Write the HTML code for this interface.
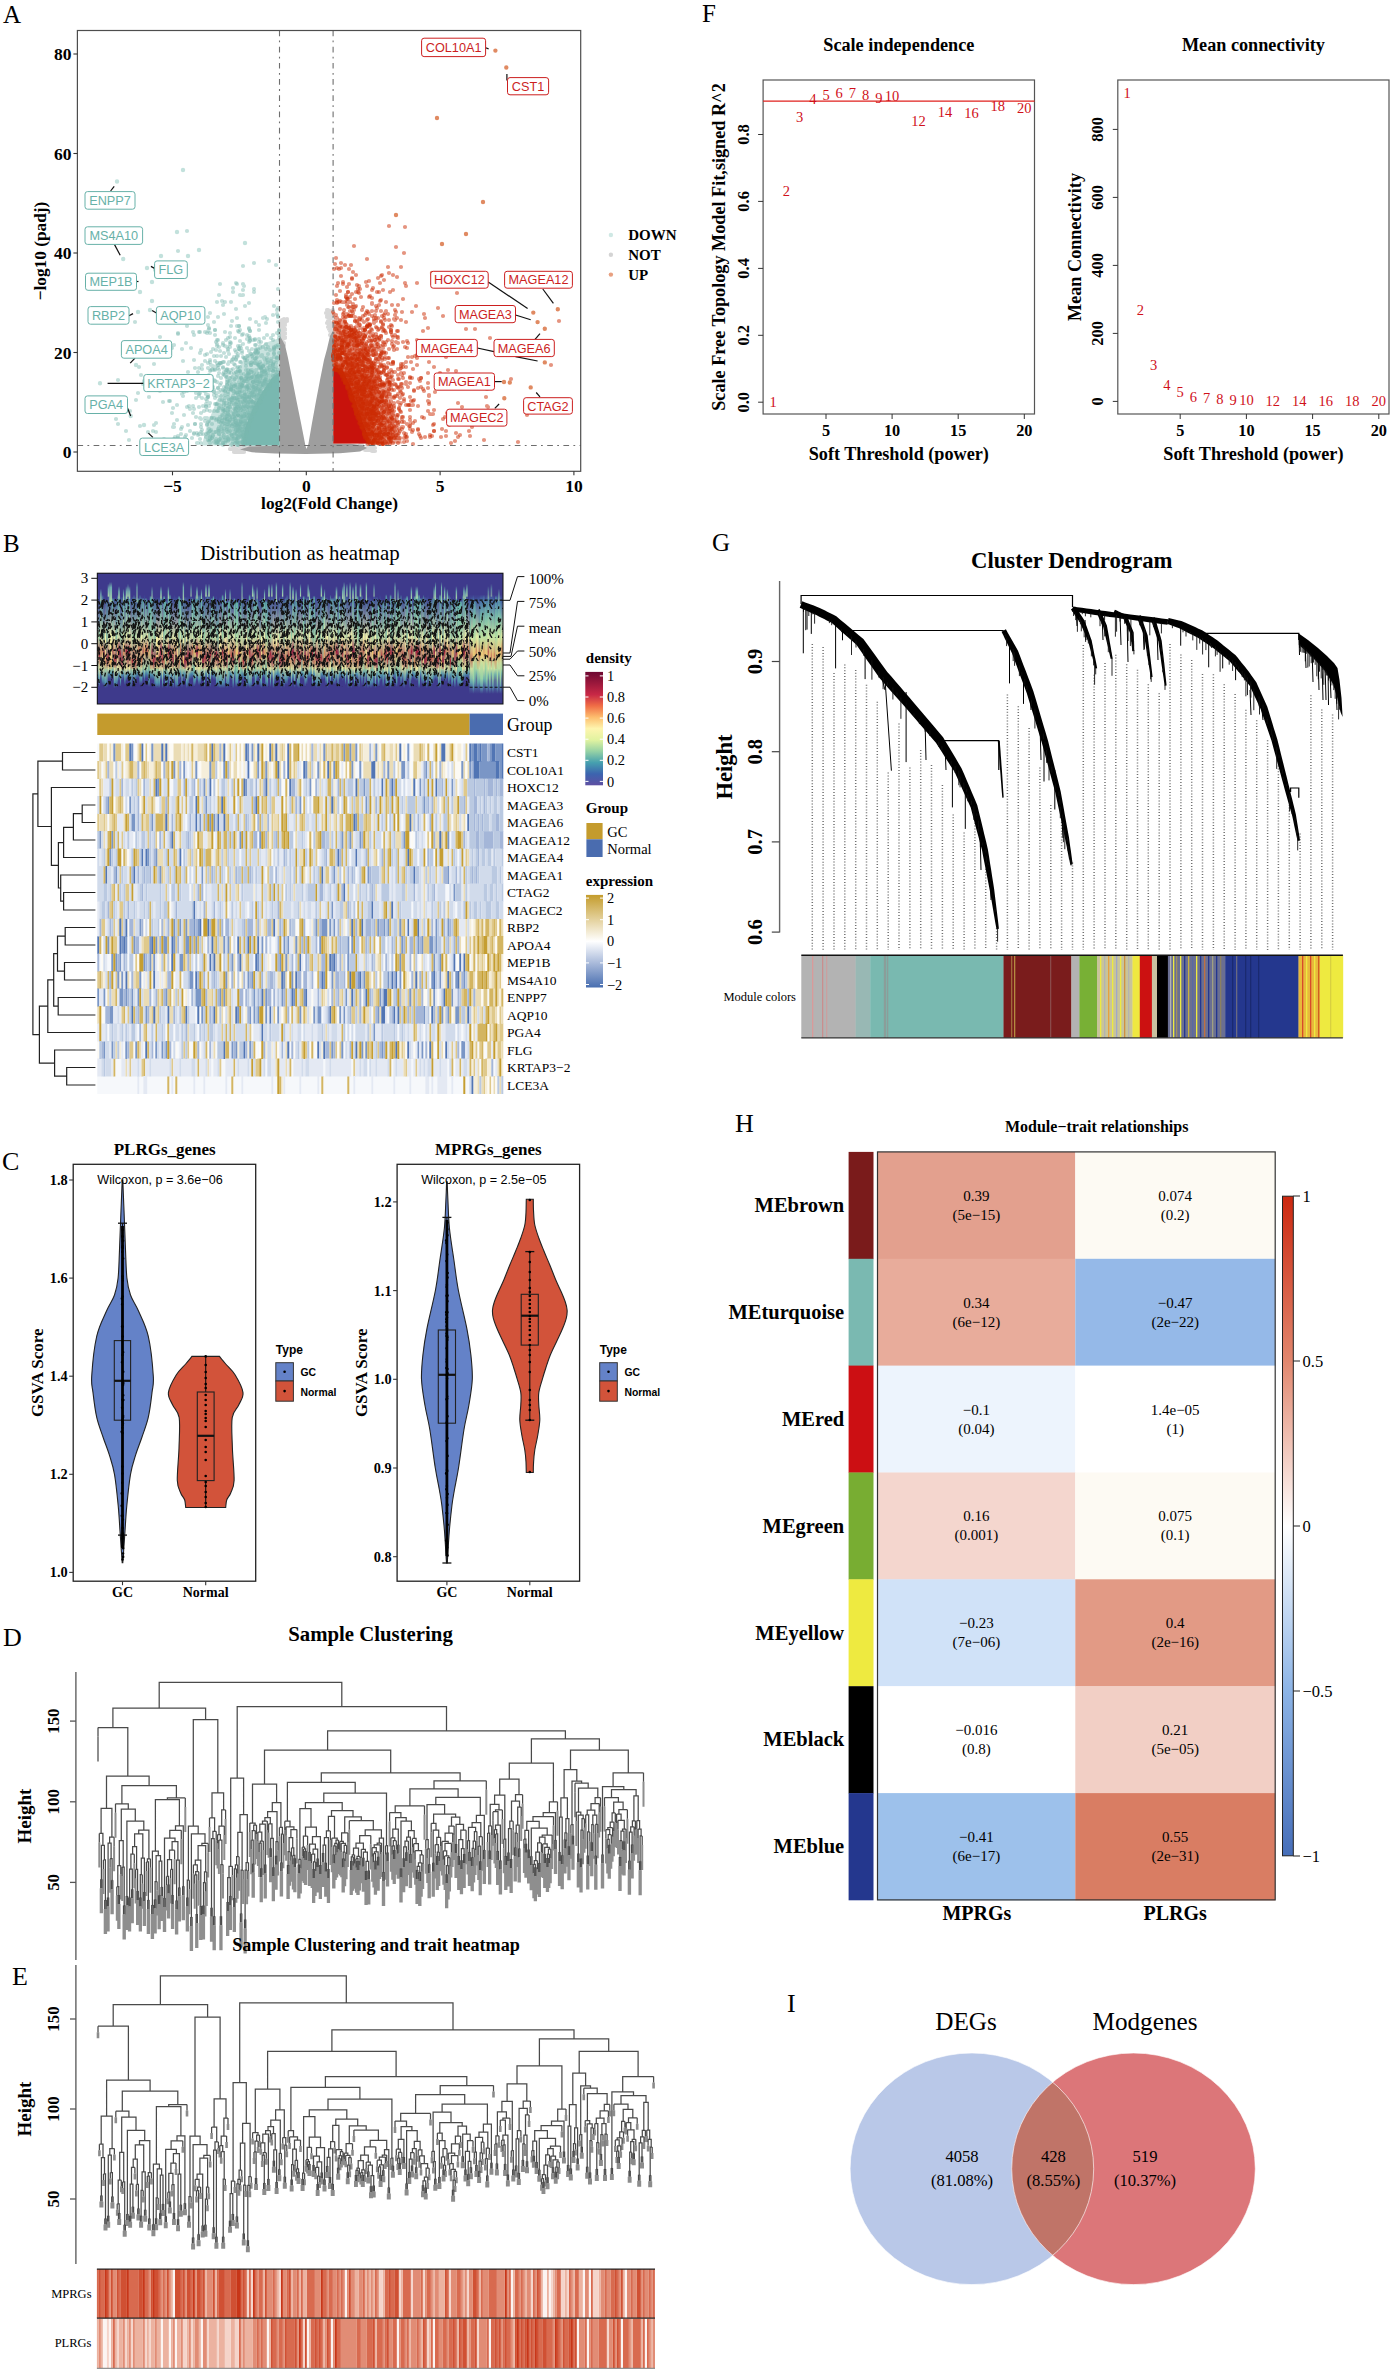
<!DOCTYPE html><html><head><meta charset="utf-8"><title>Figure</title><style>*{margin:0;padding:0}html,body{width:1392px;height:2371px;overflow:hidden;background:#fff}
svg{display:block}
.s{font-family:"Liberation Serif",serif}.sb{font-family:"Liberation Serif",serif;font-weight:bold}
.a{font-family:"Liberation Sans",sans-serif}.ab{font-family:"Liberation Sans",sans-serif;font-weight:bold}</style></head><body><svg width="1392" height="2371" viewBox="0 0 1392 2371"><text class="s" x="3" y="23" font-size="25">A</text><polygon points="279.5,335 285,345 288,358 292,378 296.5,401 301,423 305.5,446 306.5,449 308.4,444 312,423 316,401 320,380 324,360 327,349 330,336 333.3,330 333.3,443.5 350,443.8 362,445 367,448 360,451.5 340,453.3 306,454 275,453.5 252,452.3 240,449.5 250,446.3 279.5,445.8" fill="#9e9e9e"/><path d="M326 313h0m1 2h0m0-5h0m1 2h0m0-2h0m0 2h0m1 2h0m0-3h0m1 4h0m1-4h0m0 2h0m0-1h0m2-2h0m0 5h0m-51 5h0m2 0h0m0 0h0m0-1h0m0 1h0m0 0h0m2 0h0m1-1h0m0 2h0m40-4h0m0 0h0m1 4h0m0-4h0m0-1h0m0-1h0m0 0h0m1 0h0m2 1h0m0 2h0m0 0h0m0-2h0m1 2h0m1 0h0m0 1h0m0-1h0m-53 7h0m0-3h0m0 0h0m1 1h0m0 4h0m0-4h0m0-2h0m1 3h0m1-1h0m0-2h0m0 1h0m2 1h0m0 0h0m0 2h0m42-2h0m1-1h0m1-1h0m0 4h0m0 0h0m0 0h0m1-1h0m1 1h0m0 1h0m0-3h0m2 2h0m-53 5h0m1 0h0m2-2h0m0 2h0m0 2h0m1-1h0m0-4h0m0 4h0m1-2h0m0 1h0m0 0h0m0 0h0m43-3h0m1 2h0m1 2h0m1-4h0m0 1h0m0 4h0m0-1h0m1 2h0m0-2h0m0 0h0m1 2h0m0-5h0m0 2h0m0 0h0m-53 3h0m1 6h0m1-1h0m0 1h0m0-4h0m0 2h0m0-2h0m2 3h0m0-3h0m1-2h0m0 1h0m0 4h0m0-1h0m0 0h0m45-2h0m1-2h0m0 1h0m1 0h0m1 1h0m-53 5h0m1 3h0m1-1h0m0 1h0m1-1h0m0 2h0m1 0h0m0-1h0m0 1h0m0 1h0m0 0h0m-51 101h0m6 0h0m3 0h0m4 0h0m1 0h0m1 1h0m112-2h0m1-1h0m1 1h0m5 0h0m0-1h0m3 1h0m1 0h0m1 0h0m0 1h0m2-1h0m-144 4h0m3 0h0m1 3h0m0 0h0m0-2h0m1-2h0m1 4h0m0-3h0m1 3h0m1-2h0m0 2h0m2-1h0m1 1h0m0-1h0m0-4h0m1 4h0m1 0h0m0-1h0m1-3h0m0 5h0m3-4h0m2 1h0m0 0h0m1 0h0m111-2h0m3 2h0m1 1h0m1 0h0m2-2h0m0-1h0m1 3h0m0-3h0m1 2h0m0-1h0m1 0h0m1 3h0m1-2h0m0-1h0m0 2h0m0 0h0m1-1h0m1-1h0m0 0h0m0 3h0" stroke="#9e9e9e" stroke-width="4.2" fill="none" stroke-linecap="round" stroke-opacity="0.4"/><polygon points="279.5,338 265,343 247,357 230,377 217,400 207,425 202,445.5 279.5,445.5" fill="#79b8b0" fill-opacity="0.4"/><polygon points="279.5,372 272,378 262,392 252,410 245,428 242,445.5 279.5,445.5" fill="#79b8b0"/><path d="M243 284h0m1 2h0m-27 16h0m8 0h0m53 6h0m-60 9h0m13 9h0m47-4h0m-100 11h0m21-1h0m60-2h0m-29 7h0m34 1h0m15-3h0m-24 5h0m11 4h0m7-4h0m-82 8h0m22 1h0m6-2h0m0 0h0m1 4h0m19-2h0m0-1h0m16-3h0m1 4h0m4-3h0m0 2h0m14 0h0m-38 4h0m38 2h0m-91 7h0m57 1h0m4-4h0m10 5h0m2-2h0m20 2h0m-137 4h0m56 1h0m23-3h0m5 3h0m28-3h0m6-2h0m2 3h0m0 2h0m2-4h0m0 4h0m6 0h0m-42 7h0m6-2h0m17 2h0m0-2h0m1 1h0m1-3h0m2 1h0m7 2h0m3-3h0m1 3h0m2-3h0m0 3h0m2-5h0m9 3h0m-158 8h0m108-4h0m4 2h0m12 2h0m4 1h0m4-5h0m2 1h0m1-1h0m4 1h0m3 2h0m0-3h0m5 5h0m4-5h0m2 2h0m0 1h0m1-4h0m1 1h0m4 1h0m0 0h0m-97 9h0m22-5h0m0 3h0m9 3h0m1 0h0m15-5h0m14 2h0m2 2h0m11-2h0m0 3h0m4-1h0m2-4h0m2 3h0m2 0h0m3 2h0m1-2h0m5-4h0m-135 12h0m49-2h0m17 0h0m0-3h0m8 1h0m11 1h0m5 2h0m3-3h0m2 1h0m1 3h0m2-6h0m3 5h0m1 0h0m4 0h0m5 0h0m0-3h0m12 0h0m5-2h0m0 3h0m2-1h0m-66 9h0m15-2h0m15 2h0m6-4h0m6 0h0m1 3h0m4 0h0m3-2h0m2 0h0m8 1h0m-55 5h0m3 2h0m5 1h0m5-4h0m4 3h0m12-2h0m1 1h0m1 0h0m5 0h0m4 0h0m4-2h0m4 3h0m2-3h0m0 3h0m2 0h0m-40 5h0m5 3h0m2-1h0m2-2h0m11 1h0m2 1h0m7-3h0m5 1h0m1 0h0m-124 3h0m71 2h0m16-2h0m6 4h0m1-1h0m3 2h0m1-5h0m9 5h0m4-1h0m2 0h0m1 1h0m1-2h0m3 1h0m1 0h0m1 1h0m-45 2h0m2 0h0m12 1h0m2 4h0m1-5h0m7 3h0m1-4h0m3 3h0m2-2h0m6 2h0m2-1h0m2 1h0m4-3h0m1 1h0m0 1h0m-110 7h0m42 1h0m13-3h0m6 3h0m17 2h0m3-2h0m4-3h0m3 0h0m9 1h0m0 0h0m1-1h0m1 3h0m1-3h0m0 0h0m1 5h0m2-5h0m2-1h0m-92 8h0m44 2h0m9 1h0m14-3h0m3 0h0m3-1h0m2 2h0m1 1h0m5 1h0m1-3h0m5-1h0m0 3h0m1 1h0m0-5h0m1 4h0m1 0h0m1 0h0m3-2h0m-118 9h0m79 0h0m16-5h0m1 3h0m2-1h0m0 1h0m2 1h0m5-1h0m2 1h0m7-2h0m-46 6h0m1 0h0m19-1h0m6 1h0m3-2h0m16 1h0m2 2h0m1 0h0" stroke="#79b8b0" stroke-width="4.2" fill="none" stroke-linecap="round" stroke-opacity="0.45"/><path d="M243 266h0m-6 18h0m6 6h0m-33 23h0m14 1h0m53 0h0m-103 1h0m13 11h0m50 0h0m2 0h0m27-3h0m-51 7h0m34-2h0m1 3h0m-40 2h0m40 5h0m27-5h0m-60 11h0m1-4h0m8 0h0m4 2h0m23-2h0m-52 10h0m27-1h0m12 1h0m2 1h0m10-2h0m6 0h0m5-2h0m-58 8h0m16 1h0m13 1h0m11 1h0m22 0h0m4 1h0m-63 4h0m12 0h0m1 0h0m16 5h0m26-2h0m10 2h0m0-4h0m-61 5h0m12 3h0m3-2h0m7 3h0m4-3h0m1 1h0m10 3h0m13-4h0m0 0h0m8 0h0m3 0h0m-80 10h0m2 1h0m15 0h0m11-3h0m6-1h0m1 0h0m7 2h0m12-3h0m1 1h0m9 0h0m4-1h0m5 1h0m6 4h0m2-3h0m1 2h0m1-5h0m-133 9h0m12 2h0m52-1h0m17 2h0m10-1h0m5-4h0m1 5h0m3-4h0m9 1h0m1-2h0m3 1h0m3 2h0m0 1h0m0 1h0m1-4h0m1 3h0m1-5h0m2 0h0m3 4h0m2 1h0m2-3h0m-85 5h0m10 5h0m29-2h0m6-2h0m5 1h0m1 2h0m2-3h0m1 1h0m1-3h0m6 0h0m8 5h0m1-3h0m1-1h0m3 2h0m1 3h0m-55 6h0m1-1h0m14-2h0m16 3h0m6-1h0m2 1h0m0 0h0m7-3h0m4 0h0m4-2h0m-97 8h0m7-1h0m52-1h0m7 0h0m1 2h0m6 1h0m8-4h0m2 2h0m2 2h0m1-2h0m2-1h0m1 2h0m4 1h0m0 0h0m4-1h0m0-2h0m1 0h0m-88 8h0m31 3h0m2-5h0m20 0h0m3 0h0m1 2h0m7-1h0m2-1h0m3 1h0m2 2h0m2-1h0m0-1h0m1-1h0m1 0h0m4 0h0m3 2h0m-83 5h0m21 0h0m3 4h0m26-2h0m5 1h0m1-3h0m1 2h0m1-4h0m4 2h0m1-2h0m3 2h0m0 2h0m5 2h0m2-1h0m-129 3h0m61 1h0m28 1h0m7-3h0m4 2h0m9-2h0m2 4h0m2 0h0m3-5h0m2 0h0m0 6h0m1-2h0m3-1h0m3-1h0m2 2h0m0-3h0m1 2h0m2-1h0m0 3h0m0-2h0m1-2h0m3 3h0m-96 4h0m2-2h0m32 2h0m19-1h0m5 0h0m20 0h0m4 2h0m4-2h0m0 4h0m5-1h0m0-1h0m1 1h0m0 1h0m0-2h0m1 0h0m2 1h0m0-1h0m-93 6h0m25 2h0m21-4h0m8 1h0m3 4h0m3-3h0m13-2h0m2 1h0m4 2h0m1-3h0m0-1h0m0 2h0m6-1h0m2 5h0m3-2h0m0-3h0m-35 8h0m7 2h0m9-1h0m7 0h0m1 0h0m1-3h0m4 0h0m2 4h0m0-3h0m-89 8h0m25-1h0m35-2h0m5 2h0m9-3h0m8 1h0m1 3h0m7 0h0m1-3h0" stroke="#79b8b0" stroke-width="4.2" fill="none" stroke-linecap="round" stroke-opacity="0.45"/><path d="M240 295h0m3 0h0m11-3h0m-32 9h0m-14 24h0m48-3h0m3 3h0m-59 7h0m5 0h0m3-1h0m1-2h0m31 1h0m39 0h0m-119 7h0m18-3h0m65 0h0m4 1h0m2 3h0m24-3h0m-43 9h0m17-5h0m12 3h0m19 3h0m-53 1h0m2 1h0m8 3h0m4-1h0m2-1h0m8 3h0m17-2h0m4 1h0m4-3h0m-63 5h0m26 4h0m10 0h0m3-3h0m1 1h0m5-1h0m1 0h0m-63 7h0m16 2h0m5-1h0m6 2h0m3-1h0m2-5h0m3 5h0m7-3h0m7-2h0m7 6h0m2-1h0m3-3h0m12 1h0m-59 8h0m15-1h0m5-3h0m18-1h0m12 2h0m3 3h0m2-2h0m6 1h0m3 0h0m1-2h0m3 2h0m-65 3h0m2 0h0m6 0h0m0 3h0m4 1h0m17-3h0m8-1h0m6 3h0m0 0h0m8-1h0m3-1h0m8 0h0m4 1h0m-63 8h0m1 1h0m26-3h0m4 3h0m0-2h0m3 0h0m3-1h0m3-2h0m2 5h0m0-1h0m17 1h0m2-6h0m0 3h0m1-1h0m-132 4h0m35 3h0m12 0h0m13-3h0m13 1h0m3 3h0m14 1h0m1 0h0m12-5h0m0 5h0m5 0h0m7-4h0m4 3h0m0-1h0m0-2h0m3 0h0m2 2h0m1 0h0m1-2h0m-110 9h0m24 1h0m16-3h0m13 2h0m1-1h0m5 2h0m12-2h0m8 2h0m1-4h0m9 2h0m3 2h0m1-2h0m5-1h0m-62 9h0m19 0h0m1-5h0m18 6h0m1-1h0m1-5h0m1 5h0m4 0h0m0-2h0m4-2h0m4 3h0m10 1h0m0-4h0m1 5h0m-91 2h0m37 3h0m11 0h0m7-3h0m7-2h0m1 5h0m0-3h0m8-1h0m0 1h0m1 3h0m10-2h0m0 0h0m5 2h0m0-1h0m4-3h0m0 0h0m-70 9h0m9-2h0m4-1h0m4 4h0m11 1h0m1-2h0m4 0h0m13-1h0m2 3h0m0-4h0m5 0h0m1 3h0m0 1h0m1 0h0m1-5h0m3 2h0m1 2h0m1 1h0m3-3h0m-40 3h0m25 5h0m3-3h0m2 0h0m0 3h0m5-3h0m1 2h0m1 2h0m3-3h0m-40 4h0m5 3h0m4 2h0m2 0h0m0-4h0m11 2h0m4 2h0m2-6h0m6 1h0m4 1h0m-134 5h0m77 0h0m12 1h0m15 0h0m6-1h0m3 3h0m0-1h0m2 0h0m3-3h0m3 3h0m8-2h0m1 0h0m-122 7h0m64 0h0m4 2h0m14 0h0m4-1h0m3 0h0m3-1h0m1 3h0m4-1h0m13 1h0m2-3h0m2 3h0m0-3h0m2 1h0m3-2h0m-81 9h0m10 0h0m4-1h0m14 0h0m6-3h0m12 4h0m0-2h0m6 2h0m16-4h0m0 0h0m1 1h0m5 2h0m1-1h0m3-2h0m2 2h0m-21 8h0m15-3h0m5 0h0" stroke="#79b8b0" stroke-width="4.2" fill="none" stroke-linecap="round" stroke-opacity="0.45"/><path d="M269 261h0m-49 23h0m34 5h0m24 0h0m-1 21h0m-69 7h0m29 1h0m41-2h0m-85 16h0m16-4h0m30 4h0m10-3h0m-42 4h0m8 2h0m27 0h0m-26 7h0m7 3h0m8-2h0m9-2h0m10-1h0m-68 9h0m35-3h0m23 0h0m7 2h0m9 2h0m12-3h0m6 3h0m3-3h0m2 0h0m-79 6h0m14 3h0m38 0h0m3-4h0m24 1h0m-74 8h0m27-1h0m4 0h0m11 0h0m10-3h0m3 5h0m11 1h0m3-6h0m3 0h0m-59 11h0m2-5h0m31 0h0m4 0h0m2 1h0m3 3h0m3 0h0m5-4h0m5 2h0m-45 7h0m0 1h0m1 0h0m0-3h0m2 0h0m6 4h0m1-2h0m6 2h0m2-4h0m5 0h0m1 0h0m12-1h0m1 1h0m3 3h0m1-3h0m4 1h0m5-1h0m-116 10h0m34 0h0m19 1h0m3-5h0m12 5h0m2-4h0m5-2h0m2 3h0m9 1h0m4-2h0m3 2h0m3-3h0m0 3h0m2-3h0m6 3h0m-63 6h0m24-1h0m5 0h0m3 0h0m7 2h0m2-5h0m4 6h0m0-3h0m5-2h0m0 5h0m10-3h0m1-1h0m1 2h0m1-1h0m-48 4h0m3 2h0m10-3h0m26 3h0m2 0h0m6-2h0m-83 6h0m1 2h0m17-3h0m6 1h0m2 1h0m17 0h0m3-1h0m5 4h0m3 0h0m3-1h0m2 0h0m3 2h0m1-2h0m0-2h0m1 3h0m3-2h0m1 1h0m1-4h0m1 1h0m1 2h0m2 1h0m0 0h0m4 2h0m5-6h0m-48 11h0m8 1h0m5-1h0m11-2h0m2 0h0m2 2h0m0-4h0m1 3h0m5 1h0m3-2h0m1 0h0m2-3h0m1 6h0m2-6h0m-72 8h0m6-1h0m17 5h0m0 0h0m13-2h0m11 0h0m1-2h0m0 0h0m10 0h0m2 3h0m4-4h0m3 0h0m1 2h0m1-3h0m1 2h0m-32 5h0m1 4h0m2-1h0m1 0h0m3 1h0m6-1h0m2-4h0m2 5h0m3-2h0m0 2h0m3-3h0m2 3h0m0-3h0m1 2h0m1 2h0m0-5h0m3-1h0m-46 10h0m2-3h0m8 4h0m3-1h0m4-2h0m1-2h0m3 3h0m3-1h0m1-2h0m7 5h0m4-1h0m5 0h0m0 0h0m0 0h0m1-1h0m-78 7h0m1 0h0m0-3h0m27 0h0m26 5h0m2-3h0m4-2h0m3 3h0m0-2h0m1-1h0m0 4h0m0-2h0m1 2h0m0-2h0m4 3h0m4-3h0m0-2h0m2 0h0m-39 5h0m25 0h0m3 2h0m6 4h0m2-6h0m1 1h0m-68 6h0m7 1h0m27 1h0m9 2h0m0-3h0m3 3h0m2 0h0m7-1h0m10 0h0m2 1h0m0-1h0m1-2h0m-45 6h0m16 0h0m6 0h0m12 0h0m3 1h0m0 1h0m2-3h0m3 2h0m0 0h0m2-1h0" stroke="#79b8b0" stroke-width="4.2" fill="none" stroke-linecap="round" stroke-opacity="0.45"/><path d="M187 231h0m-9 20h0m-23 19h0m29 0h0m49 18h0m-2 14h0m-8 3h0m51 1h0m-38 3h0m14 10h0m17 0h0m6-4h0m5 2h0m-64 5h0m18-1h0m7 5h0m-24 4h0m35 1h0m29 0h0m-51 7h0m7 0h0m14-2h0m10 3h0m12-1h0m8 0h0m-30 4h0m7 3h0m-84 3h0m44 2h0m14-3h0m-6 6h0m4-2h0m1 3h0m8 3h0m1-3h0m0 2h0m4-3h0m6 3h0m3-2h0m3 0h0m2-3h0m2 2h0m3 3h0m1-1h0m6-1h0m-58 6h0m13 2h0m9 0h0m13-2h0m8-2h0m3 0h0m8 0h0m1 2h0m6 1h0m6-3h0m-78 10h0m3-3h0m15-2h0m10 6h0m7-5h0m4 3h0m8-1h0m15 2h0m9-2h0m4 3h0m1 0h0m-134 6h0m47-3h0m27-2h0m9 5h0m2-3h0m7-3h0m15 4h0m3-1h0m5-2h0m0 4h0m1-1h0m5 0h0m4 0h0m-119 6h0m62-4h0m15 0h0m2 2h0m2 4h0m13-3h0m5 0h0m0 1h0m8 1h0m3 1h0m5-6h0m1 3h0m2 1h0m3 1h0m5-1h0m0-3h0m2 0h0m-111 6h0m30 4h0m19 1h0m13 0h0m1-2h0m13 0h0m2-1h0m7 1h0m1-4h0m6 5h0m14-1h0m-56 7h0m15-3h0m3 1h0m0-3h0m1 4h0m2 1h0m7-1h0m0-3h0m1 0h0m1 0h0m2 2h0m1-2h0m6 4h0m1-2h0m1-2h0m5 4h0m4 0h0m3-3h0m-68 5h0m9 3h0m30-2h0m4 1h0m3 0h0m0-1h0m2-1h0m1 5h0m1-1h0m8-3h0m3 0h0m2 2h0m3-3h0m-88 11h0m49-2h0m1 0h0m5-1h0m2 2h0m3 1h0m7-3h0m1-2h0m1 4h0m2 0h0m0-4h0m4 1h0m0 0h0m1 1h0m6 1h0m1-1h0m0-1h0m-66 8h0m12-2h0m17 4h0m12-2h0m2-1h0m3 0h0m0 0h0m4-2h0m8 2h0m2 1h0m0-4h0m0 6h0m2-1h0m0-4h0m-72 9h0m49-2h0m1 1h0m2-2h0m2 3h0m3 2h0m8-2h0m2 0h0m0 2h0m3-6h0m-54 7h0m1 1h0m26 0h0m3 0h0m0 2h0m11 0h0m0-4h0m3 6h0m2 0h0m3-4h0m1 2h0m-23 6h0m5-2h0m0 1h0m4-3h0m1 3h0m1 2h0m0 0h0m2-1h0m3 0h0m1-1h0m1 0h0m-97 6h0m38 3h0m8-1h0m7-2h0m2 2h0m16 0h0m0-3h0m5-2h0m13 4h0m2-2h0m4 1h0m-68 5h0m25 2h0m13-3h0m11 1h0m4 0h0m1 3h0m2-1h0m0-4h0m0 4h0m6 0h0m1-2h0m1 1h0m2-1h0m3 2h0m0 1h0m-35 1h0m1 2h0m8-1h0m7 1h0m8-1h0m4 0h0m3 1h0" stroke="#79b8b0" stroke-width="4.2" fill="none" stroke-linecap="round" stroke-opacity="0.45"/><path d="M254 263h0m22 2h0m-40 18h0m-17 12h0m14-3h0m12 14h0m4-3h0m14 15h0m2-1h0m-130 5h0m90 10h0m5 1h0m8-2h0m-44 4h0m73 0h0m-93 10h0m12-2h0m31-3h0m6 3h0m20 1h0m7-3h0m5-2h0m6 3h0m-23 4h0m36 3h0m2-3h0m-69 8h0m10 2h0m41-4h0m16 1h0m-41 6h0m8 3h0m27 0h0m6 0h0m3-4h0m0 2h0m-123 4h0m48 5h0m9-4h0m2 1h0m2 3h0m2-3h0m2-1h0m16 0h0m5 2h0m11-2h0m8 0h0m1 2h0m5-3h0m-67 8h0m12-1h0m16-1h0m3 2h0m7 0h0m4-1h0m1 3h0m7 0h0m16-2h0m2 3h0m-39 5h0m7 0h0m2-3h0m6 3h0m0-2h0m4-2h0m1 1h0m4 1h0m6-2h0m1 0h0m2 2h0m1-1h0m1-1h0m3 4h0m-64 4h0m20-1h0m9 2h0m6 0h0m2 0h0m4 0h0m4 2h0m7-5h0m4 0h0m1 2h0m1-2h0m3 5h0m2-4h0m4-1h0m2 4h0m0-5h0m-63 8h0m11-1h0m7 3h0m2-3h0m11 0h0m9 1h0m4-1h0m2 4h0m0-1h0m1-4h0m0 4h0m2-3h0m1 2h0m1 2h0m3-1h0m-112 6h0m50-1h0m9 1h0m6-2h0m11 3h0m3-1h0m1 2h0m4-3h0m1 2h0m0-1h0m6-4h0m5 6h0m2-2h0m4-3h0m2 2h0m1 1h0m1-4h0m1 0h0m1 6h0m0-5h0m2 3h0m1-1h0m4-2h0m-128 6h0m83 5h0m12-5h0m1 0h0m4 4h0m2-4h0m1 5h0m6-5h0m4 2h0m4 0h0m7-1h0m0-2h0m1 3h0m-72 4h0m20 0h0m12 0h0m4 4h0m2 0h0m1-2h0m0 2h0m2-3h0m6 2h0m5-1h0m2 3h0m6-3h0m1 2h0m2 1h0m0-4h0m1 1h0m2 2h0m1-3h0m1 1h0m-37 9h0m8-3h0m6 0h0m1 1h0m0 0h0m1-4h0m11 5h0m0-3h0m1-1h0m1-1h0m1 1h0m1 2h0m3-2h0m1-1h0m-47 11h0m9-3h0m5 1h0m0 1h0m1 1h0m4-2h0m8 2h0m0-4h0m3 3h0m4 2h0m-61 6h0m38-1h0m0-1h0m6-1h0m10 1h0m3-3h0m2 0h0m3 2h0m0-1h0m5 1h0m1-1h0m-50 9h0m2 0h0m8-2h0m2-2h0m11-1h0m5 3h0m3-1h0m8-1h0m3 3h0m3 0h0m1 0h0m0-3h0m1-1h0m1 2h0m0-1h0m-66 10h0m25-3h0m3-1h0m1 0h0m0 4h0m9 0h0m1-1h0m12-4h0m0 1h0m5 3h0m1-3h0m1 1h0m2-2h0m3 4h0m0-2h0m-73 6h0m45-2h0m0 2h0m0-1h0m15 3h0m1-1h0m5-2h0m6 1h0m2-1h0m0 1h0" stroke="#79b8b0" stroke-width="4.2" fill="none" stroke-linecap="round" stroke-opacity="0.45"/><polygon points="333.3,322 343,318 355,330 368,352 382,380 394,410 402,443.5 333.3,443.5" fill="#cc2a02" fill-opacity="0.45"/><polygon points="333.3,366 343,371 350,385 356,403 363,423 371,443.5 333.3,443.5" fill="#c8120c"/><path d="M354 246h0m2 29h0m25 1h0m16 1h0m-59 6h0m5-1h0m15 7h0m-22 6h0m12-3h0m11 1h0m20-1h0m-42 8h0m11-1h0m7 0h0m-21 4h0m15 4h0m27-1h0m-36 3h0m4 4h0m3 1h0m19-1h0m-30 5h0m1 0h0m22 2h0m0-2h0m1 0h0m29 2h0m-55 2h0m21-1h0m2 2h0m10 4h0m3-2h0m-19 5h0m7 1h0m7-1h0m101-1h0m-131 7h0m11 3h0m3-3h0m3 2h0m2-4h0m2 4h0m3 0h0m6-2h0m5 0h0m2-1h0m1-1h0m4 4h0m0-1h0m4-1h0m-46 9h0m1-5h0m8 1h0m0 0h0m7-1h0m0 1h0m3 4h0m3-2h0m0-2h0m1 3h0m3-2h0m1 1h0m0-4h0m9 6h0m0-4h0m2 4h0m12 0h0m3-5h0m20 3h0m-72 8h0m0-5h0m5 2h0m2 0h0m2 2h0m3-5h0m16 3h0m1 0h0m5 3h0m6-5h0m5 0h0m0 5h0m2-3h0m37-1h0m-87 7h0m5-1h0m2 4h0m2-4h0m5 4h0m1-6h0m1 2h0m0-2h0m2 2h0m4 3h0m5-3h0m0 4h0m4 0h0m2-4h0m3-1h0m7 2h0m-42 5h0m2-1h0m0 3h0m1-2h0m5 0h0m0 1h0m2-1h0m2-1h0m1 1h0m0 2h0m1-1h0m0-1h0m0 4h0m1-3h0m1 0h0m6 0h0m4 2h0m2-2h0m0-2h0m4 1h0m3 2h0m13-3h0m7 0h0m-54 7h0m8 0h0m6 0h0m2 0h0m1-1h0m5 3h0m1-3h0m2 5h0m1-5h0m4 2h0m3-3h0m2 6h0m4-2h0m0-1h0m8 0h0m24 1h0m-71 3h0m1 0h0m1 0h0m3 1h0m1 2h0m0-1h0m0-2h0m8 2h0m2-3h0m3 4h0m3 2h0m1-2h0m1-1h0m0-2h0m1 4h0m0-1h0m10-1h0m1 3h0m1-3h0m0-3h0m12 1h0m1 4h0m4-2h0m2-2h0m3 2h0m1 0h0m33 1h0m-86 3h0m1 4h0m1-4h0m0 1h0m3-2h0m4 2h0m1 3h0m1-5h0m4 2h0m1 0h0m2 3h0m0-4h0m1 3h0m0-4h0m1 1h0m4 2h0m2-2h0m1 5h0m4 0h0m2-2h0m2-1h0m2-1h0m1 0h0m7 3h0m5-4h0m-47 6h0m0-1h0m3 6h0m1-3h0m2-2h0m2 2h0m3-1h0m0 2h0m2-2h0m7-2h0m2 6h0m0-4h0m9 3h0m8-1h0m5-3h0m0 2h0m7 1h0m24-4h0m34 2h0m-104 9h0m1-2h0m0 2h0m2-2h0m1 0h0m0-1h0m1 3h0m2-3h0m2-1h0m0 1h0m2 0h0m0-1h0m4 0h0m0 3h0m1-3h0m3-1h0m4 2h0m2-1h0m4 4h0m5 0h0m4-1h0m11-4h0m3 1h0m12 2h0m14-2h0m59 1h0m-137 6h0m2 0h0m0 1h0m0 1h0m4 0h0m1-1h0m1 0h0m3 2h0m1-3h0m1 0h0m2 2h0m3 0h0m1-1h0m3 0h0m1 1h0m9-1h0m0 1h0m4-1h0m5 1h0m3 1h0m6 0h0m2-3h0m-50 5h0m3 3h0m3-1h0m3-1h0m0 0h0m0 0h0m0-1h0m2 3h0m2 2h0m1-6h0m1 4h0m2-1h0m3 2h0m0-1h0m8-1h0m49 2h0m-75 2h0m5 5h0m2-2h0m0-4h0m0 6h0m1-2h0m0-2h0m1-2h0m3 6h0m2-5h0m3 5h0m0-3h0m1 0h0m2-2h0m1 1h0m2 3h0m13-1h0m20 1h0m-54 2h0m3 4h0m1-2h0m3 0h0m2 0h0m1 0h0m1 0h0m1-1h0m2 3h0m2-3h0m3 0h0m4 0h0m4 3h0m8-3h0m2 2h0m5 0h0m3-3h0m2 5h0m27-3h0m3 0h0m-76 3h0m3 4h0m4-2h0m0 0h0m6 4h0m1-3h0m0 2h0m1-3h0m2 0h0m2-1h0m3 0h0m9 3h0m14-2h0m94 3h0m-131 5h0m1 0h0m1-3h0m4 1h0m1 1h0m1-2h0m0 2h0m2-2h0m4 1h0m0 3h0m0-1h0m1-1h0m1-2h0m4 4h0m4-2h0m1-3h0m4 3h0m8 1h0m1 0h0m30-2h0m9 4h0m-77 2h0m1 0h0m0 2h0m1-2h0m0 3h0m2-4h0m0 4h0m0 0h0m1 0h0m0-4h0m1 1h0m1 2h0m2 2h0m3-2h0m0 0h0m2 0h0m3 1h0m2 0h0m1-3h0m3 3h0m2 0h0m10-3h0m4 2h0m-37 6h0m7 1h0m1 0h0m3-1h0m1-2h0m2-1h0m3 1h0m5 1h0m1 2h0m1-1h0m15-2h0m0 0h0m78 3h0m-116 2h0m5 2h0m4-1h0m2 1h0m3-2h0m5 2h0" stroke="#cc2a02" stroke-width="4.2" fill="none" stroke-linecap="round" stroke-opacity="0.5"/><path d="M396 247h0m8 6h0m-37 6h0m-16 6h0m31 10h0m-2 8h0m37 0h0m-44 5h0m33-2h0m-60 9h0m24 1h0m-24 1h0m15 0h0m42 2h0m-50 8h0m3-1h0m-12 4h0m8 1h0m10-1h0m6 2h0m-22 5h0m0 0h0m3-1h0m4 0h0m2 5h0m0-4h0m26 4h0m20-1h0m-56 2h0m1 5h0m22-3h0m24 2h0m-50 1h0m12 3h0m0 0h0m2 1h0m9-1h0m17-2h0m1 3h0m0-2h0m-48 8h0m10-3h0m3 3h0m6-3h0m1 4h0m2-4h0m7 4h0m16 1h0m1-3h0m0 2h0m11-3h0m3 0h0m-53 8h0m0 2h0m1-5h0m6 3h0m0 0h0m5-2h0m3 1h0m21 2h0m14 0h0m15-3h0m-69 9h0m0-1h0m9-2h0m8 1h0m0 1h0m2-1h0m1-3h0m1 0h0m5 6h0m8 0h0m33-4h0m-70 7h0m4 2h0m3-3h0m10 4h0m1-2h0m8-1h0m1 0h0m1 2h0m5-2h0m1 1h0m13-3h0m4 1h0m-48 5h0m3 0h0m5 0h0m0 4h0m4 0h0m0 1h0m3-5h0m5 1h0m3 2h0m2 1h0m1-3h0m2-2h0m1 2h0m7 4h0m2-5h0m3 1h0m1 0h0m2 1h0m11 2h0m18 0h0m-74 2h0m0 3h0m3 0h0m2 1h0m2-1h0m3 2h0m1-3h0m1-2h0m1 4h0m2-2h0m2 2h0m5-4h0m0 3h0m3-2h0m3 2h0m1 1h0m1 0h0m5-2h0m2-2h0m10 3h0m19 0h0m148-2h0m-210 6h0m2 3h0m4-3h0m1 2h0m1 1h0m3-1h0m1-2h0m0 1h0m3 0h0m2 2h0m3 1h0m4-4h0m1 0h0m1 0h0m11-1h0m1 2h0m4 0h0m15-3h0m2 0h0m-55 8h0m0 3h0m0-2h0m0 0h0m3 2h0m1-3h0m6 4h0m1-2h0m2 2h0m5-2h0m1-1h0m0 0h0m6 0h0m5 3h0m4-2h0m1 1h0m8-3h0m3 0h0m2 3h0m19-2h0m51-1h0m-116 6h0m1 0h0m1-1h0m3 2h0m1-1h0m3 2h0m0 2h0m2-4h0m0 3h0m1 0h0m2 1h0m3-4h0m0 1h0m1-2h0m2 2h0m2-3h0m13 3h0m1 1h0m0 1h0m1-1h0m8 0h0m9-1h0m20 3h0m56-2h0m-122 7h0m2 0h0m3-4h0m2 3h0m0-1h0m1-3h0m1 3h0m3-2h0m1-1h0m3 0h0m0 2h0m3-1h0m2 5h0m0-2h0m1-2h0m2 3h0m12-4h0m7 0h0m3 4h0m-50 4h0m0 0h0m3 0h0m0-1h0m0 0h0m3-1h0m1 4h0m1 0h0m2 0h0m1-4h0m2 2h0m0-2h0m1 1h0m2 3h0m1-2h0m1-2h0m1 4h0m0-5h0m5 3h0m1 3h0m3-3h0m19-2h0m88 3h0m-132 8h0m2-4h0m1 4h0m1-2h0m2-3h0m0 3h0m4-1h0m0 1h0m1-1h0m2 2h0m4-3h0m1 0h0m4 2h0m1 1h0m0-3h0m1 2h0m0 1h0m4-3h0m4 3h0m0-3h0m42 0h0m1 1h0m29 1h0m-105 3h0m2 1h0m0 1h0m1 2h0m1-4h0m2 1h0m0-1h0m0 0h0m0-1h0m3 6h0m1-3h0m2 2h0m0-1h0m1 2h0m1-1h0m1-1h0m3 0h0m2 1h0m1-4h0m8 0h0m3 5h0m1-5h0m1 2h0m4-2h0m8 3h0m29 2h0m-72 3h0m2 3h0m0-1h0m0-4h0m1 2h0m1-1h0m2 3h0m2-1h0m1-1h0m0-2h0m3 1h0m2 1h0m1 2h0m1-5h0m0 5h0m3-1h0m8 1h0m0-3h0m6-2h0m1 0h0m65 2h0m10 1h0m-106 5h0m1 2h0m1-3h0m0 0h0m3 3h0m0 1h0m1-5h0m0 4h0m4-2h0m1-1h0m1 2h0m0 2h0m7 1h0m0-2h0m4-3h0m2 5h0m0 0h0m5-2h0m1-2h0m2 2h0m0 2h0m2-3h0m1 1h0m2-4h0m25 0h0m-62 7h0m2 3h0m2-2h0m3 1h0m1-1h0m2-2h0m0 6h0m1-6h0m1 1h0m1 2h0m0 1h0m0-3h0m1 1h0m3-2h0m5 0h0m9 5h0m19-2h0m39-1h0m10-1h0m-95 10h0m0-1h0m1 1h0m2 1h0m5-2h0m1 1h0m3-2h0m0-2h0m1 3h0m5-3h0m4 0h0m2-1h0m4 6h0m5 0h0m5-6h0m10 3h0m6-2h0m16 1h0m-65 4h0m1 2h0m0 3h0m5-2h0m4-3h0m11 3h0m0 0h0m3-2h0m14 1h0m13-1h0m12 0h0m14 0h0m-74 6h0m1 1h0m0-1h0m5 1h0m1 0h0m3 1h0m11-1h0m5 0h0m53 0h0m67-1h0" stroke="#cc2a02" stroke-width="4.2" fill="none" stroke-linecap="round" stroke-opacity="0.5"/><path d="M339 269h0m62-2h0m-49 11h0m26 0h0m11-5h0m-46 11h0m6 0h0m-12 2h0m35 4h0m-24 2h0m8 0h0m34 0h0m-43 10h0m3 0h0m31-2h0m-44 3h0m10 2h0m1 2h0m0 0h0m4 0h0m3 0h0m8 0h0m14 1h0m61 0h0m-88 3h0m17 0h0m21 3h0m14-2h0m10 0h0m-72 8h0m9-4h0m2 0h0m23 2h0m0 1h0m10-1h0m41 0h0m54 2h0m-143 2h0m2 2h0m2 2h0m19-2h0m0 1h0m8 1h0m2-1h0m1 0h0m11-3h0m-38 10h0m0 1h0m6-5h0m1 4h0m2-2h0m2 2h0m1-2h0m4 3h0m4-3h0m7 2h0m1-3h0m20 3h0m6-1h0m26 0h0m-82 2h0m0 5h0m5-3h0m4 0h0m1 1h0m3 2h0m5-2h0m4-1h0m2 1h0m8 0h0m3-2h0m3 4h0m14-1h0m-58 5h0m7-2h0m4 1h0m8 0h0m10 3h0m5-3h0m3-1h0m11 2h0m3 0h0m-52 7h0m0-2h0m3 3h0m2-1h0m2-4h0m6 0h0m10 1h0m3 4h0m6-4h0m6 0h0m2 3h0m2 0h0m1 1h0m2-2h0m10 1h0m4-2h0m4 2h0m-64 7h0m1-4h0m2 4h0m4-5h0m2 2h0m7 0h0m1 1h0m4 0h0m4 0h0m0 2h0m15-1h0m8 0h0m3-2h0m33 2h0m-84 5h0m3 0h0m4-2h0m1 1h0m4 3h0m3-3h0m5 3h0m1-2h0m2 3h0m2-6h0m1 2h0m5-1h0m11 3h0m3-2h0m1-1h0m27 4h0m-70 5h0m0-3h0m1 2h0m0 1h0m1-1h0m2 2h0m0-2h0m2 0h0m5-2h0m0-1h0m6 5h0m0-2h0m2 0h0m1-1h0m4 1h0m8 3h0m4-5h0m0 3h0m1-4h0m4 4h0m10 0h0m14-1h0m2-2h0m-66 6h0m2 0h0m0 0h0m1 3h0m1-1h0m1 3h0m0-1h0m3-1h0m1 1h0m6 0h0m0-2h0m2 2h0m4-3h0m1 0h0m1-1h0m1 0h0m1 0h0m1 0h0m1 4h0m0-4h0m1 1h0m7 2h0m1 0h0m2-2h0m1-2h0m1 3h0m3 0h0m1 1h0m5 2h0m6-3h0m-47 9h0m2-1h0m2 1h0m0-5h0m1 0h0m1-1h0m0 3h0m0 0h0m3 1h0m1-1h0m3 1h0m4 0h0m0 0h0m1-2h0m1 1h0m2 1h0m1 1h0m7-4h0m25 3h0m11-1h0m-58 5h0m2-1h0m0 1h0m2 1h0m0 2h0m3 0h0m4-2h0m2 0h0m0 0h0m1 0h0m3 0h0m0-3h0m3 3h0m1 2h0m1-4h0m6 3h0m9-3h0m17 0h0m0 2h0m-58 3h0m1 4h0m0 0h0m0 0h0m1 1h0m0 1h0m7-5h0m1 4h0m1-2h0m0 1h0m0-2h0m1-2h0m1 4h0m0 0h0m1 1h0m1-1h0m1 1h0m5 0h0m8-3h0m3 4h0m9-4h0m19-2h0m10 1h0m5 1h0m21-1h0m-95 5h0m1 2h0m1 3h0m2-2h0m0-3h0m4 6h0m1-2h0m1-1h0m1 0h0m1-1h0m1-1h0m7-1h0m1 2h0m0-2h0m1 2h0m6 4h0m3 0h0m1-1h0m1-1h0m7-3h0m1 0h0m4 3h0m3-1h0m-45 5h0m9-1h0m1-1h0m1 5h0m2-2h0m0-2h0m1 3h0m0-2h0m3 4h0m1-2h0m0-1h0m2-3h0m4 2h0m1-2h0m3 3h0m2-3h0m2 3h0m30-2h0m-59 6h0m0 4h0m1 1h0m4-5h0m2 1h0m1-2h0m1 3h0m1 0h0m2 0h0m0-2h0m4 4h0m3-3h0m3 4h0m2-5h0m3 2h0m7-2h0m3 4h0m2-4h0m6-1h0m-44 9h0m2 0h0m0-2h0m2 4h0m1-3h0m0 0h0m1 3h0m4 1h0m1-3h0m1 1h0m4-1h0m1 1h0m1-4h0m1 6h0m1-2h0m1 2h0m1-5h0m2 5h0m1 0h0m3-5h0m13 3h0m94 0h0m-133 4h0m1-2h0m1 2h0m1 2h0m3 1h0m3-5h0m3 2h0m2-1h0m0 5h0m1-4h0m3 1h0m5 0h0m1-1h0m10 0h0m-28 6h0m1 1h0m1-2h0m0 3h0m1 1h0m2-1h0m4-4h0m6 5h0m3-3h0m16-2h0m36 1h0m38 3h0m-104 7h0m1-5h0m3 3h0m3 3h0m10-1h0m3 0h0m3-4h0m2 2h0m3 3h0m3-6h0m35 2h0m-69 7h0m1 0h0m8 2h0m1-1h0m2-4h0m0 0h0m4 3h0m1-3h0m3 6h0m4-1h0m2-2h0m13 0h0m1-2h0m36 1h0m14 4h0m3-4h0m-90 7h0m4-1h0m6 0h0m5 1h0m3-1h0m4-1h0m17-1h0" stroke="#cc2a02" stroke-width="4.2" fill="none" stroke-linecap="round" stroke-opacity="0.5"/><path d="M341 263h0m0 13h0m43 4h0m21 3h0m-58 4h0m20-1h0m-17 11h0m8-5h0m19 0h0m-38 10h0m40 3h0m-46 7h0m36 2h0m3-3h0m3 4h0m9 0h0m11-5h0m-52 7h0m8-1h0m27 2h0m19 0h0m46-2h0m-107 11h0m1-4h0m8-2h0m22 6h0m3-3h0m19 3h0m17-5h0m-69 8h0m1 2h0m2 1h0m4-2h0m2-4h0m3 1h0m3 4h0m8-4h0m4 0h0m5 4h0m8-4h0m1 2h0m7 1h0m13 0h0m30-3h0m-88 9h0m1 0h0m3 0h0m6-2h0m6 1h0m3 0h0m3 0h0m1-3h0m6 5h0m5-1h0m3 0h0m21 0h0m0 1h0m92 0h0m-150 2h0m5 2h0m5 2h0m0-4h0m3 5h0m4-4h0m0-1h0m4 1h0m2 0h0m4 1h0m9 0h0m3-2h0m38 0h0m43 1h0m-126 5h0m1 3h0m5 1h0m2-3h0m0 0h0m2 4h0m0-2h0m1-3h0m7 3h0m2-4h0m9 5h0m2-1h0m1-4h0m2 6h0m2-4h0m0-1h0m1-1h0m7 2h0m16 3h0m-61 7h0m1-6h0m1 3h0m2 0h0m0-2h0m3 3h0m0 1h0m5-2h0m8 3h0m2-1h0m4 1h0m4-1h0m10-1h0m3-2h0m0 1h0m3 1h0m3-2h0m2-1h0m1 5h0m49-4h0m-97 4h0m15 1h0m3-1h0m1 1h0m8 0h0m1 0h0m3 2h0m3 2h0m5-3h0m12-1h0m5 4h0m24-4h0m12 4h0m-93 7h0m1-2h0m1 0h0m3 1h0m0-4h0m0 3h0m1 0h0m5 1h0m24-2h0m4-2h0m5 3h0m1-2h0m3 3h0m3 0h0m4-4h0m2 0h0m41 3h0m-100 3h0m3 0h0m2 0h0m0 2h0m2 2h0m1 0h0m3 0h0m5-2h0m1-2h0m2 0h0m1 3h0m5-1h0m4-2h0m2 3h0m2 1h0m1-2h0m4-3h0m9 4h0m8 1h0m9 1h0m-53 3h0m0 2h0m2-1h0m3 1h0m2 0h0m1-2h0m1-2h0m0 1h0m1 1h0m7-2h0m3 5h0m2-4h0m4 0h0m39 0h0m11 1h0m22-3h0m-98 6h0m0 1h0m0-1h0m1 2h0m1 3h0m0-3h0m1 1h0m0-2h0m2 2h0m2 1h0m0 1h0m5-4h0m1 0h0m1 4h0m4 0h0m1 0h0m1-4h0m0 3h0m1 0h0m3 2h0m2-1h0m1-1h0m3-1h0m2 2h0m1 0h0m4-1h0m3-1h0m1 2h0m3 0h0m1-4h0m20 1h0m18 0h0m26-1h0m-107 6h0m4 4h0m0-1h0m0-1h0m4-2h0m0 5h0m1-1h0m0-4h0m2 2h0m3 2h0m1-2h0m3-1h0m2 1h0m3 1h0m1-3h0m0 1h0m0 4h0m9-6h0m4 6h0m2-1h0m1-4h0m2 2h0m-38 9h0m1-2h0m1 1h0m0 1h0m0-3h0m1-1h0m1-1h0m0 3h0m2-3h0m4 5h0m1-5h0m3 1h0m7-1h0m1 4h0m14-1h0m8-1h0m8-2h0m26 1h0m0 1h0m-75 7h0m1 0h0m3-4h0m0 5h0m0-3h0m1 4h0m1-6h0m3 1h0m0 3h0m8 2h0m4-1h0m4-3h0m5 0h0m2 1h0m0-1h0m4 3h0m1-3h0m22 0h0m-57 10h0m1-2h0m4 1h0m1 0h0m0-3h0m5 4h0m0-2h0m3-4h0m1 6h0m0-6h0m1 5h0m1-3h0m2 2h0m1-2h0m2 0h0m4 3h0m4-1h0m2-4h0m0 5h0m1-4h0m5 5h0m0-3h0m5 0h0m10-3h0m53 2h0m-106 6h0m1-1h0m1 0h0m3 1h0m1-2h0m5 3h0m0 0h0m2-2h0m4 1h0m0 1h0m1-1h0m2 2h0m3 0h0m10-2h0m13 4h0m45-4h0m-88 10h0m1-2h0m0-3h0m1 1h0m0 3h0m2 0h0m1-2h0m1 3h0m3-6h0m1 0h0m1 2h0m0 0h0m8 2h0m6-1h0m0-1h0m1 0h0m7-1h0m5 3h0m5 1h0m-41 2h0m1 1h0m0 3h0m1-3h0m1-1h0m1 3h0m0-3h0m2 4h0m0-3h0m3 2h0m2 1h0m2-4h0m3 4h0m0 0h0m3-4h0m7 4h0m5 1h0m3-2h0m3-2h0m-34 10h0m3-5h0m1 0h0m0 2h0m0 0h0m0-1h0m5 0h0m1 3h0m3-5h0m3 3h0m8 2h0m5 1h0m2-4h0m51 0h0m23 0h0m-102 6h0m0 2h0m0 1h0m3-1h0m0-4h0m0 1h0m1 4h0m3-5h0m1 4h0m1 1h0m1-4h0m3 4h0m2-1h0m0 2h0m2-1h0m7-2h0m4 0h0m35-3h0m-58 7h0m4 0h0m3 0h0m4 2h0m3-2h0m5-1h0m13 1h0" stroke="#cc2a02" stroke-width="4.2" fill="none" stroke-linecap="round" stroke-opacity="0.5"/><path d="M336 258h0m-1 6h0m-1 5h0m7-1h0m12 4h0m13 10h0m-9 3h0m3 4h0m-14 8h0m6-3h0m17 3h0m-32 5h0m3-1h0m7-3h0m25 5h0m0 1h0m20 1h0m6 0h0m-55 9h0m33-3h0m9 2h0m1-2h0m9 4h0m1-3h0m28 2h0m-75 1h0m11 4h0m3-3h0m5 3h0m8 2h0m6-5h0m-43 7h0m7 1h0m11-3h0m3 4h0m7 1h0m7-3h0m0-2h0m9 3h0m-48 5h0m1 0h0m8 3h0m3 0h0m4-2h0m3-2h0m1 3h0m5 2h0m16-6h0m10 6h0m5-3h0m84-1h0m-137 10h0m1-1h0m4-3h0m9 0h0m8 0h0m6-1h0m-31 11h0m2 0h0m5-4h0m2 2h0m4 1h0m0 1h0m14-2h0m0-3h0m1 0h0m3 4h0m6-3h0m3-1h0m2 4h0m7-1h0m-44 7h0m2-3h0m5 0h0m10 4h0m1-6h0m8 4h0m2 2h0m0-3h0m1 0h0m5 3h0m9-6h0m24 3h0m37 2h0m-111 6h0m5-1h0m1 0h0m3-2h0m2-1h0m1 2h0m3 2h0m9-5h0m2 2h0m5 1h0m1 2h0m1-1h0m3 0h0m11 1h0m35 0h0m-77 3h0m1-1h0m1 0h0m5 4h0m5-3h0m2 0h0m3 3h0m2-3h0m3 2h0m2 1h0m8-3h0m-36 6h0m7 4h0m1-1h0m1-4h0m3 5h0m2-4h0m0 0h0m1 1h0m2-3h0m1 4h0m1-1h0m2 0h0m2-2h0m6 1h0m3 4h0m2 0h0m1-2h0m4 1h0m7-2h0m1-2h0m3 1h0m17 3h0m-64 2h0m2 1h0m4-1h0m2 2h0m0 0h0m0 3h0m3-2h0m0 2h0m2-5h0m1 5h0m4-3h0m3-2h0m14 2h0m7 1h0m5-2h0m0 0h0m3 4h0m17-2h0m9-4h0m35 1h0m-106 7h0m2 2h0m6 1h0m3-1h0m1-3h0m1 0h0m4 2h0m0-1h0m1 3h0m2-3h0m0 0h0m3 0h0m1-1h0m5 5h0m5-2h0m4 1h0m18-1h0m5-1h0m16 1h0m2-1h0m27 3h0m-103 2h0m2 4h0m4-3h0m0-2h0m3 5h0m2-1h0m0-1h0m0 0h0m2-1h0m1 2h0m1 0h0m0-3h0m0 0h0m1 2h0m0 1h0m2 0h0m0-3h0m6 0h0m5 4h0m0-1h0m1-3h0m0-1h0m2 2h0m0-2h0m8 1h0m5 0h0m7 4h0m4-1h0m1-2h0m54 2h0m-104 3h0m3 4h0m3-2h0m1-1h0m2 1h0m1-2h0m1 2h0m1-1h0m0-2h0m2 5h0m4-3h0m4 1h0m2 1h0m16-2h0m32 1h0m11 1h0m1-4h0m-86 9h0m5-4h0m0 3h0m1 0h0m1 3h0m0-6h0m0 1h0m1 2h0m3-2h0m2 0h0m1 0h0m1 2h0m1 0h0m2 0h0m0-1h0m3-1h0m4 4h0m7-1h0m0-2h0m7-1h0m21 3h0m-59 2h0m2 1h0m1 0h0m1-1h0m2 3h0m0 0h0m2 1h0m0-4h0m0 1h0m1 0h0m1 0h0m0 1h0m0 3h0m1-2h0m1 2h0m2-1h0m1 1h0m1-2h0m1 3h0m2-1h0m2-3h0m9 1h0m12 2h0m1-1h0m4-1h0m3 1h0m3-2h0m6 4h0m-55 4h0m1 1h0m0-3h0m3 0h0m0-2h0m0 6h0m1-6h0m1 3h0m0-2h0m1 0h0m0 2h0m1-1h0m1 2h0m4 0h0m2-4h0m2 1h0m4 2h0m1-3h0m29 0h0m7 0h0m-54 8h0m1 0h0m0 1h0m4 1h0m1 1h0m1-2h0m1 0h0m2-2h0m3 2h0m0-2h0m1 5h0m0-3h0m1-2h0m0-1h0m2 5h0m2-3h0m6-1h0m3 2h0m-28 4h0m0-1h0m1 5h0m1-4h0m2 1h0m0 0h0m2 1h0m0 1h0m0 1h0m2-1h0m3-2h0m4 0h0m1 2h0m11-3h0m5-1h0m8 5h0m5 0h0m6-5h0m5 4h0m30-4h0m15 5h0m-98 6h0m3-3h0m3 0h0m0 2h0m13-1h0m0-1h0m4 0h0m22-1h0m0 0h0m2 2h0m1-2h0m8 5h0m-55 1h0m1 4h0m0-2h0m4 2h0m0 0h0m1 0h0m3-1h0m7 1h0m1-2h0m0 1h0m2-3h0m2 0h0m0 4h0m1-3h0m3 1h0m2-2h0m2-1h0m7 4h0m7 1h0m7-4h0m6 4h0m-54 2h0m0 0h0m3-1h0m0 4h0m1-2h0m0 3h0m3-4h0m0 0h0m5-1h0m0 2h0m1 1h0m2 1h0m1-2h0m5-2h0m3 3h0m5 0h0m36-1h0m40-1h0m-101 6h0m1 0h0m3 2h0m1-3h0m1 1h0m0 1h0m7 0h0m1 1h0m7 0h0" stroke="#cc2a02" stroke-width="4.2" fill="none" stroke-linecap="round" stroke-opacity="0.5"/><path d="M389 226h0m16 1h0m-60 38h0m43 2h0m-51 1h0m12 1h0m3 10h0m41-4h0m-24 6h0m-29 10h0m19-5h0m24 4h0m10 0h0m64 3h0m-115 9h0m3 0h0m2-3h0m25-1h0m8 3h0m6 1h0m-33 2h0m63 2h0m-82 8h0m19-1h0m1-3h0m11 5h0m16-4h0m-46 4h0m1 0h0m9 2h0m17 3h0m5 0h0m5-4h0m4 2h0m9 2h0m9-1h0m1 1h0m-48 7h0m4-1h0m13-4h0m5 4h0m14-1h0m8 0h0m168-4h0m-220 9h0m1-3h0m5 2h0m0-1h0m3 0h0m3 2h0m5-3h0m9 3h0m7 0h0m7-1h0m3-2h0m2 3h0m7 2h0m0-2h0m-55 7h0m2 1h0m8-1h0m3-1h0m0-3h0m3 2h0m0 2h0m4 1h0m0-5h0m8 5h0m1-1h0m32 0h0m-63 4h0m3 0h0m2 3h0m0 0h0m2-1h0m1 0h0m6 1h0m12 0h0m15-4h0m17 1h0m4 1h0m2 1h0m5-1h0m-69 8h0m8-1h0m0-3h0m7 0h0m1 4h0m7-5h0m4 5h0m1-4h0m4 4h0m2-1h0m4-1h0m2 1h0m20-3h0m-56 10h0m1-1h0m4-2h0m3 2h0m9-2h0m1 1h0m3 0h0m3 0h0m5 0h0m6-3h0m0 2h0m1 2h0m7-1h0m31 3h0m-78 4h0m0-1h0m3-1h0m2 0h0m1 1h0m0-3h0m4 5h0m3-5h0m0 0h0m0 2h0m1 0h0m3-1h0m1 5h0m5-3h0m7 2h0m2-2h0m2 2h0m3 1h0m7-1h0m7-3h0m23-2h0m38 0h0m-110 10h0m7-2h0m1-2h0m2 0h0m5 1h0m1 1h0m2 1h0m0-2h0m1 4h0m0 0h0m2-1h0m0-2h0m7 1h0m3 1h0m3 0h0m18-4h0m5 0h0m8 1h0m16 1h0m-77 6h0m1-1h0m1 2h0m2 2h0m6-3h0m2-1h0m3-1h0m0 3h0m0-2h0m2 1h0m3 1h0m1 0h0m1 2h0m0 0h0m0 0h0m1-4h0m9 5h0m0-5h0m5 0h0m24 3h0m1 2h0m38-2h0m16-2h0m-112 6h0m1 4h0m2-1h0m1-4h0m0 3h0m1-2h0m1 3h0m0-5h0m6 2h0m9 0h0m3 2h0m1 1h0m3-1h0m5-3h0m1 0h0m10 3h0m2-1h0m121 1h0m-166 4h0m2 1h0m0 0h0m4 1h0m5-3h0m1 1h0m2-1h0m3 2h0m2-3h0m2 5h0m3-3h0m3-1h0m8 3h0m2-3h0m1 2h0m5-2h0m2 3h0m4-1h0m1 0h0m-47 3h0m0 2h0m0 0h0m3 3h0m0 1h0m0-1h0m1-3h0m0 3h0m2-3h0m0 3h0m3-2h0m1 2h0m0 0h0m1-1h0m0 0h0m3 0h0m0-3h0m2 0h0m1-1h0m0 5h0m6-4h0m1 4h0m1-1h0m10 0h0m11-1h0m6 1h0m14 0h0m-61 7h0m11 1h0m0-2h0m3-1h0m5 3h0m0-5h0m0 4h0m0 0h0m2-4h0m0 0h0m7 3h0m2-2h0m21 4h0m-51 2h0m2 1h0m0 1h0m0-4h0m1 4h0m1 1h0m1-2h0m1 1h0m0-1h0m1-1h0m1 3h0m0-4h0m2 4h0m6-3h0m2 3h0m0-4h0m2 0h0m4 0h0m0 4h0m2-1h0m3-2h0m26 4h0m3-4h0m-57 5h0m3 0h0m0 5h0m1-4h0m0 0h0m0 3h0m4-4h0m0 0h0m0 3h0m0-2h0m2 4h0m0-4h0m1 0h0m4 2h0m3 2h0m2-4h0m10-2h0m16 6h0m18-5h0m16 4h0m53-4h0m1 1h0m-132 5h0m5 3h0m2-1h0m0 1h0m2 0h0m2-1h0m2 1h0m1-2h0m2-1h0m1 0h0m0 1h0m3 1h0m5 0h0m146 1h0m-164 3h0m4-1h0m0 1h0m1 0h0m1 4h0m3-2h0m0 0h0m1-1h0m0-1h0m4 3h0m2-3h0m2 3h0m0-3h0m3 0h0m3 4h0m23-2h0m14-2h0m19 1h0m-82 6h0m0 2h0m2 2h0m1-5h0m0 4h0m0-2h0m1-2h0m3 0h0m1 1h0m3-2h0m1 4h0m11-1h0m0 1h0m6-1h0m1 0h0m1 1h0m18 2h0m3-6h0m-49 8h0m0 2h0m0 1h0m1 0h0m3-4h0m1 4h0m1-2h0m0 1h0m0-1h0m0 0h0m1 0h0m1 2h0m1 0h0m1-4h0m3 5h0m2-6h0m2 3h0m3 2h0m6-2h0m66 1h0m4 2h0m-95 2h0m3 4h0m0 0h0m1-1h0m4-2h0m5-3h0m1 2h0m3 1h0m0 0h0m6-1h0m9 1h0m3 0h0m21 0h0m4-1h0m-55 7h0m1-2h0m0 2h0m3-3h0m4 0h0m35 3h0" stroke="#cc2a02" stroke-width="4.2" fill="none" stroke-linecap="round" stroke-opacity="0.5"/><path d="M495.4 50.6h0M506.3 67.5h0M437 118h0M533.3 312.6h0M557.8 309.2h0M537.6 322.1h0M544.8 362.4h0M544.8 328.7h0M509.8 382.5h0M530.7 387.4h0M504.3 398.3h0M504 382h0M442 244h0M466 234h0M483 202h0M396 215h0M432 273h0" stroke="#e08a62" stroke-width="4.4" fill="none" stroke-linecap="round"/><path d="M117 181.5h0M123.2 259h0M100 383.3h0M130.7 416h0M144 425h0M183 170h0M177 232h0M161 256h0M147 268h0M152 282h0M150 310h0M140 292h0M138 312h0M136 365h0M152 301h0M245 243h0M199 250h0M188 256h0" stroke="#c2e1dc" stroke-width="4.4" fill="none" stroke-linecap="round"/><path d="M279.5 30.5L279.5 471.3" stroke="#6e6e6e" stroke-width="1.1" fill="none" stroke-dasharray="5.7 4.3 1.8 4.4"/><path d="M333.1 30.5L333.1 471.3" stroke="#6e6e6e" stroke-width="1.1" fill="none" stroke-dasharray="5.7 4.3 1.8 4.4"/><path d="M77.4 445.5L580.7 445.5" stroke="#6e6e6e" stroke-width="1.1" fill="none" stroke-dasharray="5.7 4.3 1.8 4.4"/><rect x="77.4" y="30.5" width="503.3" height="440.8" fill="none" stroke="#4d4d4d" stroke-width="1.2"/><path d="M73.4 452L77.4 452" stroke="#333" stroke-width="1.1" fill="none"/><text class="sb" x="71.4" y="458.2" font-size="17.5" text-anchor="end">0</text><path d="M73.4 352.5L77.4 352.5" stroke="#333" stroke-width="1.1" fill="none"/><text class="sb" x="71.4" y="358.7" font-size="17.5" text-anchor="end">20</text><path d="M73.4 253L77.4 253" stroke="#333" stroke-width="1.1" fill="none"/><text class="sb" x="71.4" y="259.2" font-size="17.5" text-anchor="end">40</text><path d="M73.4 153.5L77.4 153.5" stroke="#333" stroke-width="1.1" fill="none"/><text class="sb" x="71.4" y="159.7" font-size="17.5" text-anchor="end">60</text><path d="M73.4 54L77.4 54" stroke="#333" stroke-width="1.1" fill="none"/><text class="sb" x="71.4" y="60.2" font-size="17.5" text-anchor="end">80</text><path d="M172.5 471.3L172.5 475.3" stroke="#333" stroke-width="1.1" fill="none"/><text class="sb" x="172.5" y="491.8" font-size="17.5" text-anchor="middle">−5</text><path d="M306.3 471.3L306.3 475.3" stroke="#333" stroke-width="1.1" fill="none"/><text class="sb" x="306.3" y="491.8" font-size="17.5" text-anchor="middle">0</text><path d="M440.1 471.3L440.1 475.3" stroke="#333" stroke-width="1.1" fill="none"/><text class="sb" x="440.1" y="491.8" font-size="17.5" text-anchor="middle">5</text><path d="M573.9 471.3L573.9 475.3" stroke="#333" stroke-width="1.1" fill="none"/><text class="sb" x="573.9" y="491.8" font-size="17.5" text-anchor="middle">10</text><text class="sb" x="329.5" y="508.5" font-size="17.3" text-anchor="middle">log2(Fold Change)</text><text class="sb" x="0" y="0" font-size="17.3" text-anchor="middle" transform="translate(46 251) rotate(-90)">−log10 (padj)</text><path d="M610.9 235h0" stroke="#cfe8e4" stroke-width="4.4" fill="none" stroke-linecap="round"/><text class="sb" x="628.2" y="240.3" font-size="15">DOWN</text><path d="M610.9 254.8h0" stroke="#d4d4d4" stroke-width="4.4" fill="none" stroke-linecap="round"/><text class="sb" x="628.2" y="260.1" font-size="15">NOT</text><path d="M610.9 274.6h0" stroke="#e8a080" stroke-width="4.4" fill="none" stroke-linecap="round"/><text class="sb" x="628.2" y="279.9" font-size="15">UP</text><path d="M110.6 191L114.2 186.3" stroke="#111" stroke-width="1.2" fill="none"/><rect x="85" y="191.6" width="50" height="17.6" rx="2.5" fill="#fff" stroke="#67b1a8" stroke-width="1"/><text class="a" x="110" y="205.1" font-size="12.7" text-anchor="middle" fill="#67b1a8">ENPP7</text><path d="M114.4 244.4L120.2 255.2" stroke="#111" stroke-width="1.2" fill="none"/><rect x="85" y="226.8" width="57.6" height="17.6" rx="2.5" fill="#fff" stroke="#67b1a8" stroke-width="1"/><text class="a" x="113.8" y="240.3" font-size="12.7" text-anchor="middle" fill="#67b1a8">MS4A10</text><path d="M150.9 266.4L154.6 268.4" stroke="#111" stroke-width="1.2" fill="none"/><rect x="154.6" y="260.9" width="32.7" height="17.6" rx="2.5" fill="#fff" stroke="#67b1a8" stroke-width="1"/><text class="a" x="170.9" y="274.4" font-size="12.7" text-anchor="middle" fill="#67b1a8">FLG</text><path d="M136.5 281.5L138.5 281.5" stroke="#111" stroke-width="1.2" fill="none"/><rect x="85.5" y="273.2" width="51" height="17.1" rx="2.5" fill="#fff" stroke="#67b1a8" stroke-width="1"/><text class="a" x="111" y="286.4" font-size="12.7" text-anchor="middle" fill="#67b1a8">MEP1B</text><path d="M129 315.8L133 313.6" stroke="#111" stroke-width="1.2" fill="none"/><rect x="88" y="306.6" width="41" height="17.6" rx="2.5" fill="#fff" stroke="#67b1a8" stroke-width="1"/><text class="a" x="108.5" y="320.1" font-size="12.7" text-anchor="middle" fill="#67b1a8">RBP2</text><path d="M152.1 310.4L156.4 313" stroke="#111" stroke-width="1.2" fill="none"/><rect x="156.4" y="306.6" width="48.5" height="17.6" rx="2.5" fill="#fff" stroke="#67b1a8" stroke-width="1"/><text class="a" x="180.7" y="320.1" font-size="12.7" text-anchor="middle" fill="#67b1a8">AQP10</text><path d="M135 358.2L130.2 363.2" stroke="#111" stroke-width="1.2" fill="none"/><rect x="121.4" y="340.6" width="50.3" height="17.6" rx="2.5" fill="#fff" stroke="#67b1a8" stroke-width="1"/><text class="a" x="146.6" y="354.1" font-size="12.7" text-anchor="middle" fill="#67b1a8">APOA4</text><path d="M107.6 383.3L143.8 383.3" stroke="#111" stroke-width="1.2" fill="none"/><rect x="143.8" y="374.5" width="69.4" height="17.1" rx="2.5" fill="#fff" stroke="#67b1a8" stroke-width="1"/><text class="a" x="178.5" y="387.8" font-size="12.7" text-anchor="middle" fill="#67b1a8">KRTAP3−2</text><path d="M127.5 408L130.7 416" stroke="#111" stroke-width="1.2" fill="none"/><rect x="85" y="395.9" width="42.5" height="17.6" rx="2.5" fill="#fff" stroke="#67b1a8" stroke-width="1"/><text class="a" x="106.2" y="409.4" font-size="12.7" text-anchor="middle" fill="#67b1a8">PGA4</text><path d="M148.4 433.1L152.9 437.4" stroke="#111" stroke-width="1.2" fill="none"/><rect x="139.8" y="438.1" width="48.8" height="17.4" rx="2.5" fill="#fff" stroke="#67b1a8" stroke-width="1"/><text class="a" x="164.2" y="451.5" font-size="12.7" text-anchor="middle" fill="#67b1a8">LCE3A</text><path d="M485.6 47.7L488.6 48.9" stroke="#111" stroke-width="1.2" fill="none"/><rect x="421.6" y="38.2" width="64" height="18.4" rx="2.5" fill="#fff" stroke="#cc1f1f" stroke-width="1"/><text class="a" x="453.6" y="52.1" font-size="12.7" text-anchor="middle" fill="#cc1f1f">COL10A1</text><path d="M506.9 74.1L506.9 80.5" stroke="#111" stroke-width="1.2" fill="none"/><rect x="507.5" y="77.6" width="41.1" height="17.2" rx="2.5" fill="#fff" stroke="#cc1f1f" stroke-width="1"/><text class="a" x="528" y="90.9" font-size="12.7" text-anchor="middle" fill="#cc1f1f">CST1</text><path d="M488.2 281.9L527.6 308.6" stroke="#111" stroke-width="1.2" fill="none"/><rect x="430.7" y="271.3" width="57.5" height="16.9" rx="2.5" fill="#fff" stroke="#cc1f1f" stroke-width="1"/><text class="a" x="459.4" y="284.4" font-size="12.7" text-anchor="middle" fill="#cc1f1f">HOXC12</text><path d="M542.8 289L553.4 303.4" stroke="#111" stroke-width="1.2" fill="none"/><rect x="504.6" y="271.3" width="67.8" height="16.9" rx="2.5" fill="#fff" stroke="#cc1f1f" stroke-width="1"/><text class="a" x="538.5" y="284.4" font-size="12.7" text-anchor="middle" fill="#cc1f1f">MAGEA12</text><path d="M515.5 315L530.7 319.8" stroke="#111" stroke-width="1.2" fill="none"/><rect x="455.2" y="305.5" width="60.3" height="17.2" rx="2.5" fill="#fff" stroke="#cc1f1f" stroke-width="1"/><text class="a" x="485.4" y="318.8" font-size="12.7" text-anchor="middle" fill="#cc1f1f">MAGEA3</text><path d="M477.3 348L494 351.7" stroke="#111" stroke-width="1.2" fill="none"/><rect x="416.4" y="339.4" width="60.9" height="17.2" rx="2.5" fill="#fff" stroke="#cc1f1f" stroke-width="1"/><text class="a" x="446.9" y="352.7" font-size="12.7" text-anchor="middle" fill="#cc1f1f">MAGEA4</text><path d="M515.5 356.6L537.6 361" stroke="#111" stroke-width="1.2" fill="none"/><path d="M535 339.4L540 333.6" stroke="#111" stroke-width="1.2" fill="none"/><rect x="494" y="339.4" width="60.3" height="17.2" rx="2.5" fill="#fff" stroke="#cc1f1f" stroke-width="1"/><text class="a" x="524.1" y="352.7" font-size="12.7" text-anchor="middle" fill="#cc1f1f">MAGEA6</text><path d="M494.5 381.6L501.7 381.6" stroke="#111" stroke-width="1.2" fill="none"/><rect x="434.2" y="373" width="60.3" height="17.2" rx="2.5" fill="#fff" stroke="#cc1f1f" stroke-width="1"/><text class="a" x="464.4" y="386.3" font-size="12.7" text-anchor="middle" fill="#cc1f1f">MAGEA1</text><path d="M536.2 392.5L540 396.8" stroke="#111" stroke-width="1.2" fill="none"/><rect x="523.6" y="397.7" width="48.8" height="16.4" rx="2.5" fill="#fff" stroke="#cc1f1f" stroke-width="1"/><text class="a" x="548" y="410.6" font-size="12.7" text-anchor="middle" fill="#cc1f1f">CTAG2</text><path d="M494.8 408.3L499.1 404" stroke="#111" stroke-width="1.2" fill="none"/><rect x="446.6" y="409.2" width="60.3" height="16.9" rx="2.5" fill="#fff" stroke="#cc1f1f" stroke-width="1"/><text class="a" x="476.8" y="422.3" font-size="12.7" text-anchor="middle" fill="#cc1f1f">MAGEC2</text>
<text class="s" x="3" y="552" font-size="25">B</text><text class="s" x="300" y="560" font-size="20.9" text-anchor="middle">Distribution as heatmap</text><defs><linearGradient id="dg0" gradientUnits="userSpaceOnUse" x1="0" y1="573.2" x2="0" y2="704"><stop offset="0.000" stop-color="#3e3a8c"/><stop offset="0.099" stop-color="#3e3a8c"/><stop offset="0.141" stop-color="#6eaaaf"/><stop offset="0.191" stop-color="#aad2aa"/><stop offset="0.199" stop-color="#5ca7a8"/><stop offset="0.372" stop-color="#a1caa9"/><stop offset="0.488" stop-color="#e5eea9"/><stop offset="0.550" stop-color="#c18470"/><stop offset="0.600" stop-color="#9d1937"/><stop offset="0.659" stop-color="#cd9676"/><stop offset="0.730" stop-color="#edeaa0"/><stop offset="0.783" stop-color="#5096af"/><stop offset="0.824" stop-color="#3e3a8c"/><stop offset="1.000" stop-color="#3e3a8c"/></linearGradient><linearGradient id="dg1" gradientUnits="userSpaceOnUse" x1="0" y1="573.2" x2="0" y2="704"><stop offset="0.000" stop-color="#3e3a8c"/><stop offset="0.163" stop-color="#3e3a8c"/><stop offset="0.183" stop-color="#3c4595"/><stop offset="0.372" stop-color="#86969f"/><stop offset="0.488" stop-color="#d0e7a8"/><stop offset="0.540" stop-color="#d7c084"/><stop offset="0.590" stop-color="#de995f"/><stop offset="0.648" stop-color="#c5bf88"/><stop offset="0.730" stop-color="#b4d8a3"/><stop offset="0.790" stop-color="#5096af"/><stop offset="0.831" stop-color="#3e3a8c"/><stop offset="1.000" stop-color="#3e3a8c"/></linearGradient><linearGradient id="dg2" gradientUnits="userSpaceOnUse" x1="0" y1="573.2" x2="0" y2="704"><stop offset="0.000" stop-color="#3e3a8c"/><stop offset="0.181" stop-color="#3e3a8c"/><stop offset="0.201" stop-color="#415498"/><stop offset="0.372" stop-color="#9aa3a1"/><stop offset="0.488" stop-color="#f2f3aa"/><stop offset="0.608" stop-color="#cf9575"/><stop offset="0.658" stop-color="#ac3740"/><stop offset="0.717" stop-color="#ca9f7a"/><stop offset="0.730" stop-color="#dee5a1"/><stop offset="0.837" stop-color="#5096af"/><stop offset="0.879" stop-color="#3e3a8c"/><stop offset="1.000" stop-color="#3e3a8c"/></linearGradient><linearGradient id="dg3" gradientUnits="userSpaceOnUse" x1="0" y1="573.2" x2="0" y2="704"><stop offset="0.000" stop-color="#3e3a8c"/><stop offset="0.170" stop-color="#3e3a8c"/><stop offset="0.190" stop-color="#3d4695"/><stop offset="0.372" stop-color="#6a8c9d"/><stop offset="0.488" stop-color="#97d2a5"/><stop offset="0.568" stop-color="#9d7a6f"/><stop offset="0.618" stop-color="#a2223a"/><stop offset="0.677" stop-color="#c39678"/><stop offset="0.730" stop-color="#d9e4a1"/><stop offset="0.828" stop-color="#5096af"/><stop offset="0.870" stop-color="#3e3a8c"/><stop offset="1.000" stop-color="#3e3a8c"/></linearGradient><linearGradient id="dg4" gradientUnits="userSpaceOnUse" x1="0" y1="573.2" x2="0" y2="704"><stop offset="0.000" stop-color="#3e3a8c"/><stop offset="0.199" stop-color="#3e3a8c"/><stop offset="0.219" stop-color="#415598"/><stop offset="0.372" stop-color="#9ba4a1"/><stop offset="0.488" stop-color="#f5f4aa"/><stop offset="0.543" stop-color="#dcab7c"/><stop offset="0.593" stop-color="#c2624e"/><stop offset="0.651" stop-color="#b1a681"/><stop offset="0.730" stop-color="#a5d3a3"/><stop offset="0.765" stop-color="#5096af"/><stop offset="0.806" stop-color="#3e3a8c"/><stop offset="1.000" stop-color="#3e3a8c"/></linearGradient><linearGradient id="dg5" gradientUnits="userSpaceOnUse" x1="0" y1="573.2" x2="0" y2="704"><stop offset="0.000" stop-color="#3e3a8c"/><stop offset="0.119" stop-color="#3e3a8c"/><stop offset="0.161" stop-color="#6eaaaf"/><stop offset="0.211" stop-color="#aad2aa"/><stop offset="0.220" stop-color="#5daaa9"/><stop offset="0.372" stop-color="#a7cea9"/><stop offset="0.488" stop-color="#f1f2aa"/><stop offset="0.561" stop-color="#e5c183"/><stop offset="0.611" stop-color="#d98f5c"/><stop offset="0.669" stop-color="#cfbf86"/><stop offset="0.730" stop-color="#c8dea2"/><stop offset="0.768" stop-color="#5096af"/><stop offset="0.809" stop-color="#3e3a8c"/><stop offset="1.000" stop-color="#3e3a8c"/></linearGradient><linearGradient id="dg6" gradientUnits="userSpaceOnUse" x1="0" y1="573.2" x2="0" y2="704"><stop offset="0.000" stop-color="#3e3a8c"/><stop offset="0.203" stop-color="#3e3a8c"/><stop offset="0.223" stop-color="#4d799f"/><stop offset="0.372" stop-color="#73a6a2"/><stop offset="0.488" stop-color="#98d3a5"/><stop offset="0.600" stop-color="#a68d75"/><stop offset="0.650" stop-color="#b54745"/><stop offset="0.708" stop-color="#c2a27d"/><stop offset="0.730" stop-color="#cbdfa2"/><stop offset="0.833" stop-color="#5096af"/><stop offset="0.875" stop-color="#3e3a8c"/><stop offset="1.000" stop-color="#3e3a8c"/></linearGradient><linearGradient id="dg7" gradientUnits="userSpaceOnUse" x1="0" y1="573.2" x2="0" y2="704"><stop offset="0.000" stop-color="#3e3a8c"/><stop offset="0.195" stop-color="#3e3a8c"/><stop offset="0.215" stop-color="#425799"/><stop offset="0.372" stop-color="#899fa0"/><stop offset="0.488" stop-color="#d1e7a8"/><stop offset="0.582" stop-color="#c19576"/><stop offset="0.632" stop-color="#b24244"/><stop offset="0.690" stop-color="#d3a67b"/><stop offset="0.730" stop-color="#eae9a0"/><stop offset="0.777" stop-color="#5096af"/><stop offset="0.819" stop-color="#3e3a8c"/><stop offset="1.000" stop-color="#3e3a8c"/></linearGradient><linearGradient id="dg8" gradientUnits="userSpaceOnUse" x1="0" y1="573.2" x2="0" y2="704"><stop offset="0.000" stop-color="#3e3a8c"/><stop offset="0.161" stop-color="#3e3a8c"/><stop offset="0.181" stop-color="#5899a6"/><stop offset="0.372" stop-color="#7ab6a5"/><stop offset="0.488" stop-color="#9cd4a5"/><stop offset="0.555" stop-color="#a38372"/><stop offset="0.605" stop-color="#aa323f"/><stop offset="0.663" stop-color="#bc997a"/><stop offset="0.730" stop-color="#c8dea2"/><stop offset="0.837" stop-color="#5096af"/><stop offset="0.878" stop-color="#3e3a8c"/><stop offset="1.000" stop-color="#3e3a8c"/></linearGradient><linearGradient id="dg9" gradientUnits="userSpaceOnUse" x1="0" y1="573.2" x2="0" y2="704"><stop offset="0.000" stop-color="#3e3a8c"/><stop offset="0.181" stop-color="#3e3a8c"/><stop offset="0.201" stop-color="#3e4a96"/><stop offset="0.372" stop-color="#999fa0"/><stop offset="0.488" stop-color="#f5f4aa"/><stop offset="0.625" stop-color="#eccb86"/><stop offset="0.675" stop-color="#e2a362"/><stop offset="0.734" stop-color="#b9be8a"/><stop offset="0.730" stop-color="#9dd1a4"/><stop offset="0.838" stop-color="#5096af"/><stop offset="0.879" stop-color="#3e3a8c"/><stop offset="1.000" stop-color="#3e3a8c"/></linearGradient><linearGradient id="dg10" gradientUnits="userSpaceOnUse" x1="0" y1="573.2" x2="0" y2="704"><stop offset="0.000" stop-color="#3e3a8c"/><stop offset="0.080" stop-color="#3e3a8c"/><stop offset="0.122" stop-color="#6eaaaf"/><stop offset="0.175" stop-color="#aad2aa"/><stop offset="0.184" stop-color="#445b9a"/><stop offset="0.372" stop-color="#8ca2a1"/><stop offset="0.488" stop-color="#d4e8a8"/><stop offset="0.596" stop-color="#c08e74"/><stop offset="0.646" stop-color="#ab353f"/><stop offset="0.704" stop-color="#cda07a"/><stop offset="0.730" stop-color="#e4e7a1"/><stop offset="0.768" stop-color="#5096af"/><stop offset="0.809" stop-color="#3e3a8c"/><stop offset="1.000" stop-color="#3e3a8c"/></linearGradient><linearGradient id="dg11" gradientUnits="userSpaceOnUse" x1="0" y1="573.2" x2="0" y2="704"><stop offset="0.000" stop-color="#3e3a8c"/><stop offset="0.170" stop-color="#3e3a8c"/><stop offset="0.190" stop-color="#5ca7a8"/><stop offset="0.372" stop-color="#82c0a7"/><stop offset="0.488" stop-color="#a8d9a6"/><stop offset="0.626" stop-color="#beb080"/><stop offset="0.676" stop-color="#d5875a"/><stop offset="0.735" stop-color="#bdb686"/><stop offset="0.730" stop-color="#add6a3"/><stop offset="0.774" stop-color="#5096af"/><stop offset="0.816" stop-color="#3e3a8c"/><stop offset="1.000" stop-color="#3e3a8c"/></linearGradient><linearGradient id="dg12" gradientUnits="userSpaceOnUse" x1="0" y1="573.2" x2="0" y2="704"><stop offset="0.000" stop-color="#3e3a8c"/><stop offset="0.164" stop-color="#3e3a8c"/><stop offset="0.184" stop-color="#4b719e"/><stop offset="0.372" stop-color="#86a9a3"/><stop offset="0.488" stop-color="#c1e2a7"/><stop offset="0.538" stop-color="#ccb781"/><stop offset="0.588" stop-color="#d78c5b"/><stop offset="0.646" stop-color="#dac185"/><stop offset="0.730" stop-color="#dce5a1"/><stop offset="0.813" stop-color="#5096af"/><stop offset="0.855" stop-color="#3e3a8c"/><stop offset="1.000" stop-color="#3e3a8c"/></linearGradient><linearGradient id="dg13" gradientUnits="userSpaceOnUse" x1="0" y1="573.2" x2="0" y2="704"><stop offset="0.000" stop-color="#3e3a8c"/><stop offset="0.206" stop-color="#3e3a8c"/><stop offset="0.226" stop-color="#5fafaa"/><stop offset="0.372" stop-color="#88c5a8"/><stop offset="0.488" stop-color="#b1dca6"/><stop offset="0.561" stop-color="#d1cd89"/><stop offset="0.611" stop-color="#f0bf6b"/><stop offset="0.669" stop-color="#afc58e"/><stop offset="0.730" stop-color="#83c8a5"/><stop offset="0.827" stop-color="#5096af"/><stop offset="0.869" stop-color="#3e3a8c"/><stop offset="1.000" stop-color="#3e3a8c"/></linearGradient><linearGradient id="dg14" gradientUnits="userSpaceOnUse" x1="0" y1="573.2" x2="0" y2="704"><stop offset="0.000" stop-color="#3e3a8c"/><stop offset="0.183" stop-color="#3e3a8c"/><stop offset="0.203" stop-color="#4d779f"/><stop offset="0.372" stop-color="#9cb4a4"/><stop offset="0.488" stop-color="#ecf1a9"/><stop offset="0.606" stop-color="#dbb17e"/><stop offset="0.656" stop-color="#ca7153"/><stop offset="0.715" stop-color="#c5b282"/><stop offset="0.730" stop-color="#c2dca2"/><stop offset="0.808" stop-color="#5096af"/><stop offset="0.850" stop-color="#3e3a8c"/><stop offset="1.000" stop-color="#3e3a8c"/></linearGradient><linearGradient id="dg15" gradientUnits="userSpaceOnUse" x1="0" y1="573.2" x2="0" y2="704"><stop offset="0.000" stop-color="#3e3a8c"/><stop offset="0.067" stop-color="#3e3a8c"/><stop offset="0.108" stop-color="#6eaaaf"/><stop offset="0.219" stop-color="#aad2aa"/><stop offset="0.227" stop-color="#496b9d"/><stop offset="0.372" stop-color="#9baea3"/><stop offset="0.488" stop-color="#edf1a9"/><stop offset="0.627" stop-color="#ebd088"/><stop offset="0.677" stop-color="#e9af66"/><stop offset="0.735" stop-color="#bdc48b"/><stop offset="0.730" stop-color="#a0d1a4"/><stop offset="0.770" stop-color="#5096af"/><stop offset="0.811" stop-color="#3e3a8c"/><stop offset="1.000" stop-color="#3e3a8c"/></linearGradient><linearGradient id="dg16" gradientUnits="userSpaceOnUse" x1="0" y1="573.2" x2="0" y2="704"><stop offset="0.000" stop-color="#3e3a8c"/><stop offset="0.178" stop-color="#3e3a8c"/><stop offset="0.198" stop-color="#47649b"/><stop offset="0.372" stop-color="#7ba0a1"/><stop offset="0.488" stop-color="#b0dba6"/><stop offset="0.619" stop-color="#aa8171"/><stop offset="0.669" stop-color="#a5283b"/><stop offset="0.728" stop-color="#be9779"/><stop offset="0.730" stop-color="#d0e1a1"/><stop offset="0.779" stop-color="#5096af"/><stop offset="0.821" stop-color="#3e3a8c"/><stop offset="1.000" stop-color="#3e3a8c"/></linearGradient><linearGradient id="dg17" gradientUnits="userSpaceOnUse" x1="0" y1="573.2" x2="0" y2="704"><stop offset="0.000" stop-color="#3e3a8c"/><stop offset="0.187" stop-color="#3e3a8c"/><stop offset="0.207" stop-color="#5eaba9"/><stop offset="0.372" stop-color="#96c9a9"/><stop offset="0.488" stop-color="#cee6a8"/><stop offset="0.545" stop-color="#caa97c"/><stop offset="0.595" stop-color="#c76b51"/><stop offset="0.653" stop-color="#afa982"/><stop offset="0.730" stop-color="#a0d1a4"/><stop offset="0.763" stop-color="#5096af"/><stop offset="0.805" stop-color="#3e3a8c"/><stop offset="1.000" stop-color="#3e3a8c"/></linearGradient><linearGradient id="dgn" gradientUnits="userSpaceOnUse" x1="0" y1="573.2" x2="0" y2="704"><stop offset="0.000" stop-color="#3e3a8c"/><stop offset="0.163" stop-color="#3e3a8c"/><stop offset="0.205" stop-color="#466eaa"/><stop offset="0.338" stop-color="#78beaa"/><stop offset="0.488" stop-color="#bee1a0"/><stop offset="0.622" stop-color="#ebc878"/><stop offset="0.688" stop-color="#c8e1a0"/><stop offset="0.805" stop-color="#96d2a5"/><stop offset="0.872" stop-color="#5a96af"/><stop offset="0.922" stop-color="#3e3a8c"/><stop offset="1.000" stop-color="#3e3a8c"/></linearGradient><pattern id="dp0" patternUnits="userSpaceOnUse" width="37" height="29"><path d="M17.7 8.4l-0.3 2.7M13.9 28.7l1.9 3M18.5 9.8l-1.4 2.6M28.9 25.2l-0.6 3.8M28.7 20.1l0.7 3.7M13.4 20.4l-0.9 3.2M28.5 20l-1 4M24 16.8l-1.9 2.9M9.3 19.5l-0.2 3.9M24 23.1l-0.7 3.5M27.3 24l-0.7 3.9M32.2 20l2.2 3.5M19.2 15.4l-1.5 3.6M34.7 13.8l0.8 3.6M27 5l1.2 3.3M24.6 12.2l0.6 3.8M23.6 20.9l-1.5 2.3M16.3 18.9l-1.2 3.5M23.3 1.2l-0.1 2.9M2 3.9l-0.6 2.7M7.2 1l-0.1 3.1M22.6 17.1l-1.2 3.8M0 11.8l-0.8 3.1M4.3 24.1l-0.4 2.5M22.7 2.7l0.2 3.1M21.5 27.8l1.2 3M30.1 18.6l-0.4 2.7M22 16.4l2.2 3.5M22.5 10.2l1.1 2.2M4 16.4l0.4 2.7M23.3 25.8l-0.5 3.2M8.4 8.5l1.7 2.7M35.6 26.5l0.3 2.9M36.3 14.4l-0.3 3M36.4 14.3l-0.8 3.2M4.5 18l-0.2 3M28.9 24l-1.9 2.8M10.1 27.1l1 2.8M9.9 4.5l1.7 2.5M22.5 13.8l0.6 3.5M27.5 3.4l0.9 2.9M19.7 9.7l-0.8 3.3M17.2 10.5l1 3.4M1.3 7.3l-0.2 4.1M32.9 15.8l-2.1 3.2M15.8 16.7l0.9 3.5M17.8 26.4l-0.4 3.1M31.5 5.7l-0.9 3.8M2.4 24.3l0.7 3.1M10.6 22.6l1.3 2.4M17.7 15.9l0 3.1M5.7 17l1 2.4M8.5 23.8l1.2 3.4M0.9 21l2.3 3.5M25.9 1.4l1.1 2.6" stroke="#111" stroke-width="1.35" fill="none"/></pattern><pattern id="dp1" patternUnits="userSpaceOnUse" width="43" height="31"><path d="M27.8 29.5l0.7 2.6M12.6 28.5l-1.4 3.2M17.8 5l0.4 2.5M4.7 11.8l-1.3 2.3M24.7 23l1.2 2.5M18.6 9.8l0.4 3.3M40.4 11.6l-1.9 3.2M6.5 19.6l0 4M23.9 19.2l-1 3.3M10.9 23.3l0.1 2.7M10.1 11.5l0.8 2.7M30.7 20.3l-1.7 3.2M3.9 3.9l0.3 2.9M37.7 14.9l-0.8 3.8M1.3 22.5l-1.4 2.4M40.9 21.1l-0.9 2.5M41.8 20.6l1 2.5M26.9 11l-1 2.9M26.4 10.8l-0.4 2.7M35.7 20.1l1.2 3M36.6 16l0.4 3.5M31.8 12.3l-1.2 2.3M8.7 1.2l1.5 3M32.7 0l-0.1 4M26.6 13.3l-0.1 2.7M6.7 4.9l-0.5 3.1M37.9 4.7l-0.9 2.8M6.9 8.9l-1 3.2M1.4 28.7l-0.6 4M29.6 20.9l-0.1 4.1M5.1 20.7l-0.9 3.5M31.4 5.1l-0.9 2.4M9.9 2.4l-0.5 4.1M15.7 9.7l-0.1 3M31.5 22.3l-1.1 2.7M28.9 29.2l0.6 3.2M41.9 0.2l-1.9 3.3M17.6 1.4l0.2 4.2M22.3 10.9l-1.2 2.3M38.6 15.2l1.3 2.2M10.5 1.6l-0.3 2.6M11 12.6l-0.6 2.5M1.6 30.1l-1.3 3.1M17.3 16.5l-1.5 2.7M4.6 16.8l1.7 3.1" stroke="#111" stroke-width="1.35" fill="none"/></pattern><pattern id="dp2" patternUnits="userSpaceOnUse" width="29" height="23"><path d="M24.8 4.9l-1.9 2.9M14.1 13.1l-0.5 3.5M21 21l-0.7 3.2M24 5.2l-1.3 2.7M2.5 17.8l1.1 2.8M3.8 1.9l-0.8 2.5M12.4 13.3l-0.8 2.5M20.3 1.1l-1.1 2.8M10.8 2.3l-0.3 3M21.8 12.8l1.7 3.2M22 13.2l-0.3 3.9M19 22l1 3.6M7.8 18.7l-0.4 2.7M1.9 3.9l-1 3.5M8.3 1.5l1.1 3.3M0.8 1.2l-1.3 2.8M24.9 21.8l0.4 2.9M12.4 8.3l-0.5 2.5M16.9 19l0.7 2.6M15.4 3.9l0.8 3.2M27.2 18.3l-1.3 2.7M26.5 10.6l-0.3 3.2M22.3 21.5l0.2 4.1M17.3 2.4l1.2 3M1.5 22.5l-1.9 2.9M14 20.3l-0.4 2.8M8 4.6l0.2 3.1M21.8 5.6l-0.5 2.9M28.5 19.3l1.4 3.2M11.6 3.3l1.3 3.1" stroke="#111" stroke-width="1.35" fill="none"/></pattern></defs><rect x="97.3" y="573.2" width="405.7" height="130.8" fill="#3e3a8c"/><path d="M98 573.2v130.8m46.5-130.8v130.8m30-130.8v130.8m100.5-130.8v130.8m105-130.8v130.8m48-130.8v130.8m18-130.8v130.8m7.5-130.8v130.8" stroke="url(#dg1)" stroke-width="1.6" fill="none"/><path d="M99.5 573.2v130.8m4.5-130.8v130.8m16.5-130.8v130.8m67.5-130.8v130.8m22.5-130.8v130.8m6-130.8v130.8m43.5-130.8v130.8m10.5-130.8v130.8m21-130.8v130.8m6-130.8v130.8m7.5-130.8v130.8m7.5-130.8v130.8m3-130.8v130.8m22.5-130.8v130.8m16.5-130.8v130.8m15-130.8v130.8m22.5-130.8v130.8" stroke="url(#dg3)" stroke-width="1.6" fill="none"/><path d="M101 573.2v130.8m22.5-130.8v130.8m78-130.8v130.8m24-130.8v130.8m4.5-130.8v130.8m24-130.8v130.8m10.5-130.8v130.8m31.5-130.8v130.8m13.5-130.8v130.8m15-130.8v130.8m73.5-130.8v130.8m49.5-130.8v130.8m18-130.8v130.8" stroke="url(#dg5)" stroke-width="1.6" fill="none"/><path d="M102.5 573.2v130.8m15-130.8v130.8m7.5-130.8v130.8m9-130.8v130.8m6-130.8v130.8m55.5-130.8v130.8m3-130.8v130.8m1.5-130.8v130.8m7.5-130.8v130.8m79.5-130.8v130.8m43.5-130.8v130.8m4.5-130.8v130.8m10.5-130.8v130.8m16.5-130.8v130.8m39-130.8v130.8m22.5-130.8v130.8m25.5-130.8v130.8m13.5-130.8v130.8" stroke="url(#dg12)" stroke-width="1.6" fill="none"/><path d="M105.5 573.2v130.8m25.5-130.8v130.8m25.5-130.8v130.8m1.5-130.8v130.8m9-130.8v130.8m10.5-130.8v130.8m42-130.8v130.8m1.5-130.8v130.8m25.5-130.8v130.8m15-130.8v130.8m90-130.8v130.8m13.5-130.8v130.8m6-130.8v130.8" stroke="url(#dg9)" stroke-width="1.6" fill="none"/><path d="M107 573.2v130.8m9-130.8v130.8m39-130.8v130.8m27-130.8v130.8m22.5-130.8v130.8m13.5-130.8v130.8m49.5-130.8v130.8m16.5-130.8v130.8m10.5-130.8v130.8m24-130.8v130.8m1.5-130.8v130.8m39-130.8v130.8m70.5-130.8v130.8m1.5-130.8v130.8m24-130.8v130.8" stroke="url(#dg6)" stroke-width="1.6" fill="none"/><path d="M108.5 573.2v130.8m19.5-130.8v130.8m63-130.8v130.8m15-130.8v130.8m3-130.8v130.8m43.5-130.8v130.8m16.5-130.8v130.8m3-130.8v130.8m10.5-130.8v130.8m18-130.8v130.8m7.5-130.8v130.8m13.5-130.8v130.8m25.5-130.8v130.8m13.5-130.8v130.8m13.5-130.8v130.8m93-130.8v130.8" stroke="url(#dg10)" stroke-width="1.6" fill="none"/><path d="M110 573.2v130.8m1.5-130.8v130.8m25.5-130.8v130.8m46.5-130.8v130.8m58.5-130.8v130.8m34.5-130.8v130.8m13.5-130.8v130.8m54-130.8v130.8m6-130.8v130.8m6-130.8v130.8m10.5-130.8v130.8m28.5-130.8v130.8m40.5-130.8v130.8m6-130.8v130.8" stroke="url(#dg15)" stroke-width="1.6" fill="none"/><path d="M113 573.2v130.8m25.5-130.8v130.8m4.5-130.8v130.8m3-130.8v130.8m34.5-130.8v130.8m12-130.8v130.8m19.5-130.8v130.8m22.5-130.8v130.8m28.5-130.8v130.8m48-130.8v130.8m21-130.8v130.8m61.5-130.8v130.8m6-130.8v130.8m21-130.8v130.8" stroke="url(#dg17)" stroke-width="1.6" fill="none"/><path d="M114.5 573.2v130.8m45-130.8v130.8m3-130.8v130.8m10.5-130.8v130.8m3-130.8v130.8m10.5-130.8v130.8m37.5-130.8v130.8m3-130.8v130.8m6-130.8v130.8m18-130.8v130.8m22.5-130.8v130.8m7.5-130.8v130.8m18-130.8v130.8m18-130.8v130.8m10.5-130.8v130.8m21-130.8v130.8m19.5-130.8v130.8m7.5-130.8v130.8m12-130.8v130.8m16.5-130.8v130.8m6-130.8v130.8m16.5-130.8v130.8m12-130.8v130.8" stroke="url(#dg2)" stroke-width="1.6" fill="none"/><path d="M119 573.2v130.8m7.5-130.8v130.8m3-130.8v130.8m22.5-130.8v130.8m9-130.8v130.8m7.5-130.8v130.8m28.5-130.8v130.8m60-130.8v130.8m36-130.8v130.8m43.5-130.8v130.8m6-130.8v130.8m10.5-130.8v130.8m58.5-130.8v130.8m4.5-130.8v130.8m1.5-130.8v130.8m16.5-130.8v130.8m10.5-130.8v130.8m12-130.8v130.8m7.5-130.8v130.8" stroke="url(#dg0)" stroke-width="1.6" fill="none"/><path d="M122 573.2v130.8m10.5-130.8v130.8m3-130.8v130.8m18-130.8v130.8m31.5-130.8v130.8m18-130.8v130.8m40.5-130.8v130.8m36-130.8v130.8m97.5-130.8v130.8m48-130.8v130.8m12-130.8v130.8m6-130.8v130.8m7.5-130.8v130.8" stroke="url(#dg16)" stroke-width="1.6" fill="none"/><path d="M141.6 573.2v130.8m144-130.8v130.8m21-130.8v130.8m19.5-130.8v130.8m7.5-130.8v130.8m72-130.8v130.8m16.5-130.8v130.8m10.5-130.8v130.8" stroke="url(#dg14)" stroke-width="1.6" fill="none"/><path d="M147.6 573.2v130.8m111-130.8v130.8m19.5-130.8v130.8m24-130.8v130.8m39-130.8v130.8m22.5-130.8v130.8m25.5-130.8v130.8m19.5-130.8v130.8m4.5-130.8v130.8m55.5-130.8v130.8" stroke="url(#dg4)" stroke-width="1.6" fill="none"/><path d="M149.1 573.2v130.8m16.5-130.8v130.8m28.5-130.8v130.8m34.5-130.8v130.8m7.5-130.8v130.8m1.5-130.8v130.8m3-130.8v130.8m7.5-130.8v130.8m7.5-130.8v130.8m10.5-130.8v130.8m106.5-130.8v130.8m6-130.8v130.8m4.5-130.8v130.8m13.5-130.8v130.8m55.5-130.8v130.8m6-130.8v130.8m1.5-130.8v130.8m1.5-130.8v130.8" stroke="url(#dg13)" stroke-width="1.6" fill="none"/><path d="M150.6 573.2v130.8m13.5-130.8v130.8m15-130.8v130.8m34.5-130.8v130.8m90-130.8v130.8m10.5-130.8v130.8m9-130.8v130.8m16.5-130.8v130.8m18-130.8v130.8m49.5-130.8v130.8m7.5-130.8v130.8" stroke="url(#dg11)" stroke-width="1.6" fill="none"/><path d="M170.1 573.2v130.8m52.5-130.8v130.8m27-130.8v130.8m136.5-130.8v130.8m4.5-130.8v130.8m28.5-130.8v130.8m21-130.8v130.8" stroke="url(#dg8)" stroke-width="1.6" fill="none"/><path d="M171.6 573.2v130.8m18-130.8v130.8m25.5-130.8v130.8m16.5-130.8v130.8m7.5-130.8v130.8m6-130.8v130.8m43.5-130.8v130.8m40.5-130.8v130.8m52.5-130.8v130.8m3-130.8v130.8m18-130.8v130.8" stroke="url(#dg7)" stroke-width="1.6" fill="none"/><rect x="469.6" y="573.2" width="33.4" height="130.8" fill="url(#dgn)"/><path d="M470.4 573.2v130.8" stroke="url(#dg6)" stroke-width="1.6" fill="none" stroke-opacity="0.6"/><path d="M471.9 573.2v130.8" stroke="url(#dg2)" stroke-width="1.6" fill="none" stroke-opacity="0.6"/><path d="M474.9 573.2v130.8m10.5-130.8v130.8" stroke="url(#dg13)" stroke-width="1.6" fill="none" stroke-opacity="0.6"/><path d="M476.4 573.2v130.8m25.5-130.8v130.8" stroke="url(#dg4)" stroke-width="1.6" fill="none" stroke-opacity="0.6"/><path d="M477.9 573.2v130.8" stroke="url(#dg9)" stroke-width="1.6" fill="none" stroke-opacity="0.6"/><path d="M479.4 573.2v130.8" stroke="url(#dg3)" stroke-width="1.6" fill="none" stroke-opacity="0.6"/><path d="M483.9 573.2v130.8" stroke="url(#dg12)" stroke-width="1.6" fill="none" stroke-opacity="0.6"/><path d="M488.4 573.2v130.8" stroke="url(#dg0)" stroke-width="1.6" fill="none" stroke-opacity="0.6"/><path d="M491.4 573.2v130.8" stroke="url(#dg10)" stroke-width="1.6" fill="none" stroke-opacity="0.6"/><path d="M494.4 573.2v130.8" stroke="url(#dg7)" stroke-width="1.6" fill="none" stroke-opacity="0.6"/><path d="M495.9 573.2v130.8" stroke="url(#dg11)" stroke-width="1.6" fill="none" stroke-opacity="0.6"/><path d="M498.9 573.2v130.8" stroke="url(#dg5)" stroke-width="1.6" fill="none" stroke-opacity="0.6"/><rect x="97.3" y="599" width="372.3" height="87.2" fill="url(#dp0)"/><rect x="97.3" y="608.8" width="372.3" height="67.6" fill="url(#dp1)"/><rect x="97.3" y="600.1" width="372.3" height="65.4" fill="url(#dp2)"/><rect x="469.6" y="600.1" width="33.4" height="61" fill="url(#dp0)"/><path d="M469.6 600.1H503M469.6 687.3H503" stroke="#111" stroke-width="1.1" fill="none" stroke-dasharray="3 2"/><rect x="97.3" y="573.2" width="405.7" height="130.8" fill="none" stroke="#111" stroke-width="1"/><path d="M91.3 578.3L97.3 578.3" stroke="#111" stroke-width="1" fill="none"/><text class="s" x="88.3" y="583.3" font-size="15" text-anchor="end">3</text><path d="M91.3 600.1L97.3 600.1" stroke="#111" stroke-width="1" fill="none"/><text class="s" x="88.3" y="605.1" font-size="15" text-anchor="end">2</text><path d="M91.3 621.9L97.3 621.9" stroke="#111" stroke-width="1" fill="none"/><text class="s" x="88.3" y="626.9" font-size="15" text-anchor="end">1</text><path d="M91.3 643.7L97.3 643.7" stroke="#111" stroke-width="1" fill="none"/><text class="s" x="88.3" y="648.7" font-size="15" text-anchor="end">0</text><path d="M91.3 665.5L97.3 665.5" stroke="#111" stroke-width="1" fill="none"/><text class="s" x="88.3" y="670.5" font-size="15" text-anchor="end">−1</text><path d="M91.3 687.3L97.3 687.3" stroke="#111" stroke-width="1" fill="none"/><text class="s" x="88.3" y="692.3" font-size="15" text-anchor="end">−2</text><path d="M503 600.3L510 600.3L517.5 576.6L524.4 576.6" stroke="#111" stroke-width="1" fill="none"/><text class="s" x="528.7" y="583.6" font-size="15">100%</text><path d="M503 653L510 653L517.5 601.4L524.4 601.4" stroke="#111" stroke-width="1" fill="none"/><text class="s" x="528.7" y="608.2" font-size="15">75%</text><path d="M503 656.4L511 656.4L517.5 626.2L524.4 626.2" stroke="#111" stroke-width="1" fill="none"/><text class="s" x="528.7" y="632.9" font-size="15">mean</text><path d="M503 659.2L510 659.2L517.5 651L524.4 651" stroke="#111" stroke-width="1" fill="none"/><text class="s" x="528.7" y="657.2" font-size="15">50%</text><path d="M503 665L510 665L517.5 675.8L524.4 675.8" stroke="#111" stroke-width="1" fill="none"/><text class="s" x="528.7" y="681.4" font-size="15">25%</text><path d="M503 687.2L510 687.2L517.5 700.6L524.4 700.6" stroke="#111" stroke-width="1" fill="none"/><text class="s" x="528.7" y="705.8" font-size="15">0%</text><rect x="97.3" y="713.6" width="372.3" height="21.4" fill="#c49b2d"/><rect x="469.6" y="713.6" width="33.4" height="21.4" fill="#4a6caf"/><text class="s" x="507" y="731" font-size="17.8">Group</text><text class="s" x="507" y="757.2" font-size="13.5">CST1</text><text class="s" x="507" y="774.7" font-size="13.5">COL10A1</text><text class="s" x="507" y="792.2" font-size="13.5">HOXC12</text><text class="s" x="507" y="809.7" font-size="13.5">MAGEA3</text><text class="s" x="507" y="827.2" font-size="13.5">MAGEA6</text><text class="s" x="507" y="844.7" font-size="13.5">MAGEA12</text><text class="s" x="507" y="862.2" font-size="13.5">MAGEA4</text><text class="s" x="507" y="879.7" font-size="13.5">MAGEA1</text><text class="s" x="507" y="897.2" font-size="13.5">CTAG2</text><text class="s" x="507" y="914.7" font-size="13.5">MAGEC2</text><text class="s" x="507" y="932.2" font-size="13.5">RBP2</text><text class="s" x="507" y="949.7" font-size="13.5">APOA4</text><text class="s" x="507" y="967.2" font-size="13.5">MEP1B</text><text class="s" x="507" y="984.7" font-size="13.5">MS4A10</text><text class="s" x="507" y="1002.2" font-size="13.5">ENPP7</text><text class="s" x="507" y="1019.7" font-size="13.5">AQP10</text><text class="s" x="507" y="1037.2" font-size="13.5">PGA4</text><text class="s" x="507" y="1054.7" font-size="13.5">FLG</text><text class="s" x="507" y="1072.2" font-size="13.5">KRTAP3−2</text><text class="s" x="507" y="1089.7" font-size="13.5">LCE3A</text><path d="M97.3 752.5h2m24 0h2m8 0h2m222 0h2m20 0h2m24 0h2m2 0h2m18 0h4m34 0h2m-368 17.5h2m10 0h2m8 0h2m14 0h2m46 0h2m8 0h2m22 0h2m18 0h2m6 0h2m20 0h2m42 0h2m38 0h4m2 0h2m48 0h2m20 0h2m2 0h2m10 0h2m-354 17.5h2m42 0h2m26 0h4m22 0h2m14 0h2m26 0h2m42 0h2m2 0h2m12 0h2m98 0h2m2 0h2m8 0h2m40 0h2m-358 17.5h2m20 0h2m2 0h2m26 0h4m76 0h2m46 0h2m22 0h2m2 0h2m34 0h2m90 0h2m-334 17.5h2m76 0h2m68 0h2m130 0h2m6 0h2m4 0h2m22 0h2m24 0h2m12 0h2m-334 17.5h2m60 0h2m16 0h2m42 0h2m34 0h2m86 0h2m26 0h2m2 0h2m10 0h2m22 0h2m-330 17.5h2m58 0h2m14 0h2m40 0h2m30 0h2m44 0h2m30 0h2m26 0h2m38 0h2m38 0h2m-272 17.5h2m2 0h2m32 0h2m38 0h2m6 0h2m30 0h2m34 0h2m12 0h2m-188 17.5h2m18 0h2m12 0h2m78 0h2m68 0h2m90 0h4m-222 17.5h2m18 0h2m106 0h2m54 0h2m42 0h2m-310 17.5h2m52 0h2m20 0h2m72 0h2m6 0h4m36 0h2m-220 17.5h2m106 0h2m30 0h2m2 0h4m42 0h2m40 0h2m16 0h2m6 0h2m-288 17.5h2m6 0h4m16 0h2m4 0h2m58 0h2m40 0h2m16 0h2m38 0h2m8 0h2m40 0h2m36 0h2m4 0h2m2 0h2m22 0h2m8 0h2m18 0h2m6 0h2m12 0h2m4 0h2m-348 17.5h2m50 0h2m10 0h2m34 0h2m82 0h2m30 0h2m24 0h2m8 0h2m26 0h2m42 0h2m-350 17.5h2m44 0h2m18 0h2m16 0h2m52 0h2m26 0h2m56 0h2m156 0h2m-386 17.5h2m90 0h2m46 0h2m44 0h2m30 0h2m48 0h2m14 0h2m62 0h2m-346 17.5h2m28 0h2m26 0h2m6 0h2m22 0h2m52 0h2m48 0h2m42 0h2m2 0h2m2 0h2m42 0h2m24 0h2m30 0h2m4 0h2m8 0h2m-350 17.5h2m8 0h2m8 0h2m8 0h2m16 0h2m4 0h2m12 0h2m22 0h2m40 0h2m30 0h2m22 0h2m28 0h2m78 0h2m8 0h4m22 0h2m16 0h2m6 0h2m-372 17.5h6m90 0h2m8 0h4m40 0h2m24 0h2m30 0h2m26 0h2m14 0h2m22 0h2m18 0h2m34 0h2m4 0h2m24 0h2m12 0h2m-398 17.5h40m2 0h4m4 0h20m2 0h2m2 0h2m2 0h16m2 0h8m2 0h20m2 0h4m2 0h8m2 0h28m2 0h4m8 0h14m2 0h16m2 0h2m2 0h24m2 0h4m2 0h16m2 0h20m2 0h14m2 0h14m4 0h2m2 0h4m10 0h4m2 0h10m2 0h4" stroke="#f6f8fb" stroke-width="17.8" fill="none"/><path d="M99.3 752.5h4m12 0h6m4 0h4m16 0h2m56 0h2m24 0h2m4 0h2m44 0h2m42 0h2m8 0h4m12 0h4m4 0h2m20 0h2m12 0h2m24 0h2m26 0h2m14 0h2m-370 17.5h2m6 0h2m14 0h2m18 0h2m2 0h2m10 0h4m4 0h2m10 0h2m12 0h2m18 0h4m40 0h2m6 0h2m28 0h2m14 0h2m34 0h2m66 0h4m18 0h2m-338 17.5h2m18 0h2m16 0h2m38 0h4m16 0h2m60 0h2m96 0h2m104 0h4m-350 17.5h2m2 0h2m38 0h4m10 0h2m4 0h2m36 0h2m42 0h2m6 0h4m10 0h2m42 0h2m2 0h2m16 0h2m2 0h4m2 0h2m24 0h2m6 0h2m18 0h2m16 0h2m30 0h2m-370 17.5h2m4 0h2m6 0h2m2 0h2m28 0h4m14 0h2m2 0h2m8 0h2m46 0h2m16 0h2m26 0h2m4 0h2m16 0h2m2 0h2m2 0h2m16 0h2m12 0h2m2 0h2m22 0h2m2 0h4m84 0h2m-336 17.5h2m24 0h2m6 0h2m22 0h2m18 0h4m46 0h2m16 0h2m2 0h2m42 0h2m34 0h2m14 0h2m58 0h2m12 0h2m18 0h2m-326 17.5h2m36 0h2m12 0h2m4 0h2m18 0h2m8 0h2m6 0h2m14 0h2m6 0h2m10 0h2m40 0h2m2 0h2m16 0h2m40 0h2m34 0h2m52 0h2m-348 17.5h2m34 0h2m4 0h2m6 0h2m6 0h2m26 0h2m2 0h2m4 0h2m10 0h2m38 0h2m40 0h2m14 0h4m14 0h2m36 0h2m18 0h2m32 0h2m-326 17.5h2m12 0h4m36 0h2m62 0h2m6 0h2m42 0h2m64 0h2m-240 17.5h2m8 0h4m82 0h2m32 0h2m78 0h2m24 0h2m42 0h2m6 0h2m38 0h2m8 0h2m-348 17.5h4m8 0h2m6 0h2m108 0h2m12 0h2m8 0h2m8 0h2m4 0h2m12 0h2m30 0h2m20 0h2m8 0h2m24 0h2m24 0h2m54 0h2m16 0h2m14 0h2m2 0h2m-384 17.5h4m26 0h6m26 0h2m24 0h2m10 0h2m14 0h2m94 0h2m36 0h2m34 0h2m22 0h6m36 0h2m2 0h2m8 0h2m8 0h2m-356 17.5h2m52 0h2m54 0h2m62 0h2m6 0h2m60 0h2m32 0h2m62 0h2m2 0h2m6 0h2m4 0h2m-400 17.5h2m16 0h2m18 0h4m62 0h2m30 0h2m138 0h2m4 0h2m64 0h2m40 0h2m4 0h2m4 0h2m-344 17.5h2m8 0h2m8 0h2m32 0h2m16 0h2m32 0h2m34 0h2m20 0h2m10 0h2m6 0h2m32 0h2m30 0h2m8 0h4m40 0h2m20 0h4m-366 17.5h2m4 0h2m22 0h2m4 0h2m22 0h2m90 0h2m76 0h4m18 0h2m24 0h2m4 0h2m2 0h2m48 0h2m12 0h2m6 0h2m8 0h4m4 0h2m-358 17.5h2m62 0h2m12 0h2m10 0h2m14 0h2m164 0h2m72 0h2m8 0h4m-374 17.5h4m50 0h2m2 0h2m6 0h2m78 0h2m24 0h2m2 0h2m22 0h2m4 0h2m2 0h2m28 0h2m6 0h2m22 0h2m48 0h2m2 0h2m18 0h2m2 0h2m6 0h4m6 0h4m-372 17.5h2m10 0h2m28 0h2m46 0h2m34 0h4m94 0h2m50 0h2m8 0h2m56 0h2m8 0h4m-4 17.5h2m4 0h2" stroke="#dfc98b" stroke-width="17.8" fill="none"/><path d="M103.3 752.5h4m2 0h2m26 0h2m14 0h8m2 0h2m8 0h8m2 0h2m2 0h2m8 0h6m12 0h4m2 0h2m16 0h2m2 0h2m8 0h2m4 0h2m12 0h2m4 0h2m2 0h2m16 0h2m2 0h2m2 0h2m2 0h4m2 0h2m6 0h4m2 0h2m4 0h2m20 0h2m10 0h2m14 0h4m20 0h6m4 0h2m8 0h2m4 0h2m-342 17.5h2m8 0h4m14 0h2m4 0h4m10 0h2m4 0h2m74 0h2m2 0h4m16 0h2m12 0h2m4 0h2m4 0h2m14 0h2m10 0h2m10 0h2m42 0h8m6 0h2m2 0h2m6 0h4m4 0h2m42 0h2m10 0h2m8 0h2m2 0h2m-368 17.5h2m36 0h2m8 0h2m54 0h2m10 0h2m8 0h2m32 0h2m4 0h2m28 0h2m20 0h2m66 0h2m66 0h2m-342 17.5h2m24 0h2m4 0h4m2 0h2m46 0h2m22 0h2m14 0h2m50 0h2m24 0h4m12 0h2m36 0h2m6 0h2m22 0h2m28 0h2m4 0h2m10 0h4m-358 17.5h4m2 0h2m2 0h2m12 0h2m18 0h2m36 0h2m68 0h2m10 0h4m6 0h4m46 0h2m4 0h2m2 0h2m38 0h2m36 0h2m26 0h2m8 0h2m2 0h2m2 0h2m4 0h2m-362 17.5h2m88 0h2m12 0h4m24 0h2m58 0h2m32 0h2m12 0h2m20 0h2m20 0h2m6 0h6m34 0h4m4 0h2m-340 17.5h2m18 0h2m30 0h6m24 0h2m4 0h2m24 0h2m2 0h2m42 0h2m30 0h4m70 0h2m72 0h2m18 0h2m-306 17.5h2m68 0h2m48 0h2m18 0h2m32 0h2m84 0h2m2 0h2m12 0h2m-250 17.5h2m26 0h2m12 0h2m30 0h2m24 0h2m44 0h2m16 0h2m16 0h2m28 0h2m16 0h2m38 0h2m-184 17.5h2m16 0h2m42 0h2m78 0h2m42 0h2m-352 17.5h2m14 0h2m28 0h2m4 0h2m16 0h2m26 0h2m42 0h2m2 0h2m12 0h2m78 0h2m38 0h2m22 0h2m6 0h2m34 0h2m12 0h2m8 0h2m10 0h2m-394 17.5h2m30 0h2m14 0h2m60 0h4m32 0h2m36 0h2m2 0h2m10 0h2m16 0h2m4 0h2m114 0h2m8 0h2m14 0h2m10 0h2m4 0h2m-344 17.5h2m32 0h2m18 0h2m8 0h4m14 0h2m6 0h2m40 0h2m2 0h2m30 0h2m6 0h2m12 0h2m20 0h2m12 0h2m42 0h2m56 0h2m2 0h2m6 0h2m-392 17.5h2m24 0h2m4 0h2m30 0h2m52 0h4m4 0h2m12 0h2m14 0h2m6 0h2m10 0h4m4 0h2m46 0h2m34 0h2m34 0h2m6 0h2m44 0h2m6 0h2m4 0h2m16 0h2m4 0h2m-392 17.5h2m2 0h4m28 0h6m10 0h2m12 0h2m32 0h4m16 0h2m94 0h2m14 0h2m8 0h2m6 0h2m14 0h2m26 0h4m6 0h2m58 0h2m2 0h6m12 0h2m2 0h2m-402 17.5h2m50 0h2m4 0h2m12 0h4m34 0h2m12 0h2m4 0h2m54 0h2m10 0h2m8 0h2m28 0h2m20 0h2m2 0h2m2 0h4m10 0h2m54 0h2m28 0h2m8 0h2m2 0h2m8 0h2m4 0h2m4 0h2m-316 17.5h2m100 0h2m34 0h2m42 0h2m68 0h2m32 0h2m16 0h2m4 0h2m-384 17.5h2m22 0h2m72 0h2m70 0h2m70 0h2m44 0h2m36 0h2m58 0h2m-378 17.5h2m80 0h2m66 0h2m8 0h2m116 0h2m72 0h2m18 0h2m-22 17.5h2m2 0h2m10 0h2m4 0h2" stroke="#eadcb5" stroke-width="17.8" fill="none"/><path d="M107.3 752.5h2m26 0h2m6 0h2m2 0h2m20 0h4m34 0h2m16 0h2m10 0h2m2 0h2m20 0h2m2 0h2m16 0h2m4 0h2m6 0h2m2 0h2m2 0h2m92 0h2m8 0h2m12 0h2m10 0h2m16 0h2m4 0h2m-302 17.5h2m18 0h2m16 0h2m16 0h2m12 0h2m4 0h2m12 0h2m28 0h2m2 0h2m14 0h2m18 0h2m16 0h2m2 0h2m2 0h2m46 0h2m12 0h2m34 0h2m8 0h6m4 0h2m-252 17.5h2m64 0h2m28 0h4m-202 17.5h2m24 0h2m160 0h2m36 0h2m-184 35h2m148 0h2m2 0h2m98 0h2m16 0h2m-304 17.5h2m296 0h2m6 0h2m-266 52.5h2m-44 17.5h2m14 0h2m14 0h2m134 0h2m174 0h2m24 0h2m-398 17.5h2m102 0h2m24 0h2m30 0h2m84 0h2m24 0h2m84 0h4m30 0h2m-396 17.5h2m34 0h2m18 0h2m10 0h2m26 0h2m22 0h2m46 0h2m140 0h2m6 0h2m36 0h2m26 0h2m-346 17.5h2m30 0h2m60 0h2m2 0h2m46 0h2m12 0h2m12 0h2m10 0h2m48 0h2m22 0h2m26 0h2m44 0h2m24 0h2m-320 17.5h2m126 0h2m48 0h2m60 0h4m10 0h2m42 0h2m-382 17.5h2m96 0h2m22 0h2m50 0h2m4 0h2m28 0h2m24 0h2m90 0h2m66 0h2m-12 17.5h2m-392 17.5h2m76 0h2m12 0h2m8 0h2m6 0h2m46 0h2m2 0h2m16 0h2m14 0h2m14 0h2m4 0h2m20 0h2m66 0h2m6 0h2m12 0h2m14 0h2m38 0h2m2 35h2m2 0h2m2 0h2" stroke="#fcfaf4" stroke-width="17.8" fill="none"/><path d="M111.3 752.5h2m8 0h2m26 0h2m16 0h2m12 0h2m2 0h2m2 0h2m2 0h4m30 0h2m2 0h2m22 0h2m8 0h2m10 0h2m42 0h2m40 0h6m8 0h2m6 0h4m4 0h2m2 0h2m4 0h2m40 0h4m4 0h2m2 0h4m-358 17.5h2m12 0h2m6 0h2m22 0h4m16 0h2m4 0h2m16 0h2m6 0h8m10 0h2m18 0h2m2 0h2m24 0h2m20 0h2m20 0h2m10 0h2m4 0h2m20 0h2m20 0h2m2 0h2m4 0h2m12 0h2m16 0h4m22 0h2m-112 17.5h2m76 0h2m48 35h2m-286 17.5h2m90 0h2m-60 17.5h2m40 35h2m190 17.5h2m-160 17.5h2m22 0h2m14 0h2m14 0h2m124 0h2m2 0h2m8 0h2m-14 17.5h2m-314 17.5h2m4 0h2m100 0h2m106 0h2m66 0h2m26 0h2m28 0h2m-400 17.5h2m14 0h2m24 0h2m4 0h2m6 0h2m2 0h2m128 0h2m112 0h2m8 0h2m24 0h2m44 0h2m-306 17.5h2m138 0h2m64 0h2m38 0h2m66 0h2m-284 17.5h2m14 0h2m10 0h2m16 0h2m36 0h2m6 0h2m132 0h2m8 0h2m16 0h2m-354 35h2m116 0h2m8 0h2m16 0h2m4 0h2m48 0h2m40 0h2m34 0h2m72 0h2m20 0h2m-26 17.5h2m14 0h4m10 0h2m-222 17.5h2m190 0h4m8 0h2" stroke="#f5eeda" stroke-width="17.8" fill="none"/><path d="M113.3 752.5h2m16 0h2m18 0h2m94 0h2m2 0h2m70 0h2m18 0h2m4 0h2m4 0h2m18 0h2m30 0h2m62 0h2m4 0h2m2 0h6m2 0h2m4 0h6m-328 17.5h2m8 0h2m10 0h2m12 0h2m12 0h2m32 0h2m6 0h2m38 0h2m10 0h2m14 0h2m16 0h2m6 0h2m26 0h2m12 0h4m20 0h2m34 0h2m6 0h2m8 0h16m4 0h2m-344 17.5h2m44 0h2m40 0h2m62 0h2m52 0h2m54 0h2m30 0h2m-346 17.5h2m20 0h2m74 0h2m92 0h2m64 0h2m56 0h2m-294 17.5h4m16 0h2m46 0h2m8 0h2m2 0h2m140 0h2m-258 17.5h2m10 0h2m126 0h2m18 0h2m80 0h2m6 0h2m8 0h2m42 0h2m42 0h2m-340 17.5h2m36 0h2m6 0h2m-42 17.5h2m42 0h2m40 0h2m130 0h2m32 0h2m78 0h2m4 17.5h2m-124 17.5h2m-194 17.5h2m32 0h2m4 0h2m4 0h2m6 0h2m2 0h2m116 0h2m4 0h6m2 0h2m2 0h2m42 0h2m4 0h2m2 0h2m10 0h2m34 0h2m10 0h2m-342 17.5h2m12 0h2m2 0h2m6 0h2m14 0h2m4 0h2m6 0h4m6 0h2m10 0h4m6 0h2m26 0h2m2 0h2m32 0h2m20 0h2m2 0h2m6 0h2m22 0h2m26 0h2m2 0h2m48 0h2m14 0h2m2 0h2m6 0h4m2 0h2m-326 17.5h2m2 0h2m2 0h2m22 0h2m4 0h2m2 0h2m24 0h4m48 0h2m24 0h2m20 0h2m4 0h2m44 0h2m14 0h2m50 0h2m32 0h2m4 0h2m-324 17.5h2m2 0h2m16 0h2m48 0h4m32 0h2m20 0h2m2 0h2m30 0h2m6 0h2m30 0h2m6 0h2m24 0h2m4 0h2m22 0h2m10 0h2m30 0h2m6 0h2m14 0h2m6 0h2m-368 17.5h2m4 0h2m14 0h4m2 0h2m4 0h2m4 0h2m26 0h2m28 0h6m18 0h2m2 0h2m28 0h2m10 0h2m14 0h2m10 0h2m8 0h2m40 0h2m32 0h2m28 0h2m22 0h2m16 0h2m-344 17.5h4m32 0h2m54 0h2m34 0h2m10 0h2m2 0h2m2 0h2m6 0h2m10 0h2m20 0h2m12 0h2m2 0h4m18 0h2m2 0h2m32 0h2m44 0h2m16 0h2m4 0h2m6 0h4m-86 17.5h2m-272 17.5h2m6 0h2m12 0h2m8 0h2m18 0h2m4 0h2m2 0h2m64 0h2m2 0h2m12 0h2m80 0h2m8 0h2m18 0h2m2 0h2m14 0h2m34 0h2m2 0h2m38 0h4" stroke="#7a96c6" stroke-width="17.8" fill="none"/><path d="M129.3 752.5h2m10 0h2m18 0h2m2 0h2m44 0h2m10 0h2m20 0h2m10 0h2m10 0h2m4 0h2m10 0h2m110 0h2m40 0h4m24 0h2m2 0h4m2 0h2m10 0h4m6 0h2m-256 17.5h2m28 0h2m8 0h2m14 0h2m22 0h2m42 0h4m98 0h6m16 0h4m2 0h2m-348 17.5h2m52 0h2m32 0h2m20 0h2m22 0h2m64 0h2m24 0h2m8 0h2m20 0h2m20 0h2m-242 17.5h2m24 0h2m32 0h2m74 0h2m-168 17.5h2m28 0h2m20 0h2m4 0h2m128 0h2m54 0h2m56 0h2m-298 17.5h2m266 0h2m-300 17.5h2m2 0h2m32 0h2m156 0h2m16 0h2m50 0h2m-304 17.5h2m26 0h2m186 0h2m90 0h2m-72 17.5h2m-152 17.5h2m176 0h2m18 0h2m-274 17.5h2m4 0h2m72 0h2m6 0h2m64 0h2m76 0h2m8 0h2m44 0h2m8 0h2m-322 17.5h2m20 0h2m2 0h2m26 0h2m18 0h2m38 0h2m24 0h2m8 0h2m8 0h2m-88 17.5h2m36 0h2m2 0h2m24 0h2m14 0h2m42 0h2m28 0h2m2 0h2m118 0h2m4 0h2m2 0h2m-340 17.5h2m26 0h2m40 0h2m84 0h2m12 0h2m24 0h2m26 0h2m8 0h2m30 0h2m2 0h2m18 0h2m16 0h2m12 0h2m8 0h2m-198 17.5h2m28 0h2m12 0h2m44 0h2m12 0h2m16 0h4m56 0h2m-314 17.5h2m20 0h2m12 0h2m16 0h2m10 0h2m14 0h2m20 0h2m32 0h2m58 0h2m50 0h4m8 0h2m2 0h2m32 0h2m34 0h2m-208 17.5h2m-118 17.5h2m76 0h2m18 0h2m42 0h2m28 0h2m4 0h2m30 0h2m38 0h2m10 0h2m20 0h2m14 0h2m24 35h2" stroke="#5175b4" stroke-width="17.8" fill="none"/><path d="M139.3 752.5h2m50 0h2m12 0h2m2 0h2m2 0h2m56 0h2m16 0h2m2 0h4m34 0h2m8 0h2m2 0h4m34 0h2m34 0h2m6 0h2m-300 17.5h4m10 0h2m10 0h2m10 0h2m120 0h2m32 0h2m4 0h2m6 0h2m10 0h2m78 0h2m-278 17.5h2m78 0h2m6 0h2m34 0h2m6 0h2m12 0h2m26 0h4m8 0h2m2 0h2m24 0h2m-262 17.5h2m8 0h2m30 0h2m14 0h2m16 0h2m30 0h2m20 0h2m10 0h2m8 0h2m2 0h2m24 0h2m10 0h2m8 0h4m28 0h2m38 0h2m56 0h2m2 0h2m-336 17.5h2m12 0h2m12 0h2m12 0h8m12 0h2m26 0h2m22 0h2m8 0h2m14 0h2m4 0h2m22 0h2m16 0h2m12 0h2m24 0h2m2 0h4m2 0h2m4 0h2m6 0h2m18 0h2m18 0h4m14 0h2m22 0h2m-342 17.5h2m4 0h2m2 0h2m44 0h2m8 0h2m44 0h2m2 0h4m2 0h2m20 0h2m10 0h2m12 0h2m2 0h2m2 0h2m22 0h2m6 0h2m16 0h2m8 0h2m26 0h2m8 0h2m4 0h2m64 0h2m-334 17.5h2m10 0h2m36 0h2m26 0h2m2 0h6m6 0h2m26 0h2m82 0h4m8 0h2m2 0h2m20 0h2m14 0h2m2 0h2m8 0h2m6 0h2m44 0h2m-350 17.5h2m24 0h2m48 0h2m4 0h2m8 0h2m22 0h2m20 0h2m4 0h2m46 0h2m22 0h2m40 0h2m20 0h2m2 0h2m8 0h2m4 0h2m58 0h2m-352 17.5h2m2 0h2m58 0h2m20 0h2m16 0h2m42 0h2m6 0h2m6 0h2m-168 17.5h2m36 0h2m16 0h2m56 0h2m34 0h2m16 0h2m46 0h2m28 0h2m2 0h2m20 0h2m-236 17.5h2m26 0h2m4 0h2m34 0h2m78 0h2m52 0h2m34 0h2m12 0h2m48 0h2m22 0h2m2 0h2m2 0h4m4 0h2m4 0h2m-402 17.5h2m30 0h2m34 0h2m14 0h2m8 0h2m2 0h2m16 0h2m22 0h2m2 0h2m54 0h2m2 0h2m18 0h2m6 0h2m2 0h2m24 0h2m6 0h2m2 0h2m4 0h2m14 0h2m8 0h2m6 0h2m28 0h2m10 0h2m16 0h2m6 0h2m8 0h2m4 0h6m-340 17.5h2m18 0h2m42 0h2m18 0h2m48 0h2m12 0h2m84 0h2m2 0h4m26 0h2m12 0h2m18 0h2m6 0h2m24 0h2m-402 17.5h2m6 0h2m70 0h2m26 0h2m50 0h2m56 0h2m28 0h2m16 0h4m52 0h2m2 0h2m22 0h2m18 0h4m4 0h4m2 0h2m-370 17.5h2m44 0h2m6 0h2m30 0h2m12 0h2m4 0h2m2 0h2m58 0h2m14 0h2m52 0h2m20 0h2m8 0h2m24 0h2m14 0h2m16 0h4m12 0h4m22 0h4m8 0h2m-380 17.5h2m8 0h2m4 0h4m40 0h2m30 0h2m12 0h2m54 0h2m4 0h2m4 0h2m4 0h2m26 0h2m80 0h2m34 0h2m34 0h2m-342 17.5h2m8 0h2m10 0h2m56 0h2m2 0h2m14 0h2m94 0h2m70 0h2m14 0h2m46 0h8m8 0h2m-358 17.5h2m8 0h2m56 0h2m18 0h4m24 0h2m56 0h2m54 0h2m20 0h2m2 0h2m36 0h2m36 0h2m10 0h2m-370 17.5h2m28 0h2m52 0h2m34 0h2m54 0h2m98 0h2m60 0h2m6 0h2m8 0h2m10 0h2m-316 17.5h2m6 0h2m54 0h2m46 0h2m40 0h2m24 0h2" stroke="#d3b561" stroke-width="17.8" fill="none"/><path d="M219.3 752.5h2m90 0h2m56 0h2m116 0h2m-382 17.5h2m28 0h2m24 0h2m14 0h2m46 0h2m54 0h2m98 0h2m38 0h2m14 0h2m30 0h2m-352 17.5h2m20 0h2m38 0h2m8 0h2m60 0h2m6 0h2m26 0h4m20 0h2m20 0h2m50 0h2m2 0h2m28 0h2m16 0h2m30 0h2m8 0h2m2 0h6m2 0h2m2 0h4m-398 17.5h2m30 0h2m26 0h2m86 0h2m40 0h2m78 0h2m50 0h2m2 0h2m30 0h2m8 0h4m6 0h2m-348 17.5h2m32 0h2m16 0h2m14 0h2m38 0h2m10 0h2m8 0h2m148 0h2m10 0h2m42 0h2m2 0h2m2 0h2m12 0h4m-340 17.5h2m8 0h2m16 0h2m64 0h4m8 0h2m8 0h2m44 0h4m36 0h2m70 0h2m28 0h2m10 0h4m4 0h10m6 0h4m-350 17.5h2m128 0h2m40 0h2m12 0h2m24 0h2m14 0h2m44 0h2m48 0h2m-366 17.5h2m16 0h2m4 0h2m4 0h2m4 0h2m60 0h2m22 0h2m12 0h2m24 0h2m70 0h2m2 0h2m16 0h2m72 0h4m8 0h2m14 0h2m2 0h2m-336 17.5h2m54 0h2m2 0h2m116 0h4m18 0h2m28 0h2m40 0h2m18 0h2m-328 17.5h2m18 0h2m46 0h2m26 0h2m8 0h2m62 0h2m68 0h2m-250 17.5h2m8 0h2m18 0h4m8 0h2m18 0h2m4 0h2m20 0h4m2 0h2m12 0h2m6 0h2m2 0h2m2 0h4m14 0h2m2 0h6m4 0h2m8 0h4m8 0h2m8 0h2m12 0h2m14 0h2m16 0h2m16 0h2m8 0h6m2 0h2m4 0h4m48 0h2m10 0h2m4 0h2m-316 17.5h4m20 0h2m16 0h2m12 0h2m14 0h2m56 0h2m10 0h2m22 0h2m2 0h2m8 0h2m22 0h2m24 0h2m24 0h2m10 0h2m4 0h4m6 0h2m26 0h2m4 0h2m2 0h2m-362 17.5h2m18 0h2m4 0h2m20 0h2m40 0h2m48 0h2m38 0h2m12 0h2m12 0h2m14 0h4m10 0h2m2 0h2m30 0h2m12 0h2m22 0h2m-302 17.5h2m20 0h2m34 0h4m26 0h2m4 0h2m8 0h2m16 0h2m10 0h2m4 0h2m10 0h2m6 0h4m24 0h4m2 0h4m4 0h2m6 0h2m14 0h4m4 0h2m10 0h2m36 0h2m16 0h2m6 0h2m40 0h2m-340 17.5h2m2 0h2m20 0h2m4 0h2m6 0h2m26 0h2m12 0h2m10 0h2m20 0h4m2 0h2m10 0h2m8 0h4m2 0h2m8 0h2m32 0h2m12 0h2m4 0h2m20 0h2m8 0h2m24 0h2m2 0h2m20 0h2m34 0h2m8 0h2m4 0h2m-370 17.5h4m28 0h2m8 0h2m24 0h2m34 0h2m36 0h2m38 0h2m38 0h2m20 0h2m8 0h2m14 0h2m14 0h2m14 0h2m6 0h8m10 0h2m2 0h2m-300 17.5h2m44 0h2m-86 17.5h2m24 0h2m22 0h2m16 0h2m26 0h2m10 0h2m22 0h2m10 0h2m16 0h2m16 0h2m8 0h2m32 0h4m4 0h2m14 0h2m28 0h2m2 0h2m40 0h2m30 0h2m32 17.5h2" stroke="#a4b6d8" stroke-width="17.8" fill="none"/><path d="M233.3 752.5h2m14 0h2m66 0h2m52 0h2m90 0h2m-346 17.5h2m64 0h2m2 0h2m54 0h2m12 0h2m38 0h2m40 0h2m62 0h2m14 0h2m24 0h2m-346 17.5h6m4 0h2m8 0h2m4 0h2m20 0h2m8 0h2m18 0h2m6 0h2m28 0h2m8 0h2m4 0h2m16 0h2m2 0h2m12 0h2m50 0h2m10 0h2m16 0h2m16 0h2m2 0h2m2 0h2m26 0h4m6 0h2m14 0h2m14 0h2m8 0h2m-292 17.5h2m8 0h2m2 0h2m2 0h2m4 0h2m4 0h2m10 0h2m2 0h2m12 0h4m26 0h2m14 0h6m6 0h2m34 0h2m38 0h2m6 0h2m20 0h2m54 0h2m16 0h2m-352 17.5h6m46 0h2m12 0h2m48 0h2m6 0h2m26 0h2m8 0h2m8 0h4m4 0h2m10 0h2m8 0h2m10 0h2m4 0h2m4 0h2m26 0h2m6 0h2m18 0h2m2 0h2m10 0h2m4 0h2m4 0h2m4 0h2m2 0h2m2 0h2m-338 17.5h2m12 0h2m4 0h2m2 0h4m6 0h2m24 0h2m8 0h2m26 0h4m8 0h2m20 0h2m8 0h2m56 0h2m26 0h2m18 0h2m16 0h2m12 0h2m32 0h2m2 0h2m42 0h2m-370 17.5h2m28 0h2m82 0h2m46 0h4m10 0h2m2 0h4m4 0h2m18 0h2m10 0h2m6 0h2m32 0h2m8 0h2m26 0h4m40 0h4m2 0h2m12 0h2m26 0h2m-382 17.5h2m14 0h2m68 0h4m2 0h2m48 0h2m8 0h2m14 0h2m10 0h2m4 0h2m8 0h2m2 0h2m16 0h2m26 0h2m6 0h2m22 0h2m2 0h2m26 0h2m14 0h2m10 0h2m6 0h2m2 0h2m-348 17.5h2m16 0h4m70 0h4m16 0h2m10 0h2m16 0h4m42 0h2m20 0h2m4 0h2m12 0h2m20 0h2m8 0h4m8 0h2m2 0h2m20 0h2m4 0h2m2 0h2m8 0h2m14 0h2m8 0h2m4 0h2m-372 17.5h2m18 0h2m18 0h2m14 0h2m16 0h2m24 0h2m2 0h2m4 0h4m4 0h2m6 0h2m4 0h2m2 0h2m2 0h2m6 0h2m6 0h2m8 0h2m2 0h2m22 0h2m8 0h2m2 0h2m4 0h4m6 0h4m8 0h2m16 0h2m26 0h2m12 0h2m22 0h2m2 0h2m4 0h4m10 0h2m10 0h2m6 0h2m-366 17.5h2m6 0h2m8 0h2m118 0h2m16 0h2m6 0h2m12 0h2m32 0h2m24 0h2m68 0h2m2 0h2m14 0h2m6 0h2m24 0h6m-348 17.5h2m20 0h2m28 0h2m8 0h2m22 0h2m54 0h2m14 0h2m4 0h2m6 0h4m36 0h2m58 0h2m6 0h2m8 0h2m32 0h2m-338 17.5h2m14 0h2m32 0h2m18 0h4m28 0h2m34 0h2m20 0h2m4 0h4m26 0h2m34 0h2m20 0h4m6 0h2m34 0h4m16 0h2m22 0h2m10 0h2m-350 17.5h2m8 0h2m18 0h2m10 0h4m2 0h2m12 0h4m26 0h2m2 0h2m34 0h2m16 0h2m10 0h2m30 0h2m20 0h2m66 0h2m42 0h2m-344 17.5h4m14 0h2m16 0h2m50 0h2m44 0h4m12 0h2m24 0h2m30 0h4m2 0h4m30 0h2m86 0h2m2 0h2m12 0h4m-344 17.5h4m2 0h2m4 0h2m38 0h2m10 0h2m10 0h6m56 0h2m14 0h2m10 0h2m12 0h2m28 0h2m16 0h2m2 0h2m38 0h2m-290 17.5h2m2 0h4m12 0h2m4 0h2m4 0h2m4 0h2m4 0h2m4 0h4m2 0h2m24 0h2m14 0h2m18 0h2m36 0h6m8 0h2m10 0h2m4 0h4m4 0h4m8 0h6m2 0h4m12 0h2m6 0h4m24 0h2m8 0h6m24 0h2m2 0h4m4 0h2m2 0h2m4 0h2m6 0h2m4 0h4m14 0h2m2 0h2m2 0h2m6 0h2m-368 17.5h2m10 0h2m18 0h2m16 0h2m18 0h2m20 0h2m8 0h2m16 0h2m42 0h2m4 0h2m2 0h2m14 0h2m46 0h2m38 0h2m22 0h2m2 0h2m2 0h2m28 0h2m2 0h2m10 0h2m24 0h2m-396 17.5h4m10 0h2m8 0h4m2 0h2m2 0h6m2 0h2m4 0h4m2 0h18m4 0h6m2 0h10m4 0h2m2 0h6m4 0h2m2 0h4m8 0h8m2 0h2m2 0h8m2 0h2m10 0h2m8 0h4m4 0h6m2 0h2m4 0h8m2 0h2m4 0h14m2 0h4m2 0h20m4 0h4m2 0h2m8 0h4m2 0h10m6 0h2m2 0h6m4 0h4m2 0h2m2 0h2m2 0h2m2 0h2m6 0h6m2 0h6m8 0h4m2 0h2m4 0h2m6 0h2m18 0h2m-360 17.5h2m4 0h4m24 0h2m20 0h2m8 0h2m20 0h2m14 0h2m28 0h2m10 0h2m14 0h2m16 0h2m34 0h2m16 0h2m20 0h2m14 0h2m14 0h4m2 0h2m4 0h10m4 0h2" stroke="#e4e9f3" stroke-width="17.8" fill="none"/><path d="M261.3 752.5h2m34 0h2m136 0h2m14 0h2m-282 17.5h2m52 0h2m34 0h2m12 0h2m58 0h2m-226 17.5h2m46 0h2m6 0h2m16 0h2m50 0h2m146 0h2m8 0h2m30 0h2m2 0h2m12 0h2m-348 17.5h2m10 0h2m30 0h2m32 0h2m18 0h2m24 0h2m8 0h2m22 0h2m22 0h2m34 0h2m6 0h2m16 0h2m24 0h2m8 0h2m10 0h2m4 0h2m58 0h2m-334 17.5h2m52 0h2m26 0h2m2 0h2m68 0h2m2 0h2m38 0h2m22 0h2m26 0h2m14 0h2m2 0h2m32 0h2m-324 17.5h2m86 0h2m12 0h2m4 0h2m14 0h2m6 0h2m2 0h2m14 0h2m20 0h2m2 0h2m30 0h2m42 0h2m40 0h4m22 0h2m12 0h2m10 0h4m-354 17.5h2m8 0h4m12 0h2m32 0h2m30 0h2m94 0h2m6 0h2m4 0h2m78 0h2m18 0h2m12 0h2m10 0h2m2 0h4m18 0h2m-310 17.5h2m20 0h2m84 0h2m38 0h2m60 0h2m-234 17.5h2m92 0h2m46 0h2m40 0h2m20 0h2m-84 17.5h2m128 0h2m78 0h2m-296 17.5h2m30 0h4m4 0h4m68 0h2m16 0h2m56 0h2m52 0h4m10 0h2m12 0h2m12 0h2m-352 17.5h2m4 0h2m40 0h2m6 0h2m26 0h2m58 0h2m2 0h2m24 0h2m26 0h2m12 0h2m30 0h2m122 0h2m4 0h4m-374 17.5h2m24 0h4m30 0h2m28 0h2m14 0h2m40 0h2m12 0h2m4 0h2m42 0h2m28 0h2m38 0h2m44 0h2m24 0h2m18 0h2m4 0h2m2 0h2m-388 17.5h2m36 0h2m20 0h2m26 0h2m22 0h2m28 0h2m34 0h2m34 0h2m24 0h4m48 0h2m76 0h2m2 0h2m8 0h2m-358 17.5h2m40 0h2m20 0h2m32 0h2m56 0h2m70 0h2m20 0h2m6 0h2m46 0h2m22 0h2m24 0h2m-398 17.5h2m104 0h2m32 0h2m18 0h4m70 0h2m28 0h2m38 0h2m34 0h2m46 0h2m-390 17.5h2m180 0h2m154 0h2m30 0h2m14 0h2m8 0h2m-330 17.5h2m24 0h2m66 0h2m40 0h2m46 0h2m6 0h2m10 0h2m12 0h2m4 0h2m4 0h2m38 0h2m32 0h2m20 0h2m-244 17.5h2m6 0h2m16 0h2m152 0h2m66 0h2m-224 17.5h2m184 0h2" stroke="#c59e31" stroke-width="17.8" fill="none"/><path d="M115.3 770h2m98 0h2m94 0h2m80 0h2m12 0h2m22 0h2m-324 17.5h2m20 0h2m2 0h2m54 0h2m6 0h2m12 0h2m6 0h4m6 0h2m16 0h4m16 0h2m4 0h2m2 0h2m24 0h2m24 0h2m8 0h2m4 0h6m6 0h4m2 0h4m4 0h2m62 0h4m26 0h6m2 0h8m2 0h2m6 0h2m2 0h2m-366 17.5h2m54 0h4m10 0h2m4 0h2m58 0h2m18 0h2m46 0h2m14 0h2m12 0h2m20 0h2m10 0h2m4 0h8m6 0h2m2 0h2m18 0h2m4 0h2m6 0h4m6 0h4m6 0h2m4 0h2m2 0h2m2 0h4m2 0h4m-354 17.5h2m64 0h2m18 0h2m10 0h2m12 0h2m96 0h4m18 0h2m6 0h2m22 0h2m20 0h2m6 0h4m22 0h4m2 0h2m2 0h2m2 0h6m2 0h4m4 0h4m-406 17.5h2m28 0h2m6 0h2m4 0h4m4 0h2m2 0h2m30 0h2m2 0h2m36 0h2m2 0h2m10 0h2m28 0h2m14 0h4m8 0h2m10 0h2m10 0h4m2 0h2m6 0h2m6 0h2m20 0h2m22 0h2m6 0h2m12 0h2m52 0h6m4 0h4m10 0h6m-396 17.5h2m6 0h2m2 0h2m14 0h2m6 0h2m8 0h2m14 0h2m16 0h2m6 0h2m10 0h2m16 0h2m4 0h2m48 0h2m6 0h2m2 0h2m14 0h2m16 0h2m10 0h2m54 0h2m2 0h2m32 0h4m20 0h2m16 0h2m2 0h2m4 0h4m2 0h4m2 0h2m6 0h2m-382 17.5h2m18 0h2m2 0h4m8 0h2m8 0h2m4 0h2m8 0h2m22 0h2m4 0h2m6 0h2m6 0h2m6 0h4m2 0h4m4 0h2m2 0h2m12 0h4m16 0h2m2 0h2m4 0h2m12 0h2m2 0h2m12 0h2m6 0h2m12 0h2m4 0h2m10 0h8m16 0h2m8 0h2m2 0h4m2 0h4m6 0h2m2 0h2m28 0h2m4 0h2m2 0h2m2 0h2m2 0h2m12 0h6m2 0h2m-398 17.5h4m2 0h2m8 0h2m2 0h2m14 0h2m4 0h2m12 0h2m10 0h4m4 0h2m60 0h2m28 0h2m12 0h2m2 0h2m10 0h2m4 0h8m14 0h2m4 0h2m22 0h2m4 0h2m2 0h2m2 0h2m6 0h8m12 0h4m22 0h2m2 0h2m22 0h6m4 0h2m16 0h4m2 0h4m2 0h2m4 0h2m-402 17.5h4m8 0h2m8 0h2m8 0h2m8 0h2m2 0h2m10 0h2m2 0h4m24 0h2m26 0h2m10 0h2m18 0h2m4 0h2m12 0h2m24 0h2m16 0h2m22 0h4m6 0h2m2 0h2m12 0h4m28 0h2m30 0h2m6 0h2m2 0h2m18 0h2m4 0h2m2 0h4m2 0h2m4 0h6m4 0h4m-388 17.5h2m10 0h2m26 0h2m4 0h2m16 0h2m64 0h2m38 0h2m8 0h4m18 0h2m56 0h2m12 0h2m6 0h4m26 0h2m12 0h2m12 0h2m-254 17.5h2m16 0h2m26 0h2m4 0h2m32 0h2m50 0h2m2 0h6m8 0h4m8 0h2m12 0h4m8 0h2m20 0h2m16 0h2m2 0h4m4 0h2m-322 17.5h2m2 0h4m14 0h2m12 0h2m4 0h2m26 0h2m4 0h2m8 0h2m10 0h2m4 0h2m28 0h2m34 0h2m10 0h2m34 0h2m4 0h6m10 0h2m6 0h2m16 0h2m22 0h2m20 0h2m-252 17.5h2m22 0h2m2 0h2m20 0h2m28 0h2m4 0h2m64 0h4m18 0h2m12 0h2m6 0h4m2 0h2m44 0h2m14 0h2m12 0h2m-358 17.5h2m18 0h2m44 0h2m70 0h2m2 0h2m6 0h2m16 0h2m10 0h2m44 0h2m16 0h2m8 0h2m6 0h2m8 0h2m10 0h2m20 0h2m24 0h2m16 0h2m-332 17.5h2m4 0h2m22 0h2m18 0h2m6 0h2m14 0h2m6 0h2m6 0h2m34 0h2m90 0h2m6 0h2m32 0h2m10 0h2m8 0h2m14 0h2m16 0h2m14 0h4m4 0h2m-360 17.5h2m8 0h2m2 0h2m4 0h4m16 0h2m8 0h2m18 0h2m10 0h2m4 0h2m2 0h2m4 0h4m56 0h2m12 0h2m36 0h2m20 0h2m22 0h2m12 0h2m10 0h2m6 0h2m-304 17.5h2m12 0h2m2 0h2m44 0h2m16 0h2m2 0h2m30 0h6m16 0h4m8 0h2m44 0h2m8 0h2m66 0h2m-274 17.5h2m374 17.5h2m16 0h2m2 0h2" stroke="#bac9e1" stroke-width="17.8" fill="none"/><path d="M297.3 770h2m128 0h2m22 0h2m-338 17.5h4m6 0h4m4 0h2m10 0h4m14 0h4m6 0h4m10 0h2m12 0h2m4 0h2m16 0h2m20 0h2m24 0h2m20 0h2m6 0h2m2 0h2m8 0h2m2 0h2m2 0h2m18 0h2m30 0h2m4 0h2m12 0h4m2 0h2m16 0h2m2 0h2m2 0h2m12 0h2m2 0h2m4 0h2m6 0h2m-366 17.5h2m4 0h2m20 0h2m4 0h2m2 0h2m8 0h2m12 0h2m10 0h4m32 0h2m4 0h2m12 0h2m8 0h2m4 0h8m16 0h2m28 0h2m6 0h2m2 0h2m16 0h2m12 0h2m6 0h2m8 0h2m16 0h2m4 0h2m14 0h2m2 0h2m12 0h4m8 0h2m6 0h2m38 0h2m2 0h2m4 0h2m2 0h2m4 0h2m-370 17.5h2m4 0h2m2 0h2m12 0h2m18 0h2m12 0h2m2 0h4m2 0h2m2 0h2m16 0h4m6 0h4m6 0h2m8 0h2m36 0h2m4 0h2m10 0h4m2 0h4m2 0h2m8 0h2m46 0h2m6 0h2m6 0h2m26 0h2m38 0h2m28 0h2m-390 17.5h2m12 0h2m6 0h2m12 0h2m6 0h2m4 0h2m8 0h2m4 0h2m12 0h4m6 0h2m28 0h2m56 0h2m16 0h4m2 0h2m32 0h2m16 0h4m16 0h6m10 0h2m24 0h2m2 0h2m28 0h4m10 0h2m-370 17.5h2m2 0h2m10 0h2m28 0h2m6 0h2m10 0h2m4 0h4m4 0h2m6 0h2m42 0h4m2 0h4m2 0h4m2 0h2m2 0h6m2 0h2m4 0h2m6 0h2m16 0h4m2 0h2m14 0h2m6 0h2m20 0h2m2 0h2m2 0h4m2 0h4m2 0h2m4 0h2m8 0h2m4 0h2m6 0h2m8 0h2m8 0h4m2 0h4m14 0h2m16 0h2m2 0h2m8 0h2m2 0h2m4 0h2m4 0h2m8 0h6m-404 17.5h6m4 0h4m6 0h2m4 0h4m8 0h2m2 0h2m10 0h2m12 0h2m4 0h2m8 0h2m6 0h2m2 0h2m22 0h2m4 0h2m6 0h2m24 0h4m16 0h2m2 0h2m2 0h4m26 0h2m6 0h2m10 0h2m8 0h2m2 0h2m28 0h2m4 0h2m4 0h2m6 0h2m6 0h2m10 0h2m10 0h4m4 0h2m10 0h4m12 0h2m10 0h12m6 0h2m2 0h2m-406 17.5h6m4 0h2m12 0h2m6 0h2m6 0h2m4 0h2m2 0h12m2 0h4m2 0h2m6 0h2m4 0h8m2 0h2m2 0h2m8 0h2m4 0h6m2 0h2m2 0h2m6 0h4m8 0h10m2 0h2m6 0h4m8 0h2m2 0h2m6 0h2m2 0h2m2 0h6m4 0h2m10 0h2m4 0h2m2 0h2m4 0h2m14 0h4m2 0h2m4 0h4m26 0h2m2 0h6m6 0h6m4 0h4m8 0h2m6 0h8m4 0h2m18 0h14m4 0h2m4 0h2m2 0h4m-402 17.5h2m4 0h2m8 0h2m8 0h2m2 0h4m2 0h2m2 0h4m2 0h2m4 0h2m2 0h4m2 0h2m10 0h2m2 0h14m4 0h2m2 0h2m10 0h2m4 0h2m2 0h2m12 0h2m4 0h4m4 0h2m8 0h2m4 0h2m2 0h2m2 0h4m6 0h8m2 0h4m6 0h2m2 0h4m6 0h2m6 0h2m2 0h2m4 0h4m20 0h2m2 0h4m6 0h6m2 0h2m4 0h2m6 0h2m4 0h10m2 0h4m2 0h2m4 0h2m6 0h4m12 0h4m4 0h4m10 0h2m4 0h2m2 0h4m6 0h4m4 0h4m-396 17.5h2m26 0h4m6 0h2m6 0h4m8 0h2m14 0h2m46 0h2m2 0h2m2 0h4m90 0h2m8 0h2m4 0h2m14 0h2m26 0h2m18 0h2m6 0h2m18 0h2m4 0h2m20 0h2m-366 17.5h2m24 0h2m50 0h2m26 0h2m14 0h2m6 0h2m6 0h2m26 0h2m40 0h4m56 0h2m14 0h2m62 0h2m14 0h2m-366 17.5h2m86 0h2m6 0h2m24 0h2m22 0h4m10 0h2m24 0h2m22 0h4m40 0h2m8 0h2m12 0h2m4 0h2m34 0h2m4 0h2m4 0h2m14 0h2m-348 17.5h2m40 0h2m34 0h4m30 0h2m36 0h2m52 0h2m112 0h2m2 0h2m8 0h2m-306 17.5h2m6 0h2m10 0h2m24 0h2m12 0h2m18 0h2m16 0h2m22 0h2m22 0h2m6 0h2m8 0h2m20 0h2m6 0h2m14 0h2m60 0h2m20 0h2m-312 17.5h2m24 0h2m16 0h4m10 0h2m48 0h2m4 0h2m8 0h2m28 0h2m34 0h2m6 0h2m8 0h2m42 0h2m24 0h2m28 0h2m50 0h2m4 0h2m-380 17.5h2m2 0h2m2 0h4m2 0h2m6 0h2m28 0h4m2 0h2m4 0h4m2 0h4m4 0h2m4 0h4m8 0h2m2 0h2m6 0h2m2 0h4m2 0h2m2 0h2m2 0h2m2 0h10m2 0h2m10 0h2m2 0h4m4 0h8m12 0h2m4 0h4m2 0h2m6 0h2m4 0h4m2 0h2m2 0h2m2 0h6m10 0h2m2 0h2m2 0h10m6 0h2m10 0h10m2 0h2m2 0h2m2 0h2m2 0h2m10 0h2m4 0h2m4 0h4m10 0h10m2 0h2m6 0h2m-362 17.5h4m40 0h2m6 0h2m14 0h2m28 0h2m62 0h4m24 0h2m22 0h2m24 0h2m6 0h2m18 0h2m34 0h2m28 0h2m6 0h2m18 0h2m-368 17.5h2m2 0h6m26 0h2m10 0h2m18 0h2m8 0h2m10 0h4m10 0h2m10 0h2m18 0h2m8 0h2m4 0h2m8 0h2m2 0h4m30 0h2m2 0h4m20 0h2m28 0h2m2 0h4m2 0h2m4 0h2m10 0h2m6 0h2m22 0h2m2 0h2m2 0h4m8 0h2m8 0h2m12 0h4m2 17.5h2" stroke="#d1dbeb" stroke-width="17.8" fill="none"/><path d="M95.4 752.5H62.5V770H95.4M95.4 805H82.2V822.5H95.4M82.2 813.7H73.4V840H95.4M73.4 827.3H63.6V857.5H95.4M95.4 892.5H63.6V910H95.4M95.4 875H60.7V901.2H63.6M63.6 842.7H58.4V888H60.7M95.4 787.5H51.4V865.4H58.4M62.5 761.2H37.9V826.5H51.4M95.4 927.5H65.2V945H95.4M95.4 962.5H64.5V980H95.4M65.2 936.2H57.5V971.2H64.5M95.4 997.5H58.2V1015H95.4M57.5 953.7H53.7V1006.2H58.2M53.7 979.9H47.8V1032.5H95.4M95.4 1067.5H66.7V1085H95.4M95.4 1050H54.6V1076.2H66.7M47.8 1006.2H39.4V1063.1H54.6M37.9 793.9H32.9V1034.6H39.4" stroke="#222" stroke-width="1.2" fill="none"/><text class="sb" x="585.8" y="663.3" font-size="15">density</text><defs><linearGradient id="dleg" x1="0" y1="1" x2="0" y2="0"><stop offset="0" stop-color="#5e4fa2"/><stop offset="0.1" stop-color="#3c64af"/><stop offset="0.2" stop-color="#46a0af"/><stop offset="0.3" stop-color="#96d2a5"/><stop offset="0.4" stop-color="#e1f3a0"/><stop offset="0.5" stop-color="#fef5af"/><stop offset="0.6" stop-color="#fdbe6e"/><stop offset="0.7" stop-color="#f06e46"/><stop offset="0.8" stop-color="#c82846"/><stop offset="1.0" stop-color="#6e0832"/></linearGradient><linearGradient id="eleg" x1="0" y1="1" x2="0" y2="0"><stop offset="0" stop-color="#486eb0"/><stop offset="0.25" stop-color="#a4b6d8"/><stop offset="0.5" stop-color="#ffffff"/><stop offset="0.75" stop-color="#e2ce96"/><stop offset="1" stop-color="#c49c2c"/></linearGradient></defs><rect x="585.3" y="671.9" width="17.7" height="113.4" fill="url(#dleg)"/><path d="M585.3 781.4L588.5 781.4" stroke="#fff" stroke-width="1" fill="none"/><path d="M599.8 781.4L603 781.4" stroke="#fff" stroke-width="1" fill="none"/><text class="s" x="607" y="786.5" font-size="14.4">0</text><path d="M585.3 760.3L588.5 760.3" stroke="#fff" stroke-width="1" fill="none"/><path d="M599.8 760.3L603 760.3" stroke="#fff" stroke-width="1" fill="none"/><text class="s" x="607" y="765.4" font-size="14.4">0.2</text><path d="M585.3 739.2L588.5 739.2" stroke="#fff" stroke-width="1" fill="none"/><path d="M599.8 739.2L603 739.2" stroke="#fff" stroke-width="1" fill="none"/><text class="s" x="607" y="744.3" font-size="14.4">0.4</text><path d="M585.3 718.1L588.5 718.1" stroke="#fff" stroke-width="1" fill="none"/><path d="M599.8 718.1L603 718.1" stroke="#fff" stroke-width="1" fill="none"/><text class="s" x="607" y="723.2" font-size="14.4">0.6</text><path d="M585.3 697L588.5 697" stroke="#fff" stroke-width="1" fill="none"/><path d="M599.8 697L603 697" stroke="#fff" stroke-width="1" fill="none"/><text class="s" x="607" y="702.1" font-size="14.4">0.8</text><path d="M585.3 675.9L588.5 675.9" stroke="#fff" stroke-width="1" fill="none"/><path d="M599.8 675.9L603 675.9" stroke="#fff" stroke-width="1" fill="none"/><text class="s" x="607" y="681" font-size="14.4">1</text><text class="sb" x="585.8" y="813.4" font-size="15">Group</text><rect x="586.4" y="823" width="16.2" height="16.3" fill="#c49b2d"/><rect x="586.4" y="839.3" width="16.2" height="17.7" fill="#4a6caf"/><text class="s" x="607.3" y="836.5" font-size="14.5">GC</text><text class="s" x="607.3" y="854" font-size="14.5">Normal</text><text class="sb" x="585.8" y="885.6" font-size="15">expression</text><rect x="586" y="894.9" width="17" height="92.6" fill="url(#eleg)"/><path d="M586 984.5L589 984.5" stroke="#fff" stroke-width="1" fill="none"/><path d="M600 984.5L603 984.5" stroke="#fff" stroke-width="1" fill="none"/><text class="s" x="607" y="989.6" font-size="14.4">−2</text><path d="M586 962.9L589 962.9" stroke="#fff" stroke-width="1" fill="none"/><path d="M600 962.9L603 962.9" stroke="#fff" stroke-width="1" fill="none"/><text class="s" x="607" y="968" font-size="14.4">−1</text><path d="M586 941.3L589 941.3" stroke="#fff" stroke-width="1" fill="none"/><path d="M600 941.3L603 941.3" stroke="#fff" stroke-width="1" fill="none"/><text class="s" x="607" y="946.4" font-size="14.4">0</text><path d="M586 919.7L589 919.7" stroke="#fff" stroke-width="1" fill="none"/><path d="M600 919.7L603 919.7" stroke="#fff" stroke-width="1" fill="none"/><text class="s" x="607" y="924.8" font-size="14.4">1</text><path d="M586 898.1L589 898.1" stroke="#fff" stroke-width="1" fill="none"/><path d="M600 898.1L603 898.1" stroke="#fff" stroke-width="1" fill="none"/><text class="s" x="607" y="903.2" font-size="14.4">2</text>
<text class="s" x="2" y="1169.5" font-size="26">C</text><text class="sb" x="164.7" y="1154.8" font-size="17" text-anchor="middle">PLRGs_genes</text><path d="M122.8 1180C123 1185.1 123.5 1198.9 124 1210.6C124.5 1222.3 125 1238.8 125.5 1250C126 1261.2 126.1 1270.5 126.9 1278C127.7 1285.5 128.6 1289.5 130.5 1295C132.4 1300.5 135.5 1304.1 138.5 1311C141.5 1317.9 145.8 1325.4 148.3 1336.3C150.8 1347.2 152.7 1366.8 153.3 1376.2C153.9 1385.6 152.8 1385.7 152 1392.6C151.2 1399.5 149.9 1410.3 148.2 1417.7C146.5 1425.1 144.1 1430.7 142 1437C139.9 1443.3 137.4 1449.2 135.5 1455.4C133.6 1461.6 131.9 1465.9 130.5 1474.3C129.1 1482.7 127.7 1496.3 126.8 1505.7C125.9 1515.1 125.5 1523.5 125 1530.9C124.5 1538.3 124.1 1544.7 123.7 1550C123.3 1555.3 123 1560.5 122.8 1562.6L122.2 1562.6C122 1560.5 121.7 1555.3 121.3 1550C120.9 1544.7 120.5 1538.3 120 1530.9C119.5 1523.5 119.1 1515.1 118.2 1505.7C117.3 1496.3 116 1482.7 114.5 1474.3C113 1465.9 111.4 1461.6 109.5 1455.4C107.6 1449.2 105.1 1443.3 103 1437C100.9 1430.7 98.5 1425.1 96.8 1417.7C95.1 1410.3 93.8 1399.5 93 1392.6C92.2 1385.7 91.1 1385.6 91.7 1376.2C92.3 1366.8 94.2 1347.2 96.7 1336.3C99.2 1325.4 103.5 1317.9 106.5 1311C109.5 1304.1 112.6 1300.5 114.5 1295C116.4 1289.5 117.3 1285.5 118.1 1278C118.9 1270.5 119 1261.2 119.5 1250C120 1238.8 120.5 1222.3 121 1210.6C121.5 1198.9 122 1185.1 122.2 1180Z" stroke="#222" stroke-width="1.1" fill="#6482c8"/><path d="M219.5 1356.4C220.5 1357.7 223.1 1360.9 225.7 1364C228.3 1367.1 232.3 1370.2 235.2 1375C238.1 1379.8 242.4 1387.6 243 1392.6C243.6 1397.6 240.5 1400.8 238.7 1405C236.9 1409.2 233.2 1410.5 232.2 1417.7C231.1 1424.9 232.1 1437.4 232.4 1447.9C232.7 1458.4 234.4 1473.1 234.1 1480.6C233.8 1488.1 231.9 1489.8 230.7 1493C229.5 1496.2 227.5 1497.6 226.7 1500C225.9 1502.4 225.9 1506.2 225.7 1507.5L185.7 1507.5C185.5 1506.2 185.5 1502.4 184.7 1500C183.9 1497.6 181.9 1496.2 180.7 1493C179.5 1489.8 177.6 1488.1 177.3 1480.6C177 1473.1 178.7 1458.4 179 1447.9C179.3 1437.4 180.2 1424.9 179.2 1417.7C178.1 1410.5 174.5 1409.2 172.7 1405C170.9 1400.8 167.8 1397.6 168.4 1392.6C169 1387.6 173.3 1379.8 176.2 1375C179.1 1370.2 183.1 1367.1 185.7 1364C188.3 1360.9 190.9 1357.7 191.9 1356.4Z" stroke="#222" stroke-width="1.1" fill="#d2533a"/><path d="M122.5 1223.2L122.5 1340.6" stroke="#111" stroke-width="1.1" fill="none"/><path d="M122.5 1420.2L122.5 1535.1" stroke="#111" stroke-width="1.1" fill="none"/><path d="M118 1223.2L127 1223.2" stroke="#111" stroke-width="1.3" fill="none"/><path d="M118 1535.1L127 1535.1" stroke="#111" stroke-width="1.3" fill="none"/><rect x="114.3" y="1340.6" width="16.3" height="79.6" fill="none" stroke="#222" stroke-width="1.1"/><path d="M114.3 1380.8L130.7 1380.8" stroke="#111" stroke-width="2.2" fill="none"/><path d="M205.7 1356.4L205.7 1392" stroke="#111" stroke-width="1.1" fill="none"/><path d="M205.7 1480.6L205.7 1507.5" stroke="#111" stroke-width="1.1" fill="none"/><path d="M205.7 1356.4L205.7 1356.4" stroke="#111" stroke-width="1.3" fill="none"/><path d="M205.7 1507.5L205.7 1507.5" stroke="#111" stroke-width="1.3" fill="none"/><rect x="197.3" y="1392" width="16.8" height="88.6" fill="none" stroke="#222" stroke-width="1.1"/><path d="M197.3 1435.8L214.1 1435.8" stroke="#111" stroke-width="2.2" fill="none"/><path d="M122.5 1226L122.5 1548" stroke="#000" stroke-width="2.8" fill="none"/><path d="M122.1 1407.8h0M122.3 1427.7h0M122.7 1247.9h0M121.7 1505.7h0M122.1 1304.3h0M123.3 1383.1h0M123 1385.1h0M122.7 1276.3h0M122.7 1515.9h0M122.5 1473.6h0M122.8 1247.4h0M122.9 1423.4h0M122.2 1236.4h0M123.1 1383.9h0M122.9 1519.5h0M122.8 1533.6h0M122.3 1493.5h0M122.4 1538.5h0M123.1 1258.5h0M121.9 1298.5h0M123.2 1371.7h0M122.7 1326.5h0M122.5 1354.9h0M122.3 1421.4h0M122.6 1528h0M122.8 1536.3h0M123.1 1557h0M122.8 1280.5h0M123.1 1548.2h0M123.1 1416.1h0M122.8 1296.5h0M123 1417.6h0M122.2 1247.2h0M123.1 1556.6h0M121.8 1493.4h0M122.4 1276.4h0M122.2 1482.8h0M123.1 1240.8h0M122.7 1241h0M122.8 1336.5h0M123.1 1553.5h0M122.5 1559.5h0M122.2 1251.7h0M122.7 1236.5h0M122 1362.3h0M122.7 1278.2h0M121.8 1515.8h0M122.2 1546.2h0M123.1 1352.2h0M122.4 1399.7h0M122.7 1424.9h0M122.6 1433.1h0M123.2 1395.3h0M122.4 1466.6h0M122.1 1326.6h0M123.3 1400.1h0M122.6 1229.8h0M122.4 1419.7h0M121.7 1431.7h0M122.7 1246.1h0M205.7 1356.4h0M205.7 1365h0M205.7 1372h0M205.7 1378h0M205.7 1384h0M205.7 1388h0M205.7 1395h0M205.7 1400h0M205.7 1405h0M205.7 1411h0M205.7 1414h0M205.7 1418h0M205.7 1421h0M205.7 1427h0M205.7 1440h0M205.7 1447h0M205.7 1452h0M205.7 1460h0M205.7 1476h0M205.7 1482h0M205.7 1486h0M205.7 1492h0M205.7 1497h0M205.7 1503h0M205.7 1507h0" stroke="#000" stroke-width="2.6" fill="none" stroke-linecap="round"/><rect x="73.2" y="1164.3" width="182.5" height="416.9" fill="none" stroke="#222" stroke-width="1.3"/><text class="a" x="160" y="1183.5" font-size="12.6" text-anchor="middle">Wilcoxon, p = 3.6e−06</text><path d="M69.2 1572.4L73.2 1572.4" stroke="#333" stroke-width="1.1" fill="none"/><text class="sb" x="67.7" y="1577.4" font-size="14.3" text-anchor="end">1.0</text><path d="M69.2 1474.3L73.2 1474.3" stroke="#333" stroke-width="1.1" fill="none"/><text class="sb" x="67.7" y="1479.3" font-size="14.3" text-anchor="end">1.2</text><path d="M69.2 1376.2L73.2 1376.2" stroke="#333" stroke-width="1.1" fill="none"/><text class="sb" x="67.7" y="1381.2" font-size="14.3" text-anchor="end">1.4</text><path d="M69.2 1278.1L73.2 1278.1" stroke="#333" stroke-width="1.1" fill="none"/><text class="sb" x="67.7" y="1283.1" font-size="14.3" text-anchor="end">1.6</text><path d="M69.2 1180L73.2 1180" stroke="#333" stroke-width="1.1" fill="none"/><text class="sb" x="67.7" y="1185" font-size="14.3" text-anchor="end">1.8</text><path d="M122.5 1581.2L122.5 1585.2" stroke="#333" stroke-width="1.1" fill="none"/><text class="sb" x="122.5" y="1596.7" font-size="14" text-anchor="middle">GC</text><path d="M205.7 1581.2L205.7 1585.2" stroke="#333" stroke-width="1.1" fill="none"/><text class="sb" x="205.7" y="1596.7" font-size="14" text-anchor="middle">Normal</text><text class="sb" x="0" y="0" font-size="17" text-anchor="middle" transform="translate(42.5 1372.8) rotate(-90)">GSVA Score</text><text class="ab" x="275.8" y="1354.4" font-size="12">Type</text><rect x="275.8" y="1362.7" width="17.6" height="18.3" fill="#6482c8" stroke="#333" stroke-width="1"/><rect x="275.8" y="1381" width="17.6" height="20.2" fill="#d2533a" stroke="#333" stroke-width="1"/><path d="M284.6 1371.8h0M284.6 1391.1h0" stroke="#000" stroke-width="2.6" fill="none" stroke-linecap="round"/><text class="ab" x="300.5" y="1375.8" font-size="10.4">GC</text><text class="ab" x="300.5" y="1395.8" font-size="10.4">Normal</text><text class="sb" x="488.4" y="1154.8" font-size="17" text-anchor="middle">MPRGs_genes</text><path d="M447.2 1181.7C447.3 1184.8 447.5 1192.3 447.9 1200C448.3 1207.7 448.4 1218 449.4 1228C450.4 1238 452.4 1249.6 453.9 1260C455.4 1270.4 456.2 1279 458.4 1290.5C460.6 1302 464.8 1318 466.9 1328.8C469 1339.5 470 1346.6 470.9 1355C471.8 1363.4 472.6 1371 472.3 1379.3C472 1387.6 470.3 1396.5 468.9 1405C467.5 1413.5 465.6 1419.5 463.9 1430C462.2 1440.5 460.1 1458 458.5 1468C456.9 1478 455.5 1483.7 454.4 1490C453.3 1496.3 452.7 1499 451.9 1505.7C451.1 1512.4 450.2 1520.5 449.4 1530C448.6 1539.5 447.6 1557.5 447.3 1563L446.5 1563C446.1 1557.5 445.2 1539.5 444.4 1530C443.6 1520.5 442.7 1512.4 441.9 1505.7C441.1 1499 440.5 1496.3 439.4 1490C438.3 1483.7 436.9 1478 435.3 1468C433.7 1458 431.6 1440.5 429.9 1430C428.2 1419.5 426.3 1413.5 424.9 1405C423.5 1396.5 421.8 1387.6 421.5 1379.3C421.2 1371 422 1363.4 422.9 1355C423.8 1346.6 424.8 1339.5 426.9 1328.8C429 1318 433.2 1302 435.4 1290.5C437.6 1279 438.4 1270.4 439.9 1260C441.4 1249.6 443.4 1238 444.4 1228C445.4 1218 445.5 1207.7 445.9 1200C446.3 1192.3 446.5 1184.8 446.6 1181.7Z" stroke="#222" stroke-width="1.1" fill="#6482c8"/><path d="M533.3 1199.3C533.3 1201.4 533.3 1207.7 533.6 1212C533.8 1216.3 533.9 1220.7 534.8 1225C535.7 1229.3 537.3 1233.7 538.8 1238C540.3 1242.3 542 1246.3 543.8 1250.8C545.6 1255.3 547.8 1260.1 549.8 1265C551.8 1269.9 553.9 1275.5 555.8 1280C557.7 1284.5 559.7 1288.3 561.3 1292C562.9 1295.7 564.3 1299 565.3 1302C566.3 1305 566.9 1307.3 567.1 1310C567.3 1312.7 567 1315 566.3 1318C565.6 1321 564.3 1324.3 562.8 1328C561.3 1331.7 559.4 1335.5 557.3 1340C555.2 1344.5 552.2 1350.3 550.3 1355C548.4 1359.7 547.1 1364 545.8 1368C544.5 1372 543.5 1375.2 542.3 1379.3C541.1 1383.4 539.4 1388.3 538.8 1392.6C538.2 1396.9 538.6 1400.4 538.8 1405C539 1409.6 540 1415 539.8 1420C539.6 1425 538.6 1430 537.8 1435C537 1440 535.5 1445.5 534.8 1450C534.1 1454.5 533.8 1458.2 533.6 1462C533.3 1465.8 533.3 1470.8 533.3 1472.5L526.3 1472.5C526.2 1470.8 526.2 1465.8 526 1462C525.8 1458.2 525.5 1454.5 524.8 1450C524.1 1445.5 522.6 1440 521.8 1435C521 1430 520 1425 519.8 1420C519.6 1415 520.6 1409.6 520.8 1405C521 1400.4 521.4 1396.9 520.8 1392.6C520.2 1388.3 518.5 1383.4 517.3 1379.3C516.1 1375.2 515.1 1372 513.8 1368C512.5 1364 511.2 1359.7 509.3 1355C507.4 1350.3 504.4 1344.5 502.3 1340C500.2 1335.5 498.3 1331.7 496.8 1328C495.3 1324.3 494 1321 493.3 1318C492.6 1315 492.3 1312.7 492.5 1310C492.7 1307.3 493.3 1305 494.3 1302C495.3 1299 496.7 1295.7 498.3 1292C499.9 1288.3 501.9 1284.5 503.8 1280C505.7 1275.5 507.8 1269.9 509.8 1265C511.8 1260.1 514 1255.3 515.8 1250.8C517.6 1246.3 519.3 1242.3 520.8 1238C522.3 1233.7 523.9 1229.3 524.8 1225C525.7 1220.7 525.8 1216.3 526 1212C526.2 1207.7 526.2 1201.4 526.3 1199.3Z" stroke="#222" stroke-width="1.1" fill="#d2533a"/><path d="M446.9 1217.4L446.9 1330" stroke="#111" stroke-width="1.1" fill="none"/><path d="M446.9 1423.2L446.9 1563" stroke="#111" stroke-width="1.1" fill="none"/><path d="M442.4 1217.4L451.4 1217.4" stroke="#111" stroke-width="1.3" fill="none"/><path d="M442.4 1563L451.4 1563" stroke="#111" stroke-width="1.3" fill="none"/><rect x="438.3" y="1330" width="17.2" height="93.2" fill="none" stroke="#222" stroke-width="1.1"/><path d="M438.3 1374.8L455.5 1374.8" stroke="#111" stroke-width="2.2" fill="none"/><path d="M529.8 1251.6L529.8 1294.3" stroke="#111" stroke-width="1.1" fill="none"/><path d="M529.8 1345.1L529.8 1420.2" stroke="#111" stroke-width="1.1" fill="none"/><path d="M525.3 1251.6L534.3 1251.6" stroke="#111" stroke-width="1.3" fill="none"/><path d="M525.3 1420.2L534.3 1420.2" stroke="#111" stroke-width="1.3" fill="none"/><rect x="521.2" y="1294.3" width="17.1" height="50.8" fill="none" stroke="#222" stroke-width="1.1"/><path d="M521.2 1315.7L538.3 1315.7" stroke="#111" stroke-width="2.2" fill="none"/><path d="M446.9 1220L446.9 1556" stroke="#000" stroke-width="2.8" fill="none"/><path d="M447.1 1378.5h0M447.2 1339.9h0M447.2 1470.9h0M446.1 1240.6h0M447.2 1547.5h0M446.5 1375.1h0M447 1328.8h0M446.7 1326.3h0M446.7 1422.5h0M446.6 1348.2h0M447.3 1229.2h0M447 1470h0M446.6 1295.7h0M447.4 1301.2h0M446.4 1368h0M447.2 1254.6h0M446.6 1333.5h0M447.4 1369.1h0M447.5 1277.6h0M446.6 1441.1h0M447.5 1373.4h0M446.5 1261.1h0M446.9 1284.9h0M447.4 1505.1h0M446.4 1314.7h0M447.4 1438.3h0M447.4 1337.4h0M446.3 1319.3h0M447.4 1312.2h0M446.7 1361.7h0M446.8 1359.2h0M447.6 1273h0M446.1 1540.7h0M447.5 1555.6h0M446.8 1543.1h0M447.6 1295.5h0M447.3 1504.5h0M447.2 1396.5h0M446.6 1336h0M446.5 1243.1h0M447 1317.6h0M447.4 1235.3h0M447.5 1455.9h0M447.6 1524.8h0M447.5 1416.2h0M446.1 1473.4h0M446.4 1322h0M447.2 1398.5h0M446.8 1539.3h0M447.1 1336.1h0M446.5 1513h0M446.9 1486h0M446.7 1287.1h0M447 1497.7h0M446.4 1489.2h0M447.6 1494.1h0M447.4 1222.6h0M447.1 1513.3h0M446.2 1312.3h0M446.5 1399.3h0M529.8 1200h0M529.8 1252h0M529.8 1262h0M529.8 1272h0M529.8 1280h0M529.8 1288h0M529.8 1292h0M529.8 1296h0M529.8 1300h0M529.8 1304h0M529.8 1308h0M529.8 1312h0M529.8 1316h0M529.8 1319h0M529.8 1322h0M529.8 1326h0M529.8 1330h0M529.8 1335h0M529.8 1340h0M529.8 1345h0M529.8 1350h0M529.8 1355h0M529.8 1362h0M529.8 1372h0M529.8 1390h0M529.8 1400h0M529.8 1405h0M529.8 1410h0M529.8 1420h0M529.8 1472h0" stroke="#000" stroke-width="2.6" fill="none" stroke-linecap="round"/><rect x="397.1" y="1164.3" width="182.5" height="416.9" fill="none" stroke="#222" stroke-width="1.3"/><text class="a" x="483.8" y="1183.5" font-size="12.6" text-anchor="middle">Wilcoxon, p = 2.5e−05</text><path d="M393.1 1556.7L397.1 1556.7" stroke="#333" stroke-width="1.1" fill="none"/><text class="sb" x="391.6" y="1561.7" font-size="14.3" text-anchor="end">0.8</text><path d="M393.1 1468L397.1 1468" stroke="#333" stroke-width="1.1" fill="none"/><text class="sb" x="391.6" y="1473" font-size="14.3" text-anchor="end">0.9</text><path d="M393.1 1379.3L397.1 1379.3" stroke="#333" stroke-width="1.1" fill="none"/><text class="sb" x="391.6" y="1384.3" font-size="14.3" text-anchor="end">1.0</text><path d="M393.1 1290.6L397.1 1290.6" stroke="#333" stroke-width="1.1" fill="none"/><text class="sb" x="391.6" y="1295.6" font-size="14.3" text-anchor="end">1.1</text><path d="M393.1 1201.9L397.1 1201.9" stroke="#333" stroke-width="1.1" fill="none"/><text class="sb" x="391.6" y="1206.9" font-size="14.3" text-anchor="end">1.2</text><path d="M446.9 1581.2L446.9 1585.2" stroke="#333" stroke-width="1.1" fill="none"/><text class="sb" x="446.9" y="1596.7" font-size="14" text-anchor="middle">GC</text><path d="M529.8 1581.2L529.8 1585.2" stroke="#333" stroke-width="1.1" fill="none"/><text class="sb" x="529.8" y="1596.7" font-size="14" text-anchor="middle">Normal</text><text class="sb" x="0" y="0" font-size="17" text-anchor="middle" transform="translate(366.5 1372.8) rotate(-90)">GSVA Score</text><text class="ab" x="599.7" y="1354.4" font-size="12">Type</text><rect x="599.7" y="1362.7" width="17.6" height="18.3" fill="#6482c8" stroke="#333" stroke-width="1"/><rect x="599.7" y="1381" width="17.6" height="20.2" fill="#d2533a" stroke="#333" stroke-width="1"/><path d="M608.5 1371.8h0M608.5 1391.1h0" stroke="#000" stroke-width="2.6" fill="none" stroke-linecap="round"/><text class="ab" x="624.4" y="1375.8" font-size="10.4">GC</text><text class="ab" x="624.4" y="1395.8" font-size="10.4">Normal</text>
<text class="s" x="3" y="1646" font-size="26">D</text><text class="sb" x="370.5" y="1640.5" font-size="20.8" text-anchor="middle">Sample Clustering</text><path d="M100.7 1888.3v25M102 1888.3v25M104.7 1909v25M106.1 1909v25M103.4 1868.9v25M99.3 1842.4v25M107.4 1906.5v25M108.7 1906.5v25M111.4 1889.2v25M112.8 1889.2v25M110.1 1867.7v25M114.1 1846.2v25M118.2 1904v25M119.5 1904v25M116.8 1895.7v25M120.8 1874.6v25M123.5 1914.5v25M124.9 1914.5v25M122.2 1876.1v25M126.2 1905v25M127.6 1905v25M128.9 1906.4v25M130.2 1906.4v25M131.6 1898.3v25M132.9 1898.3v25M134.3 1863.2v25M137 1899.9v25M138.3 1899.9v25M135.6 1878.4v25M139.7 1906.5v25M141 1906.5v25M142.3 1883.7v25M143.7 1901.1v25M145 1901.1v25M147.7 1908.9v25M149.1 1908.9v25M146.4 1870.9v25M150.4 1867.8v25M115.5 1812.8v25M151.7 1914v25M153.1 1914v25M154.4 1908.6v25M155.8 1908.6v25M157.1 1890.5v25M158.5 1904.2v25M159.8 1904.2v25M161.1 1895.9v25M162.5 1895.9v25M163.8 1906.9v25M165.2 1906.9v25M167.9 1893.6v25M169.2 1893.6v25M166.5 1885.4v25M171.9 1904v25M173.2 1904v25M170.6 1878.4v25M174.6 1859.2v25M175.9 1909.6v25M177.3 1909.6v25M178.6 1896.6v25M180 1896.6v25M181.3 1839.3v25M182.6 1895.3v25M184 1895.3v25M185.3 1806.9v25M98 1736.6v25M186.7 1906.5v25M188 1906.5v25M189.4 1889.2v25M190.7 1926v25M192.1 1926v25M196.1 1923v25M197.4 1923v25M194.7 1883.8v25M198.8 1880.7v25M193.4 1873.8v25M200.1 1915.1v25M201.5 1915.1v25M202.8 1914.5v25M204.1 1914.5v25M205.5 1891.6v25M206.8 1880.9v25M208.2 1852.4v25M210.9 1916.7v25M212.2 1916.7v25M213.5 1925.3v25M214.9 1925.3v25M216.2 1840.3v25M209.5 1826.9v25M220.3 1925.2v25M221.6 1925.2v25M223 1873.5v25M218.9 1849v25M217.6 1843.6v25M224.3 1835v25M225.6 1818.9v25M227 1910.9v25M228.3 1910.9v25M229.7 1904.9v25M231 1904.9v25M232.4 1875.3v25M233.7 1907.1v25M235 1907.1v25M236.4 1877.8v25M237.7 1873.8v25M239.1 1865.7v25M240.4 1922.4v25M241.8 1922.4v25M243.1 1879v25M244.5 1928.4v25M245.8 1928.4v25M247.1 1879.2v25M248.5 1871.5v25M252.5 1872.7v25M253.9 1872.7v25M251.2 1849.2v25M255.2 1839.6v25M256.5 1834.1v25M249.8 1832v25M260.6 1877.2v25M261.9 1877.2v25M259.2 1852v25M263.3 1850v25M257.9 1841.1v25M264.6 1873.5v25M265.9 1873.5v25M267.3 1830.1v25M270 1857.2v25M271.3 1857.2v25M272.7 1876.2v25M274 1876.2v25M268.6 1832.8v25M275.4 1864.8v25M276.7 1864.8v25M278 1850.5v25M280.7 1871.5v25M282.1 1871.5v25M283.4 1843.2v25M279.4 1836.4v25M287.4 1874.1v25M288.8 1874.1v25M290.1 1860.7v25M294.2 1867.2v25M295.5 1867.2v25M292.8 1864.4v25M291.5 1856.8v25M296.9 1838.6v25M286.1 1835.8v25M284.8 1830.2v25M298.2 1873.6v25M299.5 1873.6v25M300.9 1868.4v25M304.9 1860v25M306.3 1860v25M303.6 1857.9v25M302.2 1856.2v25M307.6 1845.1v25M308.9 1861v25M310.3 1861v25M313 1878.1v25M314.3 1878.1v25M315.7 1870.9v25M311.6 1863.1v25M317 1867.6v25M318.3 1867.6v25M319.7 1874.1v25M321 1874.1v25M322.4 1861.9v25M323.7 1861.9v25M325.1 1871.8v25M326.4 1871.8v25M327.8 1878v25M329.1 1878v25M330.4 1839.9v25M333.1 1863.5v25M334.5 1863.5v25M335.8 1854.9v25M337.2 1852.4v25M338.5 1849.1v25M331.8 1847.2v25M342.5 1867.5v25M343.9 1867.5v25M345.2 1861.2v25M346.6 1854.3v25M341.2 1852.3v25M339.8 1850.4v25M347.9 1841.9v25M350.6 1870v25M351.9 1870v25M353.3 1865.8v25M354.6 1863.8v25M357.3 1869.9v25M358.7 1869.9v25M356 1867.7v25M360 1865.4v25M362.7 1866.7v25M364 1866.7v25M365.4 1879.9v25M366.7 1879.9v25M368.1 1879.4v25M369.4 1879.4v25M361.3 1858.3v25M370.8 1844.6v25M374.8 1869.8v25M376.1 1869.8v25M373.4 1862.6v25M377.5 1865.7v25M378.8 1865.7v25M372.1 1856.7v25M380.2 1853.9v25M381.5 1852v25M382.8 1881v25M384.2 1881v25M349.3 1829.7v25M386.9 1861.6v25M388.2 1861.6v25M385.5 1854.7v25M393.6 1859.1v25M394.9 1859.1v25M392.2 1854.8v25M396.3 1849.7v25M390.9 1846.8v25M397.6 1853.7v25M399 1853.7v25M400.3 1877.5v25M401.7 1877.5v25M403 1867.2v25M404.3 1867.2v25M405.7 1861.3v25M407 1861.3v25M408.4 1850v25M409.7 1863v25M411.1 1863v25M416.4 1879.1v25M417.8 1879.1v25M419.1 1881.1v25M420.5 1881.1v25M421.8 1871.8v25M423.2 1863.9v25M415.1 1859.7v25M413.7 1852.7v25M412.4 1847.4v25M389.6 1821.6v25M424.5 1814.8v25M428.5 1873.3v25M429.9 1873.3v25M427.2 1857.9v25M425.8 1848.7v25M432.6 1871.7v25M433.9 1871.7v25M436.6 1864.9v25M437.9 1864.9v25M439.3 1861.1v25M435.2 1853.6v25M440.6 1846.3v25M431.2 1832.3v25M446 1883.2v25M447.3 1883.2v25M448.7 1874.5v25M450 1866.6v25M444.6 1864.9v25M443.3 1859.8v25M451.4 1852.4v25M442 1850.4v25M452.7 1842v25M454.1 1835v25M455.4 1853.1v25M456.7 1853.1v25M458.1 1864.9v25M459.4 1864.9v25M460.8 1869.3v25M462.1 1869.3v25M463.5 1863.1v25M464.8 1863.1v25M466.1 1839.2v25M468.8 1861.1v25M470.2 1861.1v25M467.5 1849.5v25M471.5 1866.3v25M472.9 1866.3v25M474.2 1857.4v25M475.6 1850.1v25M476.9 1840.5v25M479.6 1870.3v25M480.9 1870.3v25M478.2 1855.1v25M482.3 1845.7v25M483.6 1858.9v25M485 1858.9v25M486.3 1789.8v25M489 1859.6v25M490.3 1859.6v25M487.6 1842v25M491.7 1834.9v25M497 1860v25M498.4 1860v25M495.7 1842.9v25M494.4 1838.6v25M499.7 1869.6v25M501.1 1869.6v25M493 1820.7v25M502.4 1818.9v25M505.1 1865v25M506.5 1865v25M503.8 1848.2v25M507.8 1861.4v25M509.1 1861.4v25M510.5 1868.1v25M511.8 1868.1v25M513.2 1830.2v25M514.5 1856.4v25M515.9 1856.4v25M517.2 1842.1v25M518.5 1857.6v25M519.9 1857.6v25M521.2 1816.1v25M522.6 1803.7v25M525.3 1852.7v25M526.6 1852.7v25M523.9 1848.1v25M528 1858.4v25M529.3 1858.4v25M530.6 1865.2v25M532 1865.2v25M534.7 1876.2v25M536 1876.2v25M533.3 1873.3v25M537.4 1869.5v25M538.7 1871.9v25M540 1871.9v25M541.4 1851.9v25M544.1 1863v25M545.4 1863v25M546.8 1867v25M548.1 1867v25M549.4 1863v25M550.8 1858.2v25M542.7 1852.9v25M552.1 1844v25M553.5 1825.6v25M554.8 1849v25M556.2 1849v25M557.5 1810.8v25M558.9 1860.9v25M560.2 1860.9v25M561.5 1864.2v25M562.9 1864.2v25M564.2 1848.4v25M565.6 1848.4v25M566.9 1841.8v25M568.3 1855.2v25M569.6 1855.2v25M572.3 1844.7v25M573.6 1844.7v25M570.9 1833.7v25M577.7 1862.6v25M579 1862.6v25M580.4 1867.6v25M581.7 1867.6v25M583 1839.2v25M584.4 1827.7v25M576.3 1821.1v25M587.1 1864.5v25M588.4 1864.5v25M589.8 1840.9v25M585.7 1823.8v25M591.1 1851.2v25M592.4 1851.2v25M593.8 1833.7v25M595.1 1864.7v25M596.5 1864.7v25M597.8 1833.3v25M599.2 1812.5v25M600.5 1806.7v25M575 1792.2v25M601.8 1863.6v25M603.2 1863.6v25M608.6 1853.8v25M609.9 1853.8v25M607.2 1848.4v25M611.3 1843.7v25M605.9 1838.5v25M612.6 1836.7v25M613.9 1831.2v25M615.3 1821.9v25M619.3 1866.1v25M620.7 1866.1v25M622 1849.5v25M623.3 1850.4v25M624.7 1850.4v25M626 1838v25M618 1829.4v25M616.6 1823v25M627.4 1818.7v25M604.5 1806.5v25M628.7 1869.7v25M630.1 1869.7v25M631.4 1853.5v25M632.8 1853.5v25M634.1 1835.8v25M635.4 1829.8v25M639.5 1870.2v25M640.8 1870.2v25M642.2 1844.9v25M638.1 1838v25M636.8 1829.6v25M643.5 1781.8v25" stroke="#8e8e8e" stroke-width="2.0" fill="none"/><path d="M100.7 1879.3V1888.3M102 1879.3V1888.3M100.7 1879.3V1879.3H102V1879.3M104.7 1900V1909M106.1 1900V1909M104.7 1900V1900H106.1V1900M103.4 1859.9V1868.9M103.4 1859.9V1859.9H105.4V1900M101.4 1879.3V1845.3H104.4V1859.9M99.3 1833.4V1842.4M99.3 1833.4V1833.4H102.9V1845.3M107.4 1897.5V1906.5M108.7 1897.5V1906.5M107.4 1897.5V1897.5H108.7V1897.5M111.4 1880.2V1889.2M112.8 1880.2V1889.2M111.4 1880.2V1880.2H112.8V1880.2M110.1 1858.7V1867.7M110.1 1858.7V1858.7H112.1V1880.2M108.1 1897.5V1843.2H111.1V1858.7M114.1 1837.2V1846.2M109.6 1843.2V1837.2H114.1V1837.2M101.1 1833.4V1808.3H111.9V1837.2M118.2 1895V1904M119.5 1895V1904M118.2 1895V1895H119.5V1895M116.8 1886.7V1895.7M116.8 1886.7V1886.7H118.8V1895M120.8 1865.6V1874.6M117.8 1886.7V1865.6H120.8V1865.6M123.5 1905.5V1914.5M124.9 1905.5V1914.5M123.5 1905.5V1905.5H124.9V1905.5M122.2 1867.1V1876.1M122.2 1867.1V1867.1H124.2V1905.5M119.3 1865.6V1840.7H123.2V1867.1M126.2 1896V1905M127.6 1896V1905M126.2 1896V1896H127.6V1896M128.9 1897.4V1906.4M130.2 1897.4V1906.4M128.9 1897.4V1897.4H130.2V1897.4M131.6 1889.3V1898.3M132.9 1889.3V1898.3M131.6 1889.3V1889.3H132.9V1889.3M129.6 1897.4V1869H132.3V1889.3M134.3 1854.2V1863.2M130.9 1869V1854.2H134.3V1854.2M137 1890.9V1899.9M138.3 1890.9V1899.9M137 1890.9V1890.9H138.3V1890.9M135.6 1869.4V1878.4M135.6 1869.4V1869.4H137.6V1890.9M132.6 1854.2V1846.7H136.6V1869.4M139.7 1897.5V1906.5M141 1897.5V1906.5M139.7 1897.5V1897.5H141V1897.5M142.3 1874.7V1883.7M140.3 1897.5V1874.7H142.3V1874.7M143.7 1892.1V1901.1M145 1892.1V1901.1M143.7 1892.1V1892.1H145V1892.1M141.3 1874.7V1858.1H144.4V1892.1M134.6 1846.7V1833.9H142.8V1858.1M147.7 1899.9V1908.9M149.1 1899.9V1908.9M147.7 1899.9V1899.9H149.1V1899.9M146.4 1861.9V1870.9M146.4 1861.9V1861.9H148.4V1899.9M150.4 1858.8V1867.8M147.4 1861.9V1858.8H150.4V1858.8M138.7 1833.9V1830.1H148.9V1858.8M126.9 1896V1821H143.8V1830.1M121.3 1840.7V1809H135.3V1821M115.5 1803.8V1812.8M115.5 1803.8V1803.8H128.3V1809M151.7 1905V1914M153.1 1905V1914M151.7 1905V1905H153.1V1905M154.4 1899.6V1908.6M155.8 1899.6V1908.6M154.4 1899.6V1899.6H155.8V1899.6M157.1 1881.5V1890.5M155.1 1899.6V1881.5H157.1V1881.5M158.5 1895.2V1904.2M159.8 1895.2V1904.2M158.5 1895.2V1895.2H159.8V1895.2M161.1 1886.9V1895.9M162.5 1886.9V1895.9M161.1 1886.9V1886.9H162.5V1886.9M159.1 1895.2V1861.2H161.8V1886.9M156.1 1881.5V1855.5H160.5V1861.2M152.4 1905V1851.1H158.3V1855.5M163.8 1897.9V1906.9M165.2 1897.9V1906.9M163.8 1897.9V1897.9H165.2V1897.9M167.9 1884.6V1893.6M169.2 1884.6V1893.6M167.9 1884.6V1884.6H169.2V1884.6M166.5 1876.4V1885.4M166.5 1876.4V1876.4H168.5V1884.6M171.9 1895V1904M173.2 1895V1904M171.9 1895V1895H173.2V1895M170.6 1869.4V1878.4M170.6 1869.4V1869.4H172.6V1895M167.5 1876.4V1859.5H171.6V1869.4M174.6 1850.2V1859.2M169.5 1859.5V1850.2H174.6V1850.2M175.9 1900.6V1909.6M177.3 1900.6V1909.6M175.9 1900.6V1900.6H177.3V1900.6M178.6 1887.6V1896.6M180 1887.6V1896.6M178.6 1887.6V1887.6H180V1887.6M176.6 1900.6V1860.2H179.3V1887.6M172.1 1850.2V1841.7H177.9V1860.2M164.5 1897.9V1838H175V1841.7M181.3 1830.3V1839.3M169.8 1838V1830.3H181.3V1830.3M182.6 1886.3V1895.3M184 1886.3V1895.3M182.6 1886.3V1886.3H184V1886.3M175.5 1830.3V1825.9H183.3V1886.3M155.4 1851.1V1799.6H179.4V1825.9M185.3 1797.9V1806.9M167.4 1799.6V1797.9H185.3V1797.9M121.9 1803.8V1785.7H176.4V1797.9M106.5 1808.3V1776H149.1V1785.7M98 1727.6V1736.6M98 1727.6V1727.6H127.8V1776M186.7 1897.5V1906.5M188 1897.5V1906.5M186.7 1897.5V1897.5H188V1897.5M189.4 1880.2V1889.2M187.3 1897.5V1880.2H189.4V1880.2M190.7 1917V1926M192.1 1917V1926M190.7 1917V1917H192.1V1917M196.1 1914V1923M197.4 1914V1923M196.1 1914V1914H197.4V1914M194.7 1874.8V1883.8M194.7 1874.8V1874.8H196.8V1914M198.8 1871.7V1880.7M195.7 1874.8V1871.7H198.8V1871.7M193.4 1864.8V1873.8M193.4 1864.8V1864.8H197.3V1871.7M200.1 1906.1V1915.1M201.5 1906.1V1915.1M200.1 1906.1V1906.1H201.5V1906.1M195.3 1864.8V1860.1H200.8V1906.1M202.8 1905.5V1914.5M204.1 1905.5V1914.5M202.8 1905.5V1905.5H204.1V1905.5M205.5 1882.6V1891.6M203.5 1905.5V1882.6H205.5V1882.6M206.8 1871.9V1880.9M204.5 1882.6V1871.9H206.8V1871.9M198.1 1860.1V1845.7H205.7V1871.9M208.2 1843.4V1852.4M201.9 1845.7V1843.4H208.2V1843.4M191.4 1917V1833.8H205V1843.4M188.4 1880.2V1826H198.2V1833.8M210.9 1907.7V1916.7M212.2 1907.7V1916.7M210.9 1907.7V1907.7H212.2V1907.7M213.5 1916.3V1925.3M214.9 1916.3V1925.3M213.5 1916.3V1916.3H214.9V1916.3M211.5 1907.7V1838.5H214.2V1916.3M216.2 1831.3V1840.3M212.9 1838.5V1831.3H216.2V1831.3M209.5 1817.9V1826.9M209.5 1817.9V1817.9H214.6V1831.3M220.3 1916.2V1925.2M221.6 1916.2V1925.2M220.3 1916.2V1916.2H221.6V1916.2M223 1864.5V1873.5M220.9 1916.2V1864.5H223V1864.5M218.9 1840V1849M218.9 1840V1840H221.9V1864.5M217.6 1834.6V1843.6M217.6 1834.6V1834.6H220.4V1840M224.3 1826V1835M219 1834.6V1826H224.3V1826M225.6 1809.9V1818.9M221.7 1826V1809.9H225.6V1809.9M212 1817.9V1792.8H223.6V1809.9M193.3 1826V1719.5H217.8V1792.8M112.9 1727.6V1708.2H205.6V1719.5M227 1901.9V1910.9M228.3 1901.9V1910.9M227 1901.9V1901.9H228.3V1901.9M229.7 1895.9V1904.9M231 1895.9V1904.9M229.7 1895.9V1895.9H231V1895.9M227.7 1901.9V1877.6H230.3V1895.9M232.4 1866.3V1875.3M229 1877.6V1866.3H232.4V1866.3M233.7 1898.1V1907.1M235 1898.1V1907.1M233.7 1898.1V1898.1H235V1898.1M236.4 1868.8V1877.8M234.4 1898.1V1868.8H236.4V1868.8M237.7 1864.8V1873.8M235.4 1868.8V1864.8H237.7V1864.8M239.1 1856.7V1865.7M236.6 1864.8V1856.7H239.1V1856.7M240.4 1913.4V1922.4M241.8 1913.4V1922.4M240.4 1913.4V1913.4H241.8V1913.4M243.1 1870V1879M241.1 1913.4V1870H243.1V1870M237.8 1856.7V1832.3H242.1V1870M244.5 1919.4V1928.4M245.8 1919.4V1928.4M244.5 1919.4V1919.4H245.8V1919.4M247.1 1870.2V1879.2M245.1 1919.4V1870.2H247.1V1870.2M248.5 1862.5V1871.5M246.1 1870.2V1862.5H248.5V1862.5M240 1832.3V1814.7H247.3V1862.5M230.7 1866.3V1778.1H243.6V1814.7M252.5 1863.7V1872.7M253.9 1863.7V1872.7M252.5 1863.7V1863.7H253.9V1863.7M251.2 1840.2V1849.2M251.2 1840.2V1840.2H253.2V1863.7M255.2 1830.6V1839.6M252.2 1840.2V1830.6H255.2V1830.6M256.5 1825.1V1834.1M253.7 1830.6V1825.1H256.5V1825.1M249.8 1823V1832M249.8 1823V1823H255.1V1825.1M260.6 1868.2V1877.2M261.9 1868.2V1877.2M260.6 1868.2V1868.2H261.9V1868.2M259.2 1843V1852M259.2 1843V1843H261.2V1868.2M263.3 1841V1850M260.2 1843V1841H263.3V1841M257.9 1832.1V1841.1M257.9 1832.1V1832.1H261.8V1841M264.6 1864.5V1873.5M265.9 1864.5V1873.5M264.6 1864.5V1864.5H265.9V1864.5M259.8 1832.1V1824.2H265.3V1864.5M267.3 1821.1V1830.1M262.5 1824.2V1821.1H267.3V1821.1M270 1848.2V1857.2M271.3 1848.2V1857.2M270 1848.2V1848.2H271.3V1848.2M272.7 1867.2V1876.2M274 1867.2V1876.2M272.7 1867.2V1867.2H274V1867.2M270.7 1848.2V1838.4H273.3V1867.2M268.6 1823.8V1832.8M268.6 1823.8V1823.8H272V1838.4M264.9 1821.1V1817.5H270.3V1823.8M275.4 1855.8V1864.8M276.7 1855.8V1864.8M275.4 1855.8V1855.8H276.7V1855.8M278 1841.5V1850.5M276 1855.8V1841.5H278V1841.5M267.6 1817.5V1811.6H277V1841.5M280.7 1862.5V1871.5M282.1 1862.5V1871.5M280.7 1862.5V1862.5H282.1V1862.5M283.4 1834.2V1843.2M281.4 1862.5V1834.2H283.4V1834.2M279.4 1827.4V1836.4M279.4 1827.4V1827.4H282.4V1834.2M272.3 1811.6V1802.6H280.9V1827.4M252.5 1823V1784.1H276.6V1802.6M287.4 1865.1V1874.1M288.8 1865.1V1874.1M287.4 1865.1V1865.1H288.8V1865.1M290.1 1851.7V1860.7M288.1 1865.1V1851.7H290.1V1851.7M294.2 1858.2V1867.2M295.5 1858.2V1867.2M294.2 1858.2V1858.2H295.5V1858.2M292.8 1855.4V1864.4M292.8 1855.4V1855.4H294.8V1858.2M291.5 1847.8V1856.8M291.5 1847.8V1847.8H293.8V1855.4M289.1 1851.7V1837.7H292.7V1847.8M296.9 1829.6V1838.6M290.9 1837.7V1829.6H296.9V1829.6M286.1 1826.8V1835.8M286.1 1826.8V1826.8H293.9V1829.6M284.8 1821.2V1830.2M284.8 1821.2V1821.2H290V1826.8M298.2 1864.6V1873.6M299.5 1864.6V1873.6M298.2 1864.6V1864.6H299.5V1864.6M300.9 1859.4V1868.4M298.9 1864.6V1859.4H300.9V1859.4M304.9 1851V1860M306.3 1851V1860M304.9 1851V1851H306.3V1851M303.6 1848.9V1857.9M303.6 1848.9V1848.9H305.6V1851M302.2 1847.2V1856.2M302.2 1847.2V1847.2H304.6V1848.9M307.6 1836.1V1845.1M303.4 1847.2V1836.1H307.6V1836.1M308.9 1852V1861M310.3 1852V1861M308.9 1852V1852H310.3V1852M313 1869.1V1878.1M314.3 1869.1V1878.1M313 1869.1V1869.1H314.3V1869.1M315.7 1861.9V1870.9M313.6 1869.1V1861.9H315.7V1861.9M311.6 1854.1V1863.1M311.6 1854.1V1854.1H314.7V1861.9M317 1858.6V1867.6M318.3 1858.6V1867.6M317 1858.6V1858.6H318.3V1858.6M313.1 1854.1V1849.2H317.7V1858.6M309.6 1852V1844H315.4V1849.2M319.7 1865.1V1874.1M321 1865.1V1874.1M319.7 1865.1V1865.1H321V1865.1M312.5 1844V1836.5H320.4V1865.1M305.5 1836.1V1827.1H316.4V1836.5M299.9 1859.4V1808.6H311V1827.1M322.4 1852.9V1861.9M323.7 1852.9V1861.9M322.4 1852.9V1852.9H323.7V1852.9M325.1 1862.8V1871.8M326.4 1862.8V1871.8M325.1 1862.8V1862.8H326.4V1862.8M323.1 1852.9V1845.1H325.7V1862.8M327.8 1869V1878M329.1 1869V1878M327.8 1869V1869H329.1V1869M324.4 1845.1V1837.6H328.4V1869M330.4 1830.9V1839.9M326.4 1837.6V1830.9H330.4V1830.9M333.1 1854.5V1863.5M334.5 1854.5V1863.5M333.1 1854.5V1854.5H334.5V1854.5M335.8 1845.9V1854.9M333.8 1854.5V1845.9H335.8V1845.9M337.2 1843.4V1852.4M334.8 1845.9V1843.4H337.2V1843.4M338.5 1840.1V1849.1M336 1843.4V1840.1H338.5V1840.1M331.8 1838.2V1847.2M331.8 1838.2V1838.2H337.2V1840.1M328.4 1830.9V1816.4H334.5V1838.2M342.5 1858.5V1867.5M343.9 1858.5V1867.5M342.5 1858.5V1858.5H343.9V1858.5M345.2 1852.2V1861.2M343.2 1858.5V1852.2H345.2V1852.2M346.6 1845.3V1854.3M344.2 1852.2V1845.3H346.6V1845.3M341.2 1843.3V1852.3M341.2 1843.3V1843.3H345.4V1845.3M339.8 1841.4V1850.4M339.8 1841.4V1841.4H343.3V1843.3M347.9 1832.9V1841.9M341.6 1841.4V1832.9H347.9V1832.9M350.6 1861V1870M351.9 1861V1870M350.6 1861V1861H351.9V1861M353.3 1856.8V1865.8M351.3 1861V1856.8H353.3V1856.8M354.6 1854.8V1863.8M352.3 1856.8V1854.8H354.6V1854.8M357.3 1860.9V1869.9M358.7 1860.9V1869.9M357.3 1860.9V1860.9H358.7V1860.9M356 1858.7V1867.7M356 1858.7V1858.7H358V1860.9M360 1856.4V1865.4M357 1858.7V1856.4H360V1856.4M353.5 1854.8V1848H358.5V1856.4M362.7 1857.7V1866.7M364 1857.7V1866.7M362.7 1857.7V1857.7H364V1857.7M365.4 1870.9V1879.9M366.7 1870.9V1879.9M365.4 1870.9V1870.9H366.7V1870.9M368.1 1870.4V1879.4M369.4 1870.4V1879.4M368.1 1870.4V1870.4H369.4V1870.4M366 1870.9V1861.4H368.7V1870.4M363.4 1857.7V1852H367.4V1861.4M361.3 1849.3V1858.3M361.3 1849.3V1849.3H365.4V1852M356 1848V1843.1H363.4V1849.3M370.8 1835.6V1844.6M359.7 1843.1V1835.6H370.8V1835.6M374.8 1860.8V1869.8M376.1 1860.8V1869.8M374.8 1860.8V1860.8H376.1V1860.8M373.4 1853.6V1862.6M373.4 1853.6V1853.6H375.5V1860.8M377.5 1856.7V1865.7M378.8 1856.7V1865.7M377.5 1856.7V1856.7H378.8V1856.7M374.4 1853.6V1851.8H378.1V1856.7M372.1 1847.7V1856.7M372.1 1847.7V1847.7H376.3V1851.8M380.2 1844.9V1853.9M374.2 1847.7V1844.9H380.2V1844.9M381.5 1843V1852M377.2 1844.9V1843H381.5V1843M382.8 1872V1881M384.2 1872V1881M382.8 1872V1872H384.2V1872M379.3 1843V1838.2H383.5V1872M365.2 1835.6V1829.8H381.4V1838.2M349.3 1820.7V1829.7M349.3 1820.7V1820.7H373.3V1829.8M344.7 1832.9V1816.9H361.3V1820.7M331.5 1816.4V1810.7H353V1816.9M305.4 1808.6V1802.5H342.2V1810.7M386.9 1852.6V1861.6M388.2 1852.6V1861.6M386.9 1852.6V1852.6H388.2V1852.6M385.5 1845.7V1854.7M385.5 1845.7V1845.7H387.5V1852.6M323.8 1802.5V1793H386.5V1845.7M287.4 1821.2V1782.4H355.2V1793M393.6 1850.1V1859.1M394.9 1850.1V1859.1M393.6 1850.1V1850.1H394.9V1850.1M392.2 1845.8V1854.8M392.2 1845.8V1845.8H394.3V1850.1M396.3 1840.7V1849.7M393.3 1845.8V1840.7H396.3V1840.7M390.9 1837.8V1846.8M390.9 1837.8V1837.8H394.8V1840.7M397.6 1844.7V1853.7M399 1844.7V1853.7M397.6 1844.7V1844.7H399V1844.7M392.8 1837.8V1829H398.3V1844.7M400.3 1868.5V1877.5M401.7 1868.5V1877.5M400.3 1868.5V1868.5H401.7V1868.5M403 1858.2V1867.2M404.3 1858.2V1867.2M403 1858.2V1858.2H404.3V1858.2M405.7 1852.3V1861.3M407 1852.3V1861.3M405.7 1852.3V1852.3H407V1852.3M403.7 1858.2V1846.8H406.4V1852.3M408.4 1841V1850M405 1846.8V1841H408.4V1841M409.7 1854V1863M411.1 1854V1863M409.7 1854V1854H411.1V1854M406.7 1841V1837.2H410.4V1854M416.4 1870.1V1879.1M417.8 1870.1V1879.1M416.4 1870.1V1870.1H417.8V1870.1M419.1 1872.1V1881.1M420.5 1872.1V1881.1M419.1 1872.1V1872.1H420.5V1872.1M417.1 1870.1V1866.3H419.8V1872.1M421.8 1862.8V1871.8M418.4 1866.3V1862.8H421.8V1862.8M423.2 1854.9V1863.9M420.1 1862.8V1854.9H423.2V1854.9M415.1 1850.7V1859.7M415.1 1850.7V1850.7H421.6V1854.9M413.7 1843.7V1852.7M413.7 1843.7V1843.7H418.4V1850.7M412.4 1838.4V1847.4M412.4 1838.4V1838.4H416.1V1843.7M408.5 1837.2V1830.7H414.2V1838.4M401 1868.5V1821.1H411.4V1830.7M395.6 1829V1817.6H406.2V1821.1M389.6 1812.6V1821.6M389.6 1812.6V1812.6H400.9V1817.6M424.5 1805.8V1814.8M395.2 1812.6V1805.8H424.5V1805.8M428.5 1864.3V1873.3M429.9 1864.3V1873.3M428.5 1864.3V1864.3H429.9V1864.3M427.2 1848.9V1857.9M427.2 1848.9V1848.9H429.2V1864.3M425.8 1839.7V1848.7M425.8 1839.7V1839.7H428.2V1848.9M432.6 1862.7V1871.7M433.9 1862.7V1871.7M432.6 1862.7V1862.7H433.9V1862.7M436.6 1855.9V1864.9M437.9 1855.9V1864.9M436.6 1855.9V1855.9H437.9V1855.9M439.3 1852.1V1861.1M437.3 1855.9V1852.1H439.3V1852.1M435.2 1844.6V1853.6M435.2 1844.6V1844.6H438.3V1852.1M440.6 1837.3V1846.3M436.8 1844.6V1837.3H440.6V1837.3M433.2 1862.7V1830H438.7V1837.3M431.2 1823.3V1832.3M431.2 1823.3V1823.3H436V1830M446 1874.2V1883.2M447.3 1874.2V1883.2M446 1874.2V1874.2H447.3V1874.2M448.7 1865.5V1874.5M446.7 1874.2V1865.5H448.7V1865.5M450 1857.6V1866.6M447.7 1865.5V1857.6H450V1857.6M444.6 1855.9V1864.9M444.6 1855.9V1855.9H448.8V1857.6M443.3 1850.8V1859.8M443.3 1850.8V1850.8H446.7V1855.9M451.4 1843.4V1852.4M445 1850.8V1843.4H451.4V1843.4M442 1841.4V1850.4M442 1841.4V1841.4H448.2V1843.4M452.7 1833V1842M445.1 1841.4V1833H452.7V1833M454.1 1826V1835M448.9 1833V1826H454.1V1826M455.4 1844.1V1853.1M456.7 1844.1V1853.1M455.4 1844.1V1844.1H456.7V1844.1M458.1 1855.9V1864.9M459.4 1855.9V1864.9M458.1 1855.9V1855.9H459.4V1855.9M460.8 1860.3V1869.3M462.1 1860.3V1869.3M460.8 1860.3V1860.3H462.1V1860.3M463.5 1854.1V1863.1M464.8 1854.1V1863.1M463.5 1854.1V1854.1H464.8V1854.1M461.4 1860.3V1848.7H464.1V1854.1M458.8 1855.9V1839.7H462.8V1848.7M466.1 1830.2V1839.2M460.8 1839.7V1830.2H466.1V1830.2M456.1 1844.1V1824.3H463.5V1830.2M451.5 1826V1817.2H459.8V1824.3M433.6 1823.3V1814H455.6V1817.2M427 1839.7V1804.6H444.6V1814M468.8 1852.1V1861.1M470.2 1852.1V1861.1M468.8 1852.1V1852.1H470.2V1852.1M467.5 1840.5V1849.5M467.5 1840.5V1840.5H469.5V1852.1M471.5 1857.3V1866.3M472.9 1857.3V1866.3M471.5 1857.3V1857.3H472.9V1857.3M474.2 1848.4V1857.4M472.2 1857.3V1848.4H474.2V1848.4M475.6 1841.1V1850.1M473.2 1848.4V1841.1H475.6V1841.1M476.9 1831.5V1840.5M474.4 1841.1V1831.5H476.9V1831.5M468.5 1840.5V1827.3H475.6V1831.5M479.6 1861.3V1870.3M480.9 1861.3V1870.3M479.6 1861.3V1861.3H480.9V1861.3M478.2 1846.1V1855.1M478.2 1846.1V1846.1H480.3V1861.3M482.3 1836.7V1845.7M479.2 1846.1V1836.7H482.3V1836.7M472.1 1827.3V1822.5H480.8V1836.7M483.6 1849.9V1858.9M485 1849.9V1858.9M483.6 1849.9V1849.9H485V1849.9M476.4 1822.5V1815.4H484.3V1849.9M435.8 1804.6V1797.3H480.3V1815.4M409.9 1805.8V1788.8H458.1V1797.3M486.3 1780.8V1789.8M434 1788.8V1780.8H486.3V1780.8M321.3 1782.4V1772.8H460.1V1780.8M264.5 1784.1V1750.2H390.7V1772.8M489 1850.6V1859.6M490.3 1850.6V1859.6M489 1850.6V1850.6H490.3V1850.6M487.6 1833V1842M487.6 1833V1833H489.7V1850.6M491.7 1825.9V1834.9M488.7 1833V1825.9H491.7V1825.9M497 1851V1860M498.4 1851V1860M497 1851V1851H498.4V1851M495.7 1833.9V1842.9M495.7 1833.9V1833.9H497.7V1851M494.4 1829.6V1838.6M494.4 1829.6V1829.6H496.7V1833.9M499.7 1860.6V1869.6M501.1 1860.6V1869.6M499.7 1860.6V1860.6H501.1V1860.6M495.5 1829.6V1825.2H500.4V1860.6M493 1811.7V1820.7M493 1811.7V1811.7H498V1825.2M502.4 1809.9V1818.9M495.5 1811.7V1809.9H502.4V1809.9M490.2 1825.9V1804.3H499V1809.9M505.1 1856V1865M506.5 1856V1865M505.1 1856V1856H506.5V1856M503.8 1839.2V1848.2M503.8 1839.2V1839.2H505.8V1856M494.6 1804.3V1795H504.8V1839.2M507.8 1852.4V1861.4M509.1 1852.4V1861.4M507.8 1852.4V1852.4H509.1V1852.4M510.5 1859.1V1868.1M511.8 1859.1V1868.1M510.5 1859.1V1859.1H511.8V1859.1M508.5 1852.4V1828.5H511.2V1859.1M513.2 1821.2V1830.2M509.8 1828.5V1821.2H513.2V1821.2M514.5 1847.4V1856.4M515.9 1847.4V1856.4M514.5 1847.4V1847.4H515.9V1847.4M517.2 1833.1V1842.1M515.2 1847.4V1833.1H517.2V1833.1M518.5 1848.6V1857.6M519.9 1848.6V1857.6M518.5 1848.6V1848.6H519.9V1848.6M516.2 1833.1V1825.2H519.2V1848.6M521.2 1807.1V1816.1M517.7 1825.2V1807.1H521.2V1807.1M511.5 1821.2V1801.1H519.5V1807.1M522.6 1794.7V1803.7M515.5 1801.1V1794.7H522.6V1794.7M499.7 1795V1779.2H519V1794.7M525.3 1843.7V1852.7M526.6 1843.7V1852.7M525.3 1843.7V1843.7H526.6V1843.7M523.9 1839.1V1848.1M523.9 1839.1V1839.1H525.9V1843.7M528 1849.4V1858.4M529.3 1849.4V1858.4M528 1849.4V1849.4H529.3V1849.4M524.9 1839.1V1830.4H528.6V1849.4M530.6 1856.2V1865.2M532 1856.2V1865.2M530.6 1856.2V1856.2H532V1856.2M534.7 1867.2V1876.2M536 1867.2V1876.2M534.7 1867.2V1867.2H536V1867.2M533.3 1864.3V1873.3M533.3 1864.3V1864.3H535.3V1867.2M537.4 1860.5V1869.5M534.3 1864.3V1860.5H537.4V1860.5M538.7 1862.9V1871.9M540 1862.9V1871.9M538.7 1862.9V1862.9H540V1862.9M535.8 1860.5V1852H539.4V1862.9M541.4 1842.9V1851.9M537.6 1852V1842.9H541.4V1842.9M544.1 1854V1863M545.4 1854V1863M544.1 1854V1854H545.4V1854M546.8 1858V1867M548.1 1858V1867M546.8 1858V1858H548.1V1858M549.4 1854V1863M547.4 1858V1854H549.4V1854M550.8 1849.2V1858.2M548.4 1854V1849.2H550.8V1849.2M544.7 1854V1847.4H549.6V1849.2M542.7 1843.9V1852.9M542.7 1843.9V1843.9H547.2V1847.4M539.5 1842.9V1837.2H545V1843.9M552.1 1835V1844M542.2 1837.2V1835H552.1V1835M531.3 1856.2V1828H547.2V1835M526.8 1830.4V1821.3H539.2V1828M553.5 1816.6V1825.6M533 1821.3V1816.6H553.5V1816.6M554.8 1840V1849M556.2 1840V1849M554.8 1840V1840H556.2V1840M543.2 1816.6V1812.7H555.5V1840M557.5 1801.8V1810.8M549.4 1812.7V1801.8H557.5V1801.8M509.3 1779.2V1763.1H553.4V1801.8M558.9 1851.9V1860.9M560.2 1851.9V1860.9M558.9 1851.9V1851.9H560.2V1851.9M561.5 1855.2V1864.2M562.9 1855.2V1864.2M561.5 1855.2V1855.2H562.9V1855.2M559.5 1851.9V1817H562.2V1855.2M564.2 1839.4V1848.4M565.6 1839.4V1848.4M564.2 1839.4V1839.4H565.6V1839.4M566.9 1832.8V1841.8M564.9 1839.4V1832.8H566.9V1832.8M568.3 1846.2V1855.2M569.6 1846.2V1855.2M568.3 1846.2V1846.2H569.6V1846.2M565.9 1832.8V1818.7H568.9V1846.2M560.9 1817V1797.9H567.4V1818.7M572.3 1835.7V1844.7M573.6 1835.7V1844.7M572.3 1835.7V1835.7H573.6V1835.7M570.9 1824.7V1833.7M570.9 1824.7V1824.7H573V1835.7M577.7 1853.6V1862.6M579 1853.6V1862.6M577.7 1853.6V1853.6H579V1853.6M580.4 1858.6V1867.6M581.7 1858.6V1867.6M580.4 1858.6V1858.6H581.7V1858.6M583 1830.2V1839.2M581 1858.6V1830.2H583V1830.2M584.4 1818.7V1827.7M582 1830.2V1818.7H584.4V1818.7M578.3 1853.6V1815.1H583.2V1818.7M576.3 1812.1V1821.1M576.3 1812.1V1812.1H580.8V1815.1M587.1 1855.5V1864.5M588.4 1855.5V1864.5M587.1 1855.5V1855.5H588.4V1855.5M589.8 1831.9V1840.9M587.7 1855.5V1831.9H589.8V1831.9M585.7 1814.8V1823.8M585.7 1814.8V1814.8H588.7V1831.9M591.1 1842.2V1851.2M592.4 1842.2V1851.2M591.1 1842.2V1842.2H592.4V1842.2M593.8 1824.7V1833.7M591.8 1842.2V1824.7H593.8V1824.7M595.1 1855.7V1864.7M596.5 1855.7V1864.7M595.1 1855.7V1855.7H596.5V1855.7M597.8 1824.3V1833.3M595.8 1855.7V1824.3H597.8V1824.3M592.8 1824.7V1815H596.8V1824.3M587.2 1814.8V1810H594.8V1815M599.2 1803.5V1812.5M591 1810V1803.5H599.2V1803.5M600.5 1797.7V1806.7M595.1 1803.5V1797.7H600.5V1797.7M578.5 1812.1V1788.1H597.8V1797.7M575 1783.2V1792.2M575 1783.2V1783.2H588.2V1788.1M572 1824.7V1781H581.6V1783.2M564.1 1797.9V1769.5H576.8V1781M601.8 1854.6V1863.6M603.2 1854.6V1863.6M601.8 1854.6V1854.6H603.2V1854.6M608.6 1844.8V1853.8M609.9 1844.8V1853.8M608.6 1844.8V1844.8H609.9V1844.8M607.2 1839.4V1848.4M607.2 1839.4V1839.4H609.2V1844.8M611.3 1834.7V1843.7M608.2 1839.4V1834.7H611.3V1834.7M605.9 1829.5V1838.5M605.9 1829.5V1829.5H609.7V1834.7M612.6 1827.7V1836.7M607.8 1829.5V1827.7H612.6V1827.7M613.9 1822.2V1831.2M610.2 1827.7V1822.2H613.9V1822.2M615.3 1812.9V1821.9M612.1 1822.2V1812.9H615.3V1812.9M619.3 1857.1V1866.1M620.7 1857.1V1866.1M619.3 1857.1V1857.1H620.7V1857.1M622 1840.5V1849.5M620 1857.1V1840.5H622V1840.5M623.3 1841.4V1850.4M624.7 1841.4V1850.4M623.3 1841.4V1841.4H624.7V1841.4M621 1840.5V1831H624V1841.4M626 1829V1838M622.5 1831V1829H626V1829M618 1820.4V1829.4M618 1820.4V1820.4H624.3V1829M616.6 1814V1823M616.6 1814V1814H621.1V1820.4M627.4 1809.7V1818.7M618.9 1814V1809.7H627.4V1809.7M613.7 1812.9V1802.2H623.1V1809.7M604.5 1797.5V1806.5M604.5 1797.5V1797.5H618.4V1802.2M628.7 1860.7V1869.7M630.1 1860.7V1869.7M628.7 1860.7V1860.7H630.1V1860.7M631.4 1844.5V1853.5M632.8 1844.5V1853.5M631.4 1844.5V1844.5H632.8V1844.5M629.4 1860.7V1832.2H632.1V1844.5M634.1 1826.8V1835.8M630.7 1832.2V1826.8H634.1V1826.8M635.4 1820.8V1829.8M632.4 1826.8V1820.8H635.4V1820.8M639.5 1861.2V1870.2M640.8 1861.2V1870.2M639.5 1861.2V1861.2H640.8V1861.2M642.2 1835.9V1844.9M640.1 1861.2V1835.9H642.2V1835.9M638.1 1829V1838M638.1 1829V1829H641.1V1835.9M636.8 1820.6V1829.6M636.8 1820.6V1820.6H639.6V1829M633.9 1820.8V1795.8H638.2V1820.6M611.5 1797.5V1789.7H636.1V1795.8M602.5 1854.6V1786.5H623.8V1789.7M643.5 1772.8V1781.8M613.1 1786.5V1772.8H643.5V1772.8M570.5 1769.5V1750.2H628.3V1772.8M531.4 1763.1V1738.9H599.4V1750.2M327.6 1750.2V1730.8H565.4V1738.9M237.2 1778.1V1706.6H446.5V1730.8M159.2 1708.2V1682.4H341.8V1706.6" stroke="#4a4a4a" stroke-width="1.25" fill="none"/><path d="M75.9 1672L75.9 1960" stroke="#555" stroke-width="1.3" fill="none"/><path d="M70 1882.4L75.9 1882.4" stroke="#555" stroke-width="1.3" fill="none"/><text class="sb" x="0" y="0" font-size="16.9" text-anchor="middle" transform="translate(59 1882.4) rotate(-90)">50</text><path d="M70 1801.8L75.9 1801.8" stroke="#555" stroke-width="1.3" fill="none"/><text class="sb" x="0" y="0" font-size="16.9" text-anchor="middle" transform="translate(59 1801.8) rotate(-90)">100</text><path d="M70 1721.1L75.9 1721.1" stroke="#555" stroke-width="1.3" fill="none"/><text class="sb" x="0" y="0" font-size="16.9" text-anchor="middle" transform="translate(59 1721.1) rotate(-90)">150</text><text class="sb" x="0" y="0" font-size="19" text-anchor="middle" transform="translate(31 1816) rotate(-90)">Height</text><text class="s" x="12" y="1985" font-size="26">E</text><text class="sb" x="376" y="1951" font-size="18.1" text-anchor="middle">Sample Clustering and trait heatmap</text><path d="M100.7 2201.5v6M102.1 2201.5v6M104.8 2224.5v6M106.2 2224.5v6M103.5 2179.9v6M99.4 2150.2v6M107.6 2221.8v6M108.9 2221.8v6M111.7 2202.5v6M113.1 2202.5v6M110.3 2178.5v6M114.4 2154.5v6M118.5 2219v6M119.9 2219v6M117.2 2209.8v6M121.3 2186.2v6M124 2230.7v6M125.4 2230.7v6M122.6 2187.9v6M126.7 2220.1v6M128.1 2220.1v6M129.5 2221.7v6M130.8 2221.7v6M132.2 2212.7v6M133.6 2212.7v6M134.9 2173.4v6M137.7 2214.4v6M139.1 2214.4v6M136.3 2190.4v6M140.4 2221.8v6M141.8 2221.8v6M143.2 2196.4v6M144.5 2215.8v6M145.9 2215.8v6M148.6 2224.5v6M150 2224.5v6M147.3 2182v6M151.4 2178.6v6M115.8 2117.2v6M152.7 2230.2v6M154.1 2230.2v6M155.5 2224.2v6M156.8 2224.2v6M158.2 2203.9v6M159.6 2219.2v6M160.9 2219.2v6M162.3 2209.9v6M163.7 2209.9v6M165.1 2222.3v6M166.4 2222.3v6M169.2 2207.4v6M170.5 2207.4v6M167.8 2198.2v6M173.3 2219v6M174.6 2219v6M171.9 2190.5v6M176 2169v6M177.4 2225.3v6M178.7 2225.3v6M180.1 2210.7v6M181.5 2210.7v6M182.8 2146.8v6M184.2 2209.3v6M185.6 2209.3v6M187 2110.6v6M98 2032.2v6M188.3 2221.8v6M189.7 2221.8v6M191.1 2202.5v6M192.4 2243.6v6M193.8 2243.6v6M197.9 2240.2v6M199.3 2240.2v6M196.5 2196.5v6M200.6 2193v6M195.2 2185.3v6M202 2231.4v6M203.4 2231.4v6M204.7 2230.7v6M206.1 2230.7v6M207.5 2205.2v6M208.8 2193.2v6M210.2 2161.4v6M213 2233.2v6M214.3 2233.2v6M215.7 2242.8v6M217.1 2242.8v6M218.4 2147.9v6M211.6 2133v6M222.5 2242.7v6M223.9 2242.7v6M225.3 2185v6M221.2 2157.7v6M219.8 2151.6v6M226.6 2142v6M228 2124v6M229.4 2226.7v6M230.7 2226.7v6M232.1 2220v6M233.5 2220v6M234.8 2187v6M236.2 2222.4v6M237.6 2222.4v6M239 2189.8v6M240.3 2185.3v6M241.7 2176.2v6M243.1 2239.5v6M244.4 2239.5v6M245.8 2191.1v6M247.2 2246.3v6M248.5 2246.3v6M249.9 2191.3v6M251.3 2182.7v6M255.4 2184.1v6M256.7 2184.1v6M254 2157.9v6M258.1 2147.1v6M259.5 2141v6M252.6 2138.6v6M263.6 2189.1v6M265 2189.1v6M262.2 2161v6M266.3 2158.7v6M260.8 2148.8v6M267.7 2184.9v6M269.1 2184.9v6M270.4 2136.5v6M273.2 2166.7v6M274.5 2166.7v6M275.9 2188v6M277.3 2188v6M271.8 2139.6v6M278.6 2175.3v6M280 2175.3v6M281.4 2159.3v6M284.1 2182.7v6M285.5 2182.7v6M286.8 2151.2v6M282.7 2143.6v6M291 2185.6v6M292.3 2185.6v6M293.7 2170.7v6M297.8 2177.9v6M299.2 2177.9v6M296.4 2174.8v6M295.1 2166.3v6M300.5 2146v6M289.6 2142.9v6M288.2 2136.7v6M301.9 2185.1v6M303.3 2185.1v6M304.6 2179.2v6M308.7 2170v6M310.1 2170v6M307.4 2167.5v6M306 2165.7v6M311.5 2153.3v6M312.9 2171v6M314.2 2171v6M317 2190.1v6M318.3 2190.1v6M319.7 2182.1v6M315.6 2173.3v6M321.1 2178.4v6M322.4 2178.4v6M323.8 2185.6v6M325.2 2185.6v6M326.5 2172.1v6M327.9 2172.1v6M329.3 2183.1v6M330.6 2183.1v6M332 2190v6M333.4 2190v6M334.7 2147.5v6M337.5 2173.8v6M338.9 2173.8v6M340.2 2164.2v6M341.6 2161.5v6M343 2157.7v6M336.1 2155.6v6M347.1 2178.2v6M348.4 2178.2v6M349.8 2171.2v6M351.2 2163.6v6M345.7 2161.3v6M344.3 2159.2v6M352.5 2149.7v6M355.3 2181.1v6M356.6 2181.1v6M358 2176.3v6M359.4 2174.1v6M362.1 2180.9v6M363.5 2180.9v6M360.7 2178.5v6M364.9 2175.9v6M367.6 2177.4v6M369 2177.4v6M370.3 2192.2v6M371.7 2192.2v6M373.1 2191.5v6M374.4 2191.5v6M366.2 2168v6M375.8 2152.8v6M379.9 2180.9v6M381.3 2180.9v6M378.5 2172.8v6M382.6 2176.3v6M384 2176.3v6M377.2 2166.2v6M385.4 2163.1v6M386.7 2161v6M388.1 2193.4v6M389.5 2193.4v6M353.9 2136.1v6M392.2 2171.7v6M393.6 2171.7v6M390.9 2164v6M399.1 2168.9v6M400.4 2168.9v6M397.7 2164.1v6M401.8 2158.4v6M396.3 2155.2v6M403.2 2162.9v6M404.5 2162.9v6M405.9 2189.4v6M407.3 2189.4v6M408.6 2178v6M410 2178v6M411.4 2171.4v6M412.7 2171.4v6M414.1 2158.7v6M415.5 2173.2v6M416.9 2173.2v6M422.3 2191.3v6M423.7 2191.3v6M425.1 2193.4v6M426.4 2193.4v6M427.8 2183.1v6M429.2 2174.2v6M421 2169.6v6M419.6 2161.8v6M418.2 2155.8v6M395 2127.1v6M430.5 2119.4v6M434.6 2184.8v6M436 2184.8v6M433.3 2167.5v6M431.9 2157.3v6M438.7 2183v6M440.1 2183v6M442.9 2175.4v6M444.2 2175.4v6M445.6 2171.1v6M441.5 2162.8v6M447 2154.7v6M437.4 2139v6M452.4 2195.8v6M453.8 2195.8v6M455.2 2186.1v6M456.5 2177.3v6M451.1 2175.3v6M449.7 2169.6v6M457.9 2161.5v6M448.3 2159.2v6M459.3 2149.8v6M460.6 2142.1v6M462 2162.2v6M463.4 2162.2v6M464.8 2175.4v6M466.1 2175.4v6M467.5 2180.2v6M468.9 2180.2v6M470.2 2173.3v6M471.6 2173.3v6M473 2146.7v6M475.7 2171.1v6M477.1 2171.1v6M474.3 2158.2v6M478.4 2176.9v6M479.8 2176.9v6M481.2 2167v6M482.5 2158.9v6M483.9 2148.2v6M486.6 2181.4v6M488 2181.4v6M485.3 2164.5v6M489.4 2154v6M490.8 2168.7v6M492.1 2168.7v6M493.5 2091.6v6M496.2 2169.4v6M497.6 2169.4v6M494.9 2149.9v6M499 2141.8v6M504.4 2169.9v6M505.8 2169.9v6M503.1 2150.9v6M501.7 2146v6M507.2 2180.6v6M508.5 2180.6v6M500.3 2126v6M509.9 2124v6M512.6 2175.5v6M514 2175.5v6M511.3 2156.7v6M515.4 2171.4v6M516.8 2171.4v6M518.1 2179v6M519.5 2179v6M520.9 2136.6v6M522.2 2165.9v6M523.6 2165.9v6M525 2149.9v6M526.3 2167.2v6M527.7 2167.2v6M529.1 2120.9v6M530.4 2107.1v6M533.2 2161.8v6M534.5 2161.8v6M531.8 2156.6v6M535.9 2168.1v6M537.3 2168.1v6M538.6 2175.7v6M540 2175.7v6M542.8 2188v6M544.1 2188v6M541.4 2184.7v6M545.5 2180.5v6M546.9 2183.2v6M548.2 2183.2v6M549.6 2160.9v6M552.3 2173.2v6M553.7 2173.2v6M555.1 2177.7v6M556.4 2177.7v6M557.8 2173.2v6M559.2 2167.9v6M551 2162v6M560.5 2152.1v6M561.9 2131.5v6M563.3 2157.6v6M564.6 2157.6v6M566 2115v6M567.4 2170.9v6M568.8 2170.9v6M570.1 2174.6v6M571.5 2174.6v6M572.9 2156.9v6M574.2 2156.9v6M575.6 2149.5v6M577 2164.5v6M578.3 2164.5v6M581.1 2152.8v6M582.4 2152.8v6M579.7 2140.5v6M586.5 2172.8v6M587.9 2172.8v6M589.3 2178.4v6M590.7 2178.4v6M592 2146.7v6M593.4 2133.9v6M585.2 2126.5v6M596.1 2174.9v6M597.5 2174.9v6M598.9 2148.6v6M594.8 2129.5v6M600.2 2160.1v6M601.6 2160.1v6M603 2140.6v6M604.3 2175.1v6M605.7 2175.1v6M607.1 2140.1v6M608.4 2116.9v6M609.8 2110.4v6M583.8 2094.2v6M611.2 2173.9v6M612.5 2173.9v6M618 2163v6M619.4 2163v6M616.7 2157v6M620.8 2151.8v6M615.3 2145.9v6M622.1 2143.9v6M623.5 2137.8v6M624.9 2127.4v6M629 2176.7v6M630.3 2176.7v6M631.7 2158.2v6M633.1 2159.2v6M634.4 2159.2v6M635.8 2145.3v6M627.6 2135.8v6M626.2 2128.6v6M637.2 2123.8v6M613.9 2110.2v6M638.5 2180.8v6M639.9 2180.8v6M641.3 2162.6v6M642.7 2162.6v6M644 2142.9v6M645.4 2136.3v6M649.5 2181.3v6M650.9 2181.3v6M652.2 2153v6M648.1 2145.4v6M646.8 2136v6M653.6 2082.6v6" stroke="#8c8c8c" stroke-width="2.6" fill="none"/><path d="M100.7 2195.5V2201.5M102.1 2195.5V2201.5M100.7 2195.5V2195.5H102.1V2195.5M104.8 2218.5V2224.5M106.2 2218.5V2224.5M104.8 2218.5V2218.5H106.2V2218.5M103.5 2173.9V2179.9M103.5 2173.9V2173.9H105.5V2218.5M101.4 2195.5V2157.5H104.5V2173.9M99.4 2144.2V2150.2M99.4 2144.2V2144.2H103V2157.5M107.6 2215.8V2221.8M108.9 2215.8V2221.8M107.6 2215.8V2215.8H108.9V2215.8M111.7 2196.5V2202.5M113.1 2196.5V2202.5M111.7 2196.5V2196.5H113.1V2196.5M110.3 2172.5V2178.5M110.3 2172.5V2172.5H112.4V2196.5M108.3 2215.8V2155.2H111.3V2172.5M114.4 2148.5V2154.5M109.8 2155.2V2148.5H114.4V2148.5M101.2 2144.2V2116.2H112.1V2148.5M118.5 2213V2219M119.9 2213V2219M118.5 2213V2213H119.9V2213M117.2 2203.8V2209.8M117.2 2203.8V2203.8H119.2V2213M121.3 2180.2V2186.2M118.2 2203.8V2180.2H121.3V2180.2M124 2224.7V2230.7M125.4 2224.7V2230.7M124 2224.7V2224.7H125.4V2224.7M122.6 2181.9V2187.9M122.6 2181.9V2181.9H124.7V2224.7M119.7 2180.2V2152.4H123.7V2181.9M126.7 2214.1V2220.1M128.1 2214.1V2220.1M126.7 2214.1V2214.1H128.1V2214.1M129.5 2215.7V2221.7M130.8 2215.7V2221.7M129.5 2215.7V2215.7H130.8V2215.7M132.2 2206.7V2212.7M133.6 2206.7V2212.7M132.2 2206.7V2206.7H133.6V2206.7M130.2 2215.7V2184H132.9V2206.7M134.9 2167.4V2173.4M131.5 2184V2167.4H134.9V2167.4M137.7 2208.4V2214.4M139.1 2208.4V2214.4M137.7 2208.4V2208.4H139.1V2208.4M136.3 2184.4V2190.4M136.3 2184.4V2184.4H138.4V2208.4M133.2 2167.4V2159.1H137.3V2184.4M140.4 2215.8V2221.8M141.8 2215.8V2221.8M140.4 2215.8V2215.8H141.8V2215.8M143.2 2190.4V2196.4M141.1 2215.8V2190.4H143.2V2190.4M144.5 2209.8V2215.8M145.9 2209.8V2215.8M144.5 2209.8V2209.8H145.9V2209.8M142.1 2190.4V2171.9H145.2V2209.8M135.3 2159.1V2144.8H143.7V2171.9M148.6 2218.5V2224.5M150 2218.5V2224.5M148.6 2218.5V2218.5H150V2218.5M147.3 2176V2182M147.3 2176V2176H149.3V2218.5M151.4 2172.6V2178.6M148.3 2176V2172.6H151.4V2172.6M139.5 2144.8V2140.6H149.8V2172.6M127.4 2214.1V2130.4H144.7V2140.6M121.7 2152.4V2117H136V2130.4M115.8 2111.2V2117.2M115.8 2111.2V2111.2H128.9V2117M152.7 2224.2V2230.2M154.1 2224.2V2230.2M152.7 2224.2V2224.2H154.1V2224.2M155.5 2218.2V2224.2M156.8 2218.2V2224.2M155.5 2218.2V2218.2H156.8V2218.2M158.2 2197.9V2203.9M156.2 2218.2V2197.9H158.2V2197.9M159.6 2213.2V2219.2M160.9 2213.2V2219.2M159.6 2213.2V2213.2H160.9V2213.2M162.3 2203.9V2209.9M163.7 2203.9V2209.9M162.3 2203.9V2203.9H163.7V2203.9M160.3 2213.2V2175.2H163V2203.9M157.2 2197.9V2168.9H161.6V2175.2M153.4 2224.2V2164H159.4V2168.9M165.1 2216.3V2222.3M166.4 2216.3V2222.3M165.1 2216.3V2216.3H166.4V2216.3M169.2 2201.4V2207.4M170.5 2201.4V2207.4M169.2 2201.4V2201.4H170.5V2201.4M167.8 2192.2V2198.2M167.8 2192.2V2192.2H169.8V2201.4M173.3 2213V2219M174.6 2213V2219M173.3 2213V2213H174.6V2213M171.9 2184.5V2190.5M171.9 2184.5V2184.5H174V2213M168.8 2192.2V2173.4H172.9V2184.5M176 2163V2169M170.9 2173.4V2163H176V2163M177.4 2219.3V2225.3M178.7 2219.3V2225.3M177.4 2219.3V2219.3H178.7V2219.3M180.1 2204.7V2210.7M181.5 2204.7V2210.7M180.1 2204.7V2204.7H181.5V2204.7M178.1 2219.3V2174.1H180.8V2204.7M173.4 2163V2153.5H179.4V2174.1M165.7 2216.3V2149.4H176.4V2153.5M182.8 2140.8V2146.8M171.1 2149.4V2140.8H182.8V2140.8M184.2 2203.3V2209.3M185.6 2203.3V2209.3M184.2 2203.3V2203.3H185.6V2203.3M177 2140.8V2135.9H184.9V2203.3M156.4 2164V2106.6H180.9V2135.9M187 2104.6V2110.6M168.7 2106.6V2104.6H187V2104.6M122.3 2111.2V2091H177.8V2104.6M106.6 2116.2V2080.2H150.1V2091M98 2026.2V2032.2M98 2026.2V2026.2H128.4V2080.2M188.3 2215.8V2221.8M189.7 2215.8V2221.8M188.3 2215.8V2215.8H189.7V2215.8M191.1 2196.5V2202.5M189 2215.8V2196.5H191.1V2196.5M192.4 2237.6V2243.6M193.8 2237.6V2243.6M192.4 2237.6V2237.6H193.8V2237.6M197.9 2234.2V2240.2M199.3 2234.2V2240.2M197.9 2234.2V2234.2H199.3V2234.2M196.5 2190.5V2196.5M196.5 2190.5V2190.5H198.6V2234.2M200.6 2187V2193M197.6 2190.5V2187H200.6V2187M195.2 2179.3V2185.3M195.2 2179.3V2179.3H199.1V2187M202 2225.4V2231.4M203.4 2225.4V2231.4M202 2225.4V2225.4H203.4V2225.4M197.1 2179.3V2174H202.7V2225.4M204.7 2224.7V2230.7M206.1 2224.7V2230.7M204.7 2224.7V2224.7H206.1V2224.7M207.5 2199.2V2205.2M205.4 2224.7V2199.2H207.5V2199.2M208.8 2187.2V2193.2M206.5 2199.2V2187.2H208.8V2187.2M199.9 2174V2158H207.6V2187.2M210.2 2155.4V2161.4M203.8 2158V2155.4H210.2V2155.4M193.1 2237.6V2144.7H207V2155.4M190 2196.5V2136H200.1V2144.7M213 2227.2V2233.2M214.3 2227.2V2233.2M213 2227.2V2227.2H214.3V2227.2M215.7 2236.8V2242.8M217.1 2236.8V2242.8M215.7 2236.8V2236.8H217.1V2236.8M213.6 2227.2V2150H216.4V2236.8M218.4 2141.9V2147.9M215 2150V2141.9H218.4V2141.9M211.6 2127V2133M211.6 2127V2127H216.7V2141.9M222.5 2236.7V2242.7M223.9 2236.7V2242.7M222.5 2236.7V2236.7H223.9V2236.7M225.3 2179V2185M223.2 2236.7V2179H225.3V2179M221.2 2151.7V2157.7M221.2 2151.7V2151.7H224.2V2179M219.8 2145.6V2151.6M219.8 2145.6V2145.6H222.7V2151.7M226.6 2136V2142M221.2 2145.6V2136H226.6V2136M228 2118V2124M223.9 2136V2118H228V2118M214.1 2127V2098.9H226V2118M195 2136V2017.2H220.1V2098.9M113.2 2026.2V2004.6H207.6V2017.2M229.4 2220.7V2226.7M230.7 2220.7V2226.7M229.4 2220.7V2220.7H230.7V2220.7M232.1 2214V2220M233.5 2214V2220M232.1 2214V2214H233.5V2214M230.1 2220.7V2193.6H232.8V2214M234.8 2181V2187M231.4 2193.6V2181H234.8V2181M236.2 2216.4V2222.4M237.6 2216.4V2222.4M236.2 2216.4V2216.4H237.6V2216.4M239 2183.8V2189.8M236.9 2216.4V2183.8H239V2183.8M240.3 2179.3V2185.3M237.9 2183.8V2179.3H240.3V2179.3M241.7 2170.2V2176.2M239.1 2179.3V2170.2H241.7V2170.2M243.1 2233.5V2239.5M244.4 2233.5V2239.5M243.1 2233.5V2233.5H244.4V2233.5M245.8 2185.1V2191.1M243.7 2233.5V2185.1H245.8V2185.1M240.4 2170.2V2143.1H244.8V2185.1M247.2 2240.3V2246.3M248.5 2240.3V2246.3M247.2 2240.3V2240.3H248.5V2240.3M249.9 2185.3V2191.3M247.8 2240.3V2185.3H249.9V2185.3M251.3 2176.7V2182.7M248.9 2185.3V2176.7H251.3V2176.7M242.6 2143.1V2123.4H250.1V2176.7M233.1 2181V2082.5H246.3V2123.4M255.4 2178.1V2184.1M256.7 2178.1V2184.1M255.4 2178.1V2178.1H256.7V2178.1M254 2151.9V2157.9M254 2151.9V2151.9H256.1V2178.1M258.1 2141.1V2147.1M255 2151.9V2141.1H258.1V2141.1M259.5 2135V2141M256.6 2141.1V2135H259.5V2135M252.6 2132.6V2138.6M252.6 2132.6V2132.6H258V2135M263.6 2183.1V2189.1M265 2183.1V2189.1M263.6 2183.1V2183.1H265V2183.1M262.2 2155V2161M262.2 2155V2155H264.3V2183.1M266.3 2152.7V2158.7M263.2 2155V2152.7H266.3V2152.7M260.8 2142.8V2148.8M260.8 2142.8V2142.8H264.8V2152.7M267.7 2178.9V2184.9M269.1 2178.9V2184.9M267.7 2178.9V2178.9H269.1V2178.9M262.8 2142.8V2134H268.4V2178.9M270.4 2130.5V2136.5M265.6 2134V2130.5H270.4V2130.5M273.2 2160.7V2166.7M274.5 2160.7V2166.7M273.2 2160.7V2160.7H274.5V2160.7M275.9 2182V2188M277.3 2182V2188M275.9 2182V2182H277.3V2182M273.8 2160.7V2149.9H276.6V2182M271.8 2133.6V2139.6M271.8 2133.6V2133.6H275.2V2149.9M268 2130.5V2126.5H273.5V2133.6M278.6 2169.3V2175.3M280 2169.3V2175.3M278.6 2169.3V2169.3H280V2169.3M281.4 2153.3V2159.3M279.3 2169.3V2153.3H281.4V2153.3M270.8 2126.5V2120H280.3V2153.3M284.1 2176.7V2182.7M285.5 2176.7V2182.7M284.1 2176.7V2176.7H285.5V2176.7M286.8 2145.2V2151.2M284.8 2176.7V2145.2H286.8V2145.2M282.7 2137.6V2143.6M282.7 2137.6V2137.6H285.8V2145.2M275.6 2120V2109.8H284.3V2137.6M255.3 2132.6V2089.2H279.9V2109.8M291 2179.6V2185.6M292.3 2179.6V2185.6M291 2179.6V2179.6H292.3V2179.6M293.7 2164.7V2170.7M291.6 2179.6V2164.7H293.7V2164.7M297.8 2171.9V2177.9M299.2 2171.9V2177.9M297.8 2171.9V2171.9H299.2V2171.9M296.4 2168.8V2174.8M296.4 2168.8V2168.8H298.5V2171.9M295.1 2160.3V2166.3M295.1 2160.3V2160.3H297.5V2168.8M292.7 2164.7V2149H296.3V2160.3M300.5 2140V2146M294.5 2149V2140H300.5V2140M289.6 2136.9V2142.9M289.6 2136.9V2136.9H297.5V2140M288.2 2130.7V2136.7M288.2 2130.7V2130.7H293.5V2136.9M301.9 2179.1V2185.1M303.3 2179.1V2185.1M301.9 2179.1V2179.1H303.3V2179.1M304.6 2173.2V2179.2M302.6 2179.1V2173.2H304.6V2173.2M308.7 2164V2170M310.1 2164V2170M308.7 2164V2164H310.1V2164M307.4 2161.5V2167.5M307.4 2161.5V2161.5H309.4V2164M306 2159.7V2165.7M306 2159.7V2159.7H308.4V2161.5M311.5 2147.3V2153.3M307.2 2159.7V2147.3H311.5V2147.3M312.9 2165V2171M314.2 2165V2171M312.9 2165V2165H314.2V2165M317 2184.1V2190.1M318.3 2184.1V2190.1M317 2184.1V2184.1H318.3V2184.1M319.7 2176.1V2182.1M317.6 2184.1V2176.1H319.7V2176.1M315.6 2167.3V2173.3M315.6 2167.3V2167.3H318.7V2176.1M321.1 2172.4V2178.4M322.4 2172.4V2178.4M321.1 2172.4V2172.4H322.4V2172.4M317.1 2167.3V2161.9H321.7V2172.4M313.5 2165V2156.1H319.4V2161.9M323.8 2179.6V2185.6M325.2 2179.6V2185.6M323.8 2179.6V2179.6H325.2V2179.6M316.5 2156.1V2147.7H324.5V2179.6M309.3 2147.3V2137.2H320.5V2147.7M303.6 2173.2V2116.6H314.9V2137.2M326.5 2166.1V2172.1M327.9 2166.1V2172.1M326.5 2166.1V2166.1H327.9V2166.1M329.3 2177.1V2183.1M330.6 2177.1V2183.1M329.3 2177.1V2177.1H330.6V2177.1M327.2 2166.1V2157.3H330V2177.1M332 2184V2190M333.4 2184V2190M332 2184V2184H333.4V2184M328.6 2157.3V2148.9H332.7V2184M334.7 2141.5V2147.5M330.6 2148.9V2141.5H334.7V2141.5M337.5 2167.8V2173.8M338.9 2167.8V2173.8M337.5 2167.8V2167.8H338.9V2167.8M340.2 2158.2V2164.2M338.2 2167.8V2158.2H340.2V2158.2M341.6 2155.5V2161.5M339.2 2158.2V2155.5H341.6V2155.5M343 2151.7V2157.7M340.4 2155.5V2151.7H343V2151.7M336.1 2149.6V2155.6M336.1 2149.6V2149.6H341.7V2151.7M332.7 2141.5V2125.3H338.9V2149.6M347.1 2172.2V2178.2M348.4 2172.2V2178.2M347.1 2172.2V2172.2H348.4V2172.2M349.8 2165.2V2171.2M347.7 2172.2V2165.2H349.8V2165.2M351.2 2157.6V2163.6M348.8 2165.2V2157.6H351.2V2157.6M345.7 2155.3V2161.3M345.7 2155.3V2155.3H350V2157.6M344.3 2153.2V2159.2M344.3 2153.2V2153.2H347.8V2155.3M352.5 2143.7V2149.7M346.1 2153.2V2143.7H352.5V2143.7M355.3 2175.1V2181.1M356.6 2175.1V2181.1M355.3 2175.1V2175.1H356.6V2175.1M358 2170.3V2176.3M356 2175.1V2170.3H358V2170.3M359.4 2168.1V2174.1M357 2170.3V2168.1H359.4V2168.1M362.1 2174.9V2180.9M363.5 2174.9V2180.9M362.1 2174.9V2174.9H363.5V2174.9M360.7 2172.5V2178.5M360.7 2172.5V2172.5H362.8V2174.9M364.9 2169.9V2175.9M361.8 2172.5V2169.9H364.9V2169.9M358.2 2168.1V2160.6H363.3V2169.9M367.6 2171.4V2177.4M369 2171.4V2177.4M367.6 2171.4V2171.4H369V2171.4M370.3 2186.2V2192.2M371.7 2186.2V2192.2M370.3 2186.2V2186.2H371.7V2186.2M373.1 2185.5V2191.5M374.4 2185.5V2191.5M373.1 2185.5V2185.5H374.4V2185.5M371 2186.2V2175.5H373.7V2185.5M368.3 2171.4V2165H372.4V2175.5M366.2 2162V2168M366.2 2162V2162H370.3V2165M360.7 2160.6V2155.1H368.3V2162M375.8 2146.8V2152.8M364.5 2155.1V2146.8H375.8V2146.8M379.9 2174.9V2180.9M381.3 2174.9V2180.9M379.9 2174.9V2174.9H381.3V2174.9M378.5 2166.8V2172.8M378.5 2166.8V2166.8H380.6V2174.9M382.6 2170.3V2176.3M384 2170.3V2176.3M382.6 2170.3V2170.3H384V2170.3M379.6 2166.8V2164.8H383.3V2170.3M377.2 2160.2V2166.2M377.2 2160.2V2160.2H381.4V2164.8M385.4 2157.1V2163.1M379.3 2160.2V2157.1H385.4V2157.1M386.7 2155V2161M382.3 2157.1V2155H386.7V2155M388.1 2187.4V2193.4M389.5 2187.4V2193.4M388.1 2187.4V2187.4H389.5V2187.4M384.5 2155V2149.7H388.8V2187.4M370.2 2146.8V2140.3H386.7V2149.7M353.9 2130.1V2136.1M353.9 2130.1V2130.1H378.4V2140.3M349.3 2143.7V2125.9H366.2V2130.1M335.8 2125.3V2119H357.7V2125.9M309.3 2116.6V2109.8H346.8V2119M392.2 2165.7V2171.7M393.6 2165.7V2171.7M392.2 2165.7V2165.7H393.6V2165.7M390.9 2158V2164M390.9 2158V2158H392.9V2165.7M328 2109.8V2099.2H391.9V2158M290.9 2130.7V2087.4H359.9V2099.2M399.1 2162.9V2168.9M400.4 2162.9V2168.9M399.1 2162.9V2162.9H400.4V2162.9M397.7 2158.1V2164.1M397.7 2158.1V2158.1H399.7V2162.9M401.8 2152.4V2158.4M398.7 2158.1V2152.4H401.8V2152.4M396.3 2149.2V2155.2M396.3 2149.2V2149.2H400.3V2152.4M403.2 2156.9V2162.9M404.5 2156.9V2162.9M403.2 2156.9V2156.9H404.5V2156.9M398.3 2149.2V2139.4H403.9V2156.9M405.9 2183.4V2189.4M407.3 2183.4V2189.4M405.9 2183.4V2183.4H407.3V2183.4M408.6 2172V2178M410 2172V2178M408.6 2172V2172H410V2172M411.4 2165.4V2171.4M412.7 2165.4V2171.4M411.4 2165.4V2165.4H412.7V2165.4M409.3 2172V2159.2H412.1V2165.4M414.1 2152.7V2158.7M410.7 2159.2V2152.7H414.1V2152.7M415.5 2167.2V2173.2M416.9 2167.2V2173.2M415.5 2167.2V2167.2H416.9V2167.2M412.4 2152.7V2148.5H416.2V2167.2M422.3 2185.3V2191.3M423.7 2185.3V2191.3M422.3 2185.3V2185.3H423.7V2185.3M425.1 2187.4V2193.4M426.4 2187.4V2193.4M425.1 2187.4V2187.4H426.4V2187.4M423 2185.3V2180.9H425.7V2187.4M427.8 2177.1V2183.1M424.4 2180.9V2177.1H427.8V2177.1M429.2 2168.2V2174.2M426.1 2177.1V2168.2H429.2V2168.2M421 2163.6V2169.6M421 2163.6V2163.6H427.6V2168.2M419.6 2155.8V2161.8M419.6 2155.8V2155.8H424.3V2163.6M418.2 2149.8V2155.8M418.2 2149.8V2149.8H421.9V2155.8M414.3 2148.5V2141.3H420.1V2149.8M406.6 2183.4V2130.5H417.2V2141.3M401.1 2139.4V2126.6H411.9V2130.5M395 2121.1V2127.1M395 2121.1V2121.1H406.5V2126.6M430.5 2113.4V2119.4M400.7 2121.1V2113.4H430.5V2113.4M434.6 2178.8V2184.8M436 2178.8V2184.8M434.6 2178.8V2178.8H436V2178.8M433.3 2161.5V2167.5M433.3 2161.5V2161.5H435.3V2178.8M431.9 2151.3V2157.3M431.9 2151.3V2151.3H434.3V2161.5M438.7 2177V2183M440.1 2177V2183M438.7 2177V2177H440.1V2177M442.9 2169.4V2175.4M444.2 2169.4V2175.4M442.9 2169.4V2169.4H444.2V2169.4M445.6 2165.1V2171.1M443.5 2169.4V2165.1H445.6V2165.1M441.5 2156.8V2162.8M441.5 2156.8V2156.8H444.6V2165.1M447 2148.7V2154.7M443 2156.8V2148.7H447V2148.7M439.4 2177V2140.5H445V2148.7M437.4 2133V2139M437.4 2133V2133H442.2V2140.5M452.4 2189.8V2195.8M453.8 2189.8V2195.8M452.4 2189.8V2189.8H453.8V2189.8M455.2 2180.1V2186.1M453.1 2189.8V2180.1H455.2V2180.1M456.5 2171.3V2177.3M454.1 2180.1V2171.3H456.5V2171.3M451.1 2169.3V2175.3M451.1 2169.3V2169.3H455.3V2171.3M449.7 2163.6V2169.6M449.7 2163.6V2163.6H453.2V2169.3M457.9 2155.5V2161.5M451.5 2163.6V2155.5H457.9V2155.5M448.3 2153.2V2159.2M448.3 2153.2V2153.2H454.7V2155.5M459.3 2143.8V2149.8M451.5 2153.2V2143.8H459.3V2143.8M460.6 2136.1V2142.1M455.4 2143.8V2136.1H460.6V2136.1M462 2156.2V2162.2M463.4 2156.2V2162.2M462 2156.2V2156.2H463.4V2156.2M464.8 2169.4V2175.4M466.1 2169.4V2175.4M464.8 2169.4V2169.4H466.1V2169.4M467.5 2174.2V2180.2M468.9 2174.2V2180.2M467.5 2174.2V2174.2H468.9V2174.2M470.2 2167.3V2173.3M471.6 2167.3V2173.3M470.2 2167.3V2167.3H471.6V2167.3M468.2 2174.2V2161.3H470.9V2167.3M465.4 2169.4V2151.3H469.5V2161.3M473 2140.7V2146.7M467.5 2151.3V2140.7H473V2140.7M462.7 2156.2V2134.1H470.2V2140.7M458 2136.1V2126.2H466.5V2134.1M439.8 2133V2122.7H462.2V2126.2M433.1 2151.3V2112.1H451V2122.7M475.7 2165.1V2171.1M477.1 2165.1V2171.1M475.7 2165.1V2165.1H477.1V2165.1M474.3 2152.2V2158.2M474.3 2152.2V2152.2H476.4V2165.1M478.4 2170.9V2176.9M479.8 2170.9V2176.9M478.4 2170.9V2170.9H479.8V2170.9M481.2 2161V2167M479.1 2170.9V2161H481.2V2161M482.5 2152.9V2158.9M480.1 2161V2152.9H482.5V2152.9M483.9 2142.2V2148.2M481.3 2152.9V2142.2H483.9V2142.2M475.4 2152.2V2137.4H482.6V2142.2M486.6 2175.4V2181.4M488 2175.4V2181.4M486.6 2175.4V2175.4H488V2175.4M485.3 2158.5V2164.5M485.3 2158.5V2158.5H487.3V2175.4M489.4 2148V2154M486.3 2158.5V2148H489.4V2148M479 2137.4V2132.1H487.8V2148M490.8 2162.7V2168.7M492.1 2162.7V2168.7M490.8 2162.7V2162.7H492.1V2162.7M483.4 2132.1V2124.1H491.4V2162.7M442.1 2112.1V2104H487.4V2124.1M415.6 2113.4V2094.5H464.7V2104M493.5 2085.6V2091.6M440.2 2094.5V2085.6H493.5V2085.6M325.4 2087.4V2076.6H466.8V2085.6M267.6 2089.2V2051.4H396.1V2076.6M496.2 2163.4V2169.4M497.6 2163.4V2169.4M496.2 2163.4V2163.4H497.6V2163.4M494.9 2143.9V2149.9M494.9 2143.9V2143.9H496.9V2163.4M499 2135.8V2141.8M495.9 2143.9V2135.8H499V2135.8M504.4 2163.9V2169.9M505.8 2163.9V2169.9M504.4 2163.9V2163.9H505.8V2163.9M503.1 2144.9V2150.9M503.1 2144.9V2144.9H505.1V2163.9M501.7 2140V2146M501.7 2140V2140H504.1V2144.9M507.2 2174.6V2180.6M508.5 2174.6V2180.6M507.2 2174.6V2174.6H508.5V2174.6M502.9 2140V2135.1H507.9V2174.6M500.3 2120V2126M500.3 2120V2120H505.4V2135.1M509.9 2118V2124M502.9 2120V2118H509.9V2118M497.4 2135.8V2111.8H506.4V2118M512.6 2169.5V2175.5M514 2169.5V2175.5M512.6 2169.5V2169.5H514V2169.5M511.3 2150.7V2156.7M511.3 2150.7V2150.7H513.3V2169.5M501.9 2111.8V2101.4H512.3V2150.7M515.4 2165.4V2171.4M516.8 2165.4V2171.4M515.4 2165.4V2165.4H516.8V2165.4M518.1 2173V2179M519.5 2173V2179M518.1 2173V2173H519.5V2173M516.1 2165.4V2138.8H518.8V2173M520.9 2130.6V2136.6M517.4 2138.8V2130.6H520.9V2130.6M522.2 2159.9V2165.9M523.6 2159.9V2165.9M522.2 2159.9V2159.9H523.6V2159.9M525 2143.9V2149.9M522.9 2159.9V2143.9H525V2143.9M526.3 2161.2V2167.2M527.7 2161.2V2167.2M526.3 2161.2V2161.2H527.7V2161.2M523.9 2143.9V2135.1H527V2161.2M529.1 2114.9V2120.9M525.5 2135.1V2114.9H529.1V2114.9M519.1 2130.6V2108.3H527.3V2114.9M530.4 2101.1V2107.1M523.2 2108.3V2101.1H530.4V2101.1M507.1 2101.4V2083.8H526.8V2101.1M533.2 2155.8V2161.8M534.5 2155.8V2161.8M533.2 2155.8V2155.8H534.5V2155.8M531.8 2150.6V2156.6M531.8 2150.6V2150.6H533.9V2155.8M535.9 2162.1V2168.1M537.3 2162.1V2168.1M535.9 2162.1V2162.1H537.3V2162.1M532.8 2150.6V2141H536.6V2162.1M538.6 2169.7V2175.7M540 2169.7V2175.7M538.6 2169.7V2169.7H540V2169.7M542.8 2182V2188M544.1 2182V2188M542.8 2182V2182H544.1V2182M541.4 2178.7V2184.7M541.4 2178.7V2178.7H543.4V2182M545.5 2174.5V2180.5M542.4 2178.7V2174.5H545.5V2174.5M546.9 2177.2V2183.2M548.2 2177.2V2183.2M546.9 2177.2V2177.2H548.2V2177.2M544 2174.5V2165H547.5V2177.2M549.6 2154.9V2160.9M545.7 2165V2154.9H549.6V2154.9M552.3 2167.2V2173.2M553.7 2167.2V2173.2M552.3 2167.2V2167.2H553.7V2167.2M555.1 2171.7V2177.7M556.4 2171.7V2177.7M555.1 2171.7V2171.7H556.4V2171.7M557.8 2167.2V2173.2M555.8 2171.7V2167.2H557.8V2167.2M559.2 2161.9V2167.9M556.8 2167.2V2161.9H559.2V2161.9M553 2167.2V2159.9H558V2161.9M551 2156V2162M551 2156V2156H555.5V2159.9M547.7 2154.9V2148.5H553.2V2156M560.5 2146.1V2152.1M550.5 2148.5V2146.1H560.5V2146.1M539.3 2169.7V2138.3H555.5V2146.1M534.7 2141V2130.7H547.4V2138.3M561.9 2125.5V2131.5M541.1 2130.7V2125.5H561.9V2125.5M563.3 2151.6V2157.6M564.6 2151.6V2157.6M563.3 2151.6V2151.6H564.6V2151.6M551.5 2125.5V2121.2H564V2151.6M566 2109V2115M557.7 2121.2V2109H566V2109M517 2083.8V2065.8H561.9V2109M567.4 2164.9V2170.9M568.8 2164.9V2170.9M567.4 2164.9V2164.9H568.8V2164.9M570.1 2168.6V2174.6M571.5 2168.6V2174.6M570.1 2168.6V2168.6H571.5V2168.6M568.1 2164.9V2126H570.8V2168.6M572.9 2150.9V2156.9M574.2 2150.9V2156.9M572.9 2150.9V2150.9H574.2V2150.9M575.6 2143.5V2149.5M573.5 2150.9V2143.5H575.6V2143.5M577 2158.5V2164.5M578.3 2158.5V2164.5M577 2158.5V2158.5H578.3V2158.5M574.6 2143.5V2127.8H577.6V2158.5M569.4 2126V2104.7H576.1V2127.8M581.1 2146.8V2152.8M582.4 2146.8V2152.8M581.1 2146.8V2146.8H582.4V2146.8M579.7 2134.5V2140.5M579.7 2134.5V2134.5H581.8V2146.8M586.5 2166.8V2172.8M587.9 2166.8V2172.8M586.5 2166.8V2166.8H587.9V2166.8M589.3 2172.4V2178.4M590.7 2172.4V2178.4M589.3 2172.4V2172.4H590.7V2172.4M592 2140.7V2146.7M590 2172.4V2140.7H592V2140.7M593.4 2127.9V2133.9M591 2140.7V2127.9H593.4V2127.9M587.2 2166.8V2123.9H592.2V2127.9M585.2 2120.5V2126.5M585.2 2120.5V2120.5H589.7V2123.9M596.1 2168.9V2174.9M597.5 2168.9V2174.9M596.1 2168.9V2168.9H597.5V2168.9M598.9 2142.6V2148.6M596.8 2168.9V2142.6H598.9V2142.6M594.8 2123.5V2129.5M594.8 2123.5V2123.5H597.8V2142.6M600.2 2154.1V2160.1M601.6 2154.1V2160.1M600.2 2154.1V2154.1H601.6V2154.1M603 2134.6V2140.6M600.9 2154.1V2134.6H603V2134.6M604.3 2169.1V2175.1M605.7 2169.1V2175.1M604.3 2169.1V2169.1H605.7V2169.1M607.1 2134.1V2140.1M605 2169.1V2134.1H607.1V2134.1M601.9 2134.6V2123.7H606V2134.1M596.3 2123.5V2118.2H604V2123.7M608.4 2110.9V2116.9M600.1 2118.2V2110.9H608.4V2110.9M609.8 2104.4V2110.4M604.3 2110.9V2104.4H609.8V2104.4M587.4 2120.5V2093.7H607.1V2104.4M583.8 2088.2V2094.2M583.8 2088.2V2088.2H597.2V2093.7M580.7 2134.5V2085.8H590.5V2088.2M572.8 2104.7V2073H585.6V2085.8M611.2 2167.9V2173.9M612.5 2167.9V2173.9M611.2 2167.9V2167.9H612.5V2167.9M618 2157V2163M619.4 2157V2163M618 2157V2157H619.4V2157M616.7 2151V2157M616.7 2151V2151H618.7V2157M620.8 2145.8V2151.8M617.7 2151V2145.8H620.8V2145.8M615.3 2139.9V2145.9M615.3 2139.9V2139.9H619.2V2145.8M622.1 2137.9V2143.9M617.2 2139.9V2137.9H622.1V2137.9M623.5 2131.8V2137.8M619.7 2137.9V2131.8H623.5V2131.8M624.9 2121.4V2127.4M621.6 2131.8V2121.4H624.9V2121.4M629 2170.7V2176.7M630.3 2170.7V2176.7M629 2170.7V2170.7H630.3V2170.7M631.7 2152.2V2158.2M629.7 2170.7V2152.2H631.7V2152.2M633.1 2153.2V2159.2M634.4 2153.2V2159.2M633.1 2153.2V2153.2H634.4V2153.2M630.7 2152.2V2141.6H633.8V2153.2M635.8 2139.3V2145.3M632.2 2141.6V2139.3H635.8V2139.3M627.6 2129.8V2135.8M627.6 2129.8V2129.8H634V2139.3M626.2 2122.6V2128.6M626.2 2122.6V2122.6H630.8V2129.8M637.2 2117.8V2123.8M628.5 2122.6V2117.8H637.2V2117.8M623.2 2121.4V2109.4H632.8V2117.8M613.9 2104.2V2110.2M613.9 2104.2V2104.2H628V2109.4M638.5 2174.8V2180.8M639.9 2174.8V2180.8M638.5 2174.8V2174.8H639.9V2174.8M641.3 2156.6V2162.6M642.7 2156.6V2162.6M641.3 2156.6V2156.6H642.7V2156.6M639.2 2174.8V2142.9H642V2156.6M644 2136.9V2142.9M640.6 2142.9V2136.9H644V2136.9M645.4 2130.3V2136.3M642.3 2136.9V2130.3H645.4V2130.3M649.5 2175.3V2181.3M650.9 2175.3V2181.3M649.5 2175.3V2175.3H650.9V2175.3M652.2 2147V2153M650.2 2175.3V2147H652.2V2147M648.1 2139.4V2145.4M648.1 2139.4V2139.4H651.2V2147M646.8 2130V2136M646.8 2130V2130H649.7V2139.4M643.8 2130.3V2102.3H648.2V2130M621 2104.2V2095.5H646V2102.3M611.9 2167.9V2091.9H633.5V2095.5M653.6 2076.6V2082.6M622.7 2091.9V2076.6H653.6V2076.6M579.2 2073V2051.4H638.1V2076.6M539.4 2065.8V2038.8H608.7V2051.4M331.9 2051.4V2029.8H574V2038.8M239.7 2082.5V2002.8H453V2029.8M160.4 2004.6V1975.8H346.3V2002.8" stroke="#4a4a4a" stroke-width="1.25" fill="none"/><path d="M75.9 1965L75.9 2264" stroke="#555" stroke-width="1.3" fill="none"/><path d="M70 2199L75.9 2199" stroke="#555" stroke-width="1.3" fill="none"/><text class="sb" x="0" y="0" font-size="16.9" text-anchor="middle" transform="translate(59 2199) rotate(-90)">50</text><path d="M70 2109L75.9 2109" stroke="#555" stroke-width="1.3" fill="none"/><text class="sb" x="0" y="0" font-size="16.9" text-anchor="middle" transform="translate(59 2109) rotate(-90)">100</text><path d="M70 2019L75.9 2019" stroke="#555" stroke-width="1.3" fill="none"/><text class="sb" x="0" y="0" font-size="16.9" text-anchor="middle" transform="translate(59 2019) rotate(-90)">150</text><text class="sb" x="0" y="0" font-size="19" text-anchor="middle" transform="translate(31 2109) rotate(-90)">Height</text><path d="M96.9 2293.6h2m2 0h4m14 0h2m8 0h10m6 0h4m10 0h2m2 0h2m16 0h2m8 0h2m8 0h2m14 0h2m6 0h6m10 0h2m2 0h2m2 0h2m4 0h2m2 0h4m10 0h2m12 0h2m8 0h2m2 0h2m4 0h8m8 0h4m2 0h4m4 0h2m2 0h2m20 0h2m10 0h2m8 0h4m2 0h4m8 0h8m10 0h2m4 0h4m16 0h2m8 0h4m16 0h2m2 0h2m6 0h8m12 0h2m4 0h4m2 0h2m10 0h2m4 0h2m16 0h4m8 0h2m4 0h4m12 0h2m12 0h2m4 0h4m2 0h2m12 0h2m10 0h2m4 0h2m2 0h2m-542 49.7h2m124 0h2m16 0h2m2 0h2m10 0h4m2 0h4m4 0h8m6 0h2m8 0h4m2 0h2m2 0h2m6 0h2m6 0h4m16 0h4m6 0h6m4 0h6m2 0h2m6 0h4m4 0h4m2 0h2m8 0h2m6 0h2m4 0h2m2 0h4m4 0h4m2 0h4m2 0h2m4 0h2m8 0h4m12 0h2m2 0h4m2 0h2m4 0h2m2 0h4m8 0h2m2 0h2m4 0h2m2 0h2m4 0h4m4 0h6m6 0h2m4 0h4m4 0h2m10 0h2m4 0h2m6 0h8m12 0h2m2 0h6m4 0h8m2 0h2m2 0h2" stroke="#d86a4f" stroke-width="49.2" fill="none"/><path d="M98.9 2293.6h2m6 0h2m2 0h2m4 0h2m2 0h6m12 0h4m8 0h2m2 0h4m8 0h2m6 0h6m2 0h2m2 0h4m6 0h4m2 0h2m8 0h2m4 0h6m6 0h6m6 0h2m20 0h2m22 0h2m58 0h2m38 0h2m4 0h4m46 0h2m26 0h4m60 0h2m76 0h2m4 0h2m14 0h4m-370 49.7h2m12 0h2m8 0h2m8 0h2m8 0h2m2 0h2m6 0h2m44 0h2m12 0h2m34 0h2m28 0h2m4 0h2m2 0h4m8 0h2m18 0h2m2 0h2m4 0h2m8 0h2m4 0h2m2 0h2m4 0h2m4 0h2m4 0h4m10 0h2m4 0h2m4 0h2m4 0h2m36 0h2m2 0h2" stroke="#d05033" stroke-width="49.2" fill="none"/><path d="M104.9 2293.6h2m20 0h2m14 0h2m8 0h2m38 0h2m42 0h4m12 0h2m26 0h2m38 0h2m182 0h2m-208 49.7h2m34 0h2m180 0h2m8 0h2m6 0h2m18 0h2m14 0h2" stroke="#c83618" stroke-width="49.2" fill="none"/><path d="M108.9 2293.6h2m2 0h4m32 0h2m10 0h2m2 0h2m2 0h2m14 0h2m8 0h2m10 0h6m44 0h2m8 0h6m2 0h2m6 0h4m6 0h4m18 0h6m6 0h2m4 0h4m2 0h2m2 0h2m2 0h2m2 0h4m4 0h4m4 0h2m2 0h2m4 0h2m34 0h8m4 0h2m4 0h2m2 0h4m12 0h6m4 0h2m2 0h2m2 0h4m10 0h6m8 0h8m2 0h2m10 0h2m2 0h2m2 0h4m4 0h2m18 0h2m14 0h2m12 0h4m12 0h4m2 0h4m8 0h2m6 0h4m2 0h4m4 0h2m2 0h4m2 0h2m2 0h0.1m-556.1 49.7h2m22 0h2m4 0h2m2 0h2m8 0h2m10 0h2m16 0h2m6 0h2m6 0h2m4 0h4m4 0h4m36 0h2m8 0h4m2 0h2m2 0h4m10 0h2m4 0h2m12 0h2m26 0h2m6 0h2m6 0h16m4 0h6m16 0h2m4 0h4m6 0h2m4 0h2m4 0h6m2 0h2m18 0h4m4 0h2m20 0h2m8 0h8m14 0h2m8 0h2m40 0h2m6 0h2m16 0h6m4 0h2m2 0h6m10 0h4m2 0h2m12 0h2m18 0h2m2 0h2.1" stroke="#e18c75" stroke-width="49.2" fill="none"/><path d="M170.9 2293.6h2m32 0h2m8 0h2m46 0h2m12 0h2m12 0h2m6 0h2m2 0h4m48 0h4m6 0h2m2 0h2m2 0h2m8 0h2m16 0h2m30 0h2m4 0h6m18 0h2m14 0h2m32 0h2m10 0h2m14 0h2m4 0h2m4 0h2m10 0h2m6 0h2m4 0h4m16 0h2m22 0h2m-528 49.7h2m2 0h2m8 0h2m2 0h2m2 0h4m4 0h2m6 0h8m4 0h2m2 0h4m2 0h4m2 0h6m2 0h2m4 0h4m6 0h2m4 0h2m4 0h2m8 0h8m2 0h6m6 0h4m6 0h2m2 0h8m16 0h2m38 0h2m12 0h2m50 0h2m32 0h2m10 0h2m6 0h2m26 0h2m8 0h2m44 0h2m116 0h2m8 0h2m8 0h2" stroke="#ecb2a0" stroke-width="49.2" fill="none"/><path d="M172.9 2293.6h2m170 0h2m164 0h2m30 0h4m2 0h2m32 0h2m4 0h2m34 0h2m-524 49.7h4m2 0h2m50 0h2m6 0h2m4 0h2m24 0h2m64 0h2m38 0h2m22 0h2m64 0h2m34 0h2m54 0h2m86 0h2m8 0h2m32 0h2m22 0h2" stroke="#fcf4f2" stroke-width="49.2" fill="none"/><path d="M246.9 2293.6h2m2 0h2m26 0h2m98 0h4m16 0h2m10 0h2m10 0h2m24 0h2m16 0h2m62 0h2m18 0h2m8 0h4m2 0h2m24 0h6m-492 49.7h2m8 0h2m6 0h2m4 0h2m12 0h2m2 0h2m32 0h4m4 0h2m14 0h2m8 0h2m6 0h6m4 0h4m64 0h2m122 0h2m48 0h2m128 0h2" stroke="#f5d4ca" stroke-width="49.2" fill="none"/><path d="M96.9 2269.2L655 2269.2" stroke="#222" stroke-width="1.2" fill="none"/><path d="M96.9 2318.2L655 2318.2" stroke="#222" stroke-width="1.2" fill="none"/><path d="M96.9 2368.3L655 2368.3" stroke="#777" stroke-width="1" fill="none"/><text class="s" x="91.5" y="2297.5" font-size="12.5" text-anchor="end">MPRGs</text><text class="s" x="91.5" y="2347.2" font-size="12.5" text-anchor="end">PLRGs</text>
<text class="s" x="702" y="21.5" font-size="25">F</text><rect x="763.1" y="80" width="271.4" height="334" fill="none" stroke="#555" stroke-width="1.2"/><path d="M763.1 101.1L1034.5 101.1" stroke="#e0201c" stroke-width="1.1" fill="none"/><text class="s" x="773.1" y="406.7" font-size="14.5" text-anchor="middle" fill="#d0101a">1</text><text class="s" x="786.3" y="195.6" font-size="14.5" text-anchor="middle" fill="#d0101a">2</text><text class="s" x="799.5" y="122" font-size="14.5" text-anchor="middle" fill="#d0101a">3</text><text class="s" x="812.8" y="104.2" font-size="14.5" text-anchor="middle" fill="#d0101a">4</text><text class="s" x="826" y="99.5" font-size="14.5" text-anchor="middle" fill="#d0101a">5</text><text class="s" x="839.2" y="98.2" font-size="14.5" text-anchor="middle" fill="#d0101a">6</text><text class="s" x="852.4" y="98.2" font-size="14.5" text-anchor="middle" fill="#d0101a">7</text><text class="s" x="865.6" y="99.5" font-size="14.5" text-anchor="middle" fill="#d0101a">8</text><text class="s" x="878.9" y="103.2" font-size="14.5" text-anchor="middle" fill="#d0101a">9</text><text class="s" x="892.1" y="100.5" font-size="14.5" text-anchor="middle" fill="#d0101a">10</text><text class="s" x="918.5" y="126" font-size="14.5" text-anchor="middle" fill="#d0101a">12</text><text class="s" x="945" y="117.3" font-size="14.5" text-anchor="middle" fill="#d0101a">14</text><text class="s" x="971.4" y="118.3" font-size="14.5" text-anchor="middle" fill="#d0101a">16</text><text class="s" x="997.8" y="110.6" font-size="14.5" text-anchor="middle" fill="#d0101a">18</text><text class="s" x="1024.3" y="113.3" font-size="14.5" text-anchor="middle" fill="#d0101a">20</text><path d="M826 414L826 419" stroke="#333" stroke-width="1" fill="none"/><text class="sb" x="826" y="436" font-size="16.3" text-anchor="middle">5</text><path d="M892.1 414L892.1 419" stroke="#333" stroke-width="1" fill="none"/><text class="sb" x="892.1" y="436" font-size="16.3" text-anchor="middle">10</text><path d="M958.2 414L958.2 419" stroke="#333" stroke-width="1" fill="none"/><text class="sb" x="958.2" y="436" font-size="16.3" text-anchor="middle">15</text><path d="M1024.3 414L1024.3 419" stroke="#333" stroke-width="1" fill="none"/><text class="sb" x="1024.3" y="436" font-size="16.3" text-anchor="middle">20</text><path d="M758.1 402.2L763.1 402.2" stroke="#333" stroke-width="1" fill="none"/><text class="sb" x="0" y="0" font-size="16.5" text-anchor="middle" transform="translate(749 402.2) rotate(-90)">0.0</text><path d="M758.1 335.3L763.1 335.3" stroke="#333" stroke-width="1" fill="none"/><text class="sb" x="0" y="0" font-size="16.5" text-anchor="middle" transform="translate(749 335.3) rotate(-90)">0.2</text><path d="M758.1 268.4L763.1 268.4" stroke="#333" stroke-width="1" fill="none"/><text class="sb" x="0" y="0" font-size="16.5" text-anchor="middle" transform="translate(749 268.4) rotate(-90)">0.4</text><path d="M758.1 201.4L763.1 201.4" stroke="#333" stroke-width="1" fill="none"/><text class="sb" x="0" y="0" font-size="16.5" text-anchor="middle" transform="translate(749 201.4) rotate(-90)">0.6</text><path d="M758.1 134.5L763.1 134.5" stroke="#333" stroke-width="1" fill="none"/><text class="sb" x="0" y="0" font-size="16.5" text-anchor="middle" transform="translate(749 134.5) rotate(-90)">0.8</text><text class="sb" x="898.8" y="51" font-size="18.2" text-anchor="middle">Scale independence</text><text class="sb" x="898.8" y="460" font-size="18.2" text-anchor="middle">Soft Threshold (power)</text><text class="sb" x="0" y="0" font-size="18.2" text-anchor="middle" transform="translate(724.5 247) rotate(-90)">Scale Free Topology Model Fit,signed R^2</text><rect x="1117.8" y="80" width="271.2" height="334" fill="none" stroke="#555" stroke-width="1.2"/><text class="s" x="1127.2" y="97.9" font-size="14.5" text-anchor="middle" fill="#d0101a">1</text><text class="s" x="1140.4" y="314.8" font-size="14.5" text-anchor="middle" fill="#d0101a">2</text><text class="s" x="1153.7" y="370.2" font-size="14.5" text-anchor="middle" fill="#d0101a">3</text><text class="s" x="1166.9" y="390.3" font-size="14.5" text-anchor="middle" fill="#d0101a">4</text><text class="s" x="1180.2" y="397.4" font-size="14.5" text-anchor="middle" fill="#d0101a">5</text><text class="s" x="1193.4" y="401.5" font-size="14.5" text-anchor="middle" fill="#d0101a">6</text><text class="s" x="1206.6" y="403.2" font-size="14.5" text-anchor="middle" fill="#d0101a">7</text><text class="s" x="1219.9" y="404.2" font-size="14.5" text-anchor="middle" fill="#d0101a">8</text><text class="s" x="1233.1" y="404.9" font-size="14.5" text-anchor="middle" fill="#d0101a">9</text><text class="s" x="1246.4" y="405.2" font-size="14.5" text-anchor="middle" fill="#d0101a">10</text><text class="s" x="1272.8" y="405.6" font-size="14.5" text-anchor="middle" fill="#d0101a">12</text><text class="s" x="1299.3" y="405.7" font-size="14.5" text-anchor="middle" fill="#d0101a">14</text><text class="s" x="1325.8" y="405.8" font-size="14.5" text-anchor="middle" fill="#d0101a">16</text><text class="s" x="1352.3" y="405.8" font-size="14.5" text-anchor="middle" fill="#d0101a">18</text><text class="s" x="1378.8" y="405.9" font-size="14.5" text-anchor="middle" fill="#d0101a">20</text><path d="M1180.2 414L1180.2 419" stroke="#333" stroke-width="1" fill="none"/><text class="sb" x="1180.2" y="436" font-size="16.3" text-anchor="middle">5</text><path d="M1246.4 414L1246.4 419" stroke="#333" stroke-width="1" fill="none"/><text class="sb" x="1246.4" y="436" font-size="16.3" text-anchor="middle">10</text><path d="M1312.6 414L1312.6 419" stroke="#333" stroke-width="1" fill="none"/><text class="sb" x="1312.6" y="436" font-size="16.3" text-anchor="middle">15</text><path d="M1378.8 414L1378.8 419" stroke="#333" stroke-width="1" fill="none"/><text class="sb" x="1378.8" y="436" font-size="16.3" text-anchor="middle">20</text><path d="M1112.8 401.4L1117.8 401.4" stroke="#333" stroke-width="1" fill="none"/><text class="sb" x="0" y="0" font-size="16.5" text-anchor="middle" transform="translate(1103 401.4) rotate(-90)">0</text><path d="M1112.8 333.4L1117.8 333.4" stroke="#333" stroke-width="1" fill="none"/><text class="sb" x="0" y="0" font-size="16.5" text-anchor="middle" transform="translate(1103 333.4) rotate(-90)">200</text><path d="M1112.8 265.4L1117.8 265.4" stroke="#333" stroke-width="1" fill="none"/><text class="sb" x="0" y="0" font-size="16.5" text-anchor="middle" transform="translate(1103 265.4) rotate(-90)">400</text><path d="M1112.8 197.4L1117.8 197.4" stroke="#333" stroke-width="1" fill="none"/><text class="sb" x="0" y="0" font-size="16.5" text-anchor="middle" transform="translate(1103 197.4) rotate(-90)">600</text><path d="M1112.8 129.4L1117.8 129.4" stroke="#333" stroke-width="1" fill="none"/><text class="sb" x="0" y="0" font-size="16.5" text-anchor="middle" transform="translate(1103 129.4) rotate(-90)">800</text><text class="sb" x="1253.4" y="51" font-size="18.2" text-anchor="middle">Mean connectivity</text><text class="sb" x="1253.4" y="460" font-size="18.2" text-anchor="middle">Soft Threshold (power)</text><text class="sb" x="0" y="0" font-size="18.2" text-anchor="middle" transform="translate(1081 247) rotate(-90)">Mean Connectivity</text>
<text class="s" x="712" y="551" font-size="25">G</text><text class="sb" x="1071.8" y="567.5" font-size="22.7" text-anchor="middle">Cluster Dendrogram</text><path d="M779.6 581L779.6 932.6" stroke="#666" stroke-width="1.4" fill="none"/><path d="M771.8 932.1L779.5 932.1" stroke="#444" stroke-width="1.2" fill="none"/><text class="sb" x="0" y="0" font-size="20.5" text-anchor="middle" transform="translate(762 932.1) rotate(-90)">0.6</text><path d="M771.8 841.9L779.5 841.9" stroke="#444" stroke-width="1.2" fill="none"/><text class="sb" x="0" y="0" font-size="20.5" text-anchor="middle" transform="translate(762 841.9) rotate(-90)">0.7</text><path d="M771.8 751.7L779.5 751.7" stroke="#444" stroke-width="1.2" fill="none"/><text class="sb" x="0" y="0" font-size="20.5" text-anchor="middle" transform="translate(762 751.7) rotate(-90)">0.8</text><path d="M771.8 661.5L779.5 661.5" stroke="#444" stroke-width="1.2" fill="none"/><text class="sb" x="0" y="0" font-size="20.5" text-anchor="middle" transform="translate(762 661.5) rotate(-90)">0.9</text><text class="sb" x="0" y="0" font-size="22.5" text-anchor="middle" transform="translate(731.5 767) rotate(-90)">Height</text><path d="M812.3 644V950M823.1 647.1V950M834 673.1V950M844.8 664.4V950M855.7 669.9V950M866.5 684.7V950M877.3 701.7V950M888.2 772.6V950M899 723.6V950M909.9 767.4V950M920.7 750V950M931.5 765V950M942.4 785V950M953.2 814.4V950M964.1 832.6V950M974.9 822.7V950M985.7 868.8V950M996.6 928.3V950M1007.4 694.4V950M1018.3 706.3V950M1029.1 728V950M1039.9 767.4V950M1050.8 805.1V950M1061.6 822V950M1072.5 862.5V950M1083.3 645V950M1094.1 674.8V950M1105 663.1V950M1115.8 654.7V950M1126.7 664.3V950M1137.5 669.7V950M1148.3 684.3V950M1159.2 693.2V950M1170 644V950M1180.9 654.4V950M1191.7 660V950M1202.5 674V950M1213.4 674.3V950M1224.2 684.2V950M1235.1 694.1V950M1245.9 709.8V950M1256.7 720.3V950M1267.6 740.3V950M1278.4 765.5V950M1289.3 804.7V950M1300.1 833.5V950M1310.9 695.3V950M1321.8 709.4V950M1332.6 714.6V950" stroke="#707070" stroke-width="1.5" fill="none" stroke-dasharray="1 1.9"/><path d="M801.1 604V595.5H1072.5V607M844.7 626V630.5H1003.7M940.6 741V740.6H998.8V770M1200 632V633.4H1298.8V640M1290.6 792V788H1298.8V797.7" stroke="#000" stroke-width="1.2" fill="none"/><polygon points="799.7,607.7 802.5,609 805.3,610.2 808.1,611.5 810.9,612.7 813.7,614 816.3,615.1 818.9,616.4 821.5,617.7 824.2,619.1 826.8,620.4 829.5,621.7 831.5,622.7 835.6,626.3 839.9,630.2 844.2,634 848.5,637.8 852.8,641.6 856.6,645 860.2,650.2 864,655.7 867.8,661.2 871.7,666.8 875.5,672.3 879.5,678.1 884.1,683.3 888.6,688.4 893,693.5 897.5,698.5 902,703.6 906.4,708.6 911.3,714.3 916.3,720 921.2,725.8 926.2,731.5 931.1,737.2 935.9,742.7 938.8,747.3 942,752.3 945.1,757.2 948.3,762.2 951.4,767.1 954.5,771.8 957.1,777.6 959.8,783.6 962.6,789.7 965.3,795.7 968.1,801.7 970.7,807.4 972.5,814.4 974.4,821.7 976.3,828.9 978.3,836.2 980.2,843.5 982.1,850.6 983.3,857.2 984.6,863.8 985.9,870.5 987.2,877.1 988.5,883.7 989.8,890.4 990.9,896.8 992,903.3 993.1,909.8 994.2,916.2 995.3,922.7 996.5,929.2 998.9,928.8 998.2,922.3 997.4,915.8 996.6,909.2 995.8,902.7 995,896.2 994.2,889.6 993.2,882.9 992.1,876.2 991.1,869.5 990,862.9 989,856.2 987.9,849.4 986.2,842 984.4,834.7 982.7,827.4 980.9,820.1 979.1,812.7 977.3,805.2 974.6,798.8 972,792.7 969.4,786.6 966.8,780.6 964.3,774.5 961.5,768.2 958.4,762.9 955.4,757.8 952.4,752.8 949.4,747.7 946.3,742.7 943.1,737.3 938,731.3 933.2,725.5 928.3,719.7 923.4,714 918.5,708.2 913.6,702.4 909.2,697.3 904.8,692.2 900.4,687 896,681.9 891.6,676.8 887.3,671.9 883.5,666.7 879.5,661.2 875.6,655.8 871.6,650.3 867.6,644.8 863.4,639 858.5,634.9 854.1,631.2 849.7,627.5 845.3,623.8 840.9,620.2 836.3,616.3 833,614.6 830.4,613.3 827.7,611.9 825.1,610.6 822.4,609.3 819.7,607.9 816.7,606.7 813.8,605.6 810.9,604.5 808.1,603.4 805.2,602.4 802.3,601.3" fill="#000"/><path d="M803.5 608v3.9M805.7 609.2v21M808.8 610.5v5.5M812.9 611.7v2.7M814.6 613v10.7M829.4 619.4v3.7M831.7 620.7v4.5M841.6 629.2v3M847 633v2.1M851.5 636.8v18.2M856 640.6v6.9M863.7 649.2v6.5M871.9 660.2v19.5M878.9 671.3v6.3M883.1 677.1v12.1M887.4 682.3v3.1M892.9 687.4v12.1M897 692.5v3.2M900.9 697.5v21.3M906.4 702.6v2.9M914 713.3v2.8M919.4 719v5.1M925.1 724.8v6.8M929.8 730.5v5.5M938.7 741.7v5M941.9 746.3v4.6M951.2 761.2v4.4M955.1 766.1v6.7M958.8 770.8v14.4M960.1 776.6v10.8M963.8 782.6v7M966.6 788.7v3.2M967.8 794.7v6.6M971.5 800.7v4M973.9 806.4v13.5M976.7 813.4v2.4M978.5 820.7v6.9M978.7 827.9v4.3M980.4 835.2v12M982.7 842.5v3M985.9 849.6v3M986.4 856.2v6.5M988.3 862.8v2.3M995 908.8v3.2M997.6 928.2v13.5" stroke="#111" stroke-width="0.9" fill="none"/><polygon points="1001.5,631.7 1003.3,635.3 1005,638.9 1006.8,642.6 1008.6,646.2 1010.4,649.9 1012,653.3 1014.4,659.8 1016.9,666.5 1019.3,673.2 1021.8,679.9 1024.3,686.5 1026.7,693.1 1029.2,701.3 1031.7,709.6 1034.3,718 1036.8,726.3 1039.3,734.6 1041.9,742.9 1044.1,751.1 1046.3,759.4 1048.6,767.8 1050.8,776.1 1053.1,784.4 1055.3,792.6 1056.9,800.2 1058.5,807.8 1060.2,815.5 1061.8,823.1 1063.4,830.7 1065,838.4 1065.9,842.7 1066.8,847.1 1067.6,851.5 1068.5,855.9 1069.4,860.3 1070.3,864.7 1072.7,864.3 1072.1,859.9 1071.5,855.4 1070.9,851 1070.2,846.5 1069.6,842.1 1069,837.6 1067.6,829.9 1066.2,822.2 1064.8,814.5 1063.5,806.9 1062.1,799.2 1060.7,791.4 1058.6,783 1056.5,774.6 1054.4,766.2 1052.3,757.9 1050.2,749.5 1048.1,741.1 1045.7,732.7 1043.2,724.4 1040.7,716 1038.3,707.7 1035.8,699.3 1033.3,690.9 1030.7,684.1 1028.2,677.5 1025.7,670.8 1023.1,664.2 1020.6,657.5 1018,650.7 1015.9,647 1013.9,643.4 1011.9,639.9 1009.9,636.4 1007.9,632.9 1005.9,629.3" fill="#000"/><path d="M1005.7 634.3v2.3M1006.6 637.9v8.2M1013.2 648.9v12.2M1014.6 652.3v13.5M1019.4 665.5v10.6M1021.8 672.2v3.6M1024.8 678.9v7M1026.9 685.5v4.5M1031.5 700.3v6M1034.9 708.6v19.9M1039.4 725.3v3.4M1043.4 733.6v5.7M1044.9 741.9v2.9M1046.6 750.1v12.8M1049 758.4v22M1051.8 766.8v6M1055.4 783.4v6.8M1058.9 791.6v4.3M1059.9 799.2v5.4M1060.3 806.8v11.4M1062.4 814.5v4M1063.4 822.1v20.1M1064.8 829.7v19.5M1067.5 837.4v4M1068 846.1v4.6M1069.7 850.5v6.7M1069.4 854.9v4.3M1071 859.3v6.2" stroke="#111" stroke-width="0.9" fill="none"/><polygon points="997.8,741.1 998.2,745.9 998.6,750.7 999,755.6 999.4,760.4 999.7,765.2 1000.1,770.1 1000.5,774.7 1000.8,779.3 1001.2,783.9 1001.5,788.5 1001.9,793.1 1002.3,797.8 1003.7,797.6 1003.4,793 1003.1,788.4 1002.8,783.8 1002.5,779.2 1002.2,774.6 1001.9,769.9 1001.5,765.1 1001.2,760.3 1000.8,755.4 1000.5,750.6 1000.1,745.8 999.8,740.9" fill="#000"/><polygon points="1072.1,611.5 1076.7,612.2 1081.3,612.8 1085.9,613.5 1090.5,614.2 1095,614.9 1099.6,615.6 1104.7,616.2 1109.7,616.9 1114.7,617.6 1119.7,618.3 1124.6,619 1129.6,619.6 1135.9,620.5 1142.2,621.3 1148.5,622.2 1154.8,623 1161.1,623.9 1167.4,624.7 1168.2,619.3 1161.9,618.5 1155.6,617.6 1149.3,616.8 1143,616 1136.7,615.2 1130.4,614.4 1125.4,613.7 1120.3,613.1 1115.3,612.4 1110.3,611.7 1105.3,611.1 1100.4,610.4 1095.8,609.8 1091.2,609.1 1086.6,608.5 1082,607.8 1077.4,607.2 1072.9,606.5" fill="#000"/><path d="M1077.4 611.2v20.6M1082.3 611.8v2.4M1085.4 612.5v3.8M1090.8 613.2v4.1M1100 614.6v11.6M1104.6 615.2v4.7M1115.4 616.6v20.1M1120 617.3v4.3M1124.8 618v2.6M1130.9 618.6v21.1M1142.8 620.3v2.1M1149.8 621.2v14.1M1155.9 622v6.4M1161.4 622.9v10.5" stroke="#111" stroke-width="0.9" fill="none"/><polygon points="1070.9,609.4 1072.4,611.6 1073.9,613.8 1075.4,615.9 1076.9,618.1 1078.4,620.3 1079.8,622.1 1081.1,625.2 1082.6,628.5 1084,631.8 1085.5,635.1 1086.9,638.4 1088.3,641.5 1089.4,645.9 1090.6,650.5 1091.8,655 1092.9,659.5 1094.1,664.1 1095.2,668.6 1097.2,668.2 1096.3,663.6 1095.4,659 1094.4,654.4 1093.5,649.8 1092.6,645.2 1091.7,640.5 1090.4,637 1089.2,633.6 1088,630.2 1086.8,626.8 1085.5,623.5 1084.2,619.9 1082.6,617.4 1081.1,615.2 1079.6,613.1 1078.1,610.9 1076.6,608.7 1075.1,606.6" fill="#000"/><path d="M1073.6 610.6v5.4M1075.7 612.8v7.3M1079.4 617.1v5M1080.4 619.3v4.9M1081.3 621.1v10.2M1084.2 624.2v13.1M1085.6 630.8v11.1M1088.3 634.1v6.4M1088.3 637.4v6M1089.3 640.5v3.5M1091.8 644.9v7.5M1091.4 649.5v6.9M1093.6 658.5v6.9M1094.6 663.1v21.6M1095.7 667.6v6.8" stroke="#111" stroke-width="0.9" fill="none"/><polygon points="1095.7,610.9 1096.9,613.6 1098.2,616.2 1099.4,618.9 1100.7,621.5 1101.9,624.2 1103.1,626.6 1104.3,631.8 1105.6,637.2 1106.9,642.7 1108.2,648.1 1109.4,653.5 1110.7,658.9 1112.7,658.5 1111.7,653 1110.8,647.5 1109.8,642 1108.9,636.6 1107.9,631.1 1106.9,625.4 1105.6,622.5 1104.5,619.8 1103.3,617.1 1102.1,614.4 1100.9,611.8 1099.7,609.1" fill="#000"/><path d="M1099.4 612.6v3.3M1100.8 615.2v3.9M1102 617.9v6.1M1102.3 620.5v4.7M1104.7 623.2v13.2M1104.6 625.6v3.3M1105.6 630.8v5.1M1107.5 636.2v6.5M1108.3 641.7v10.5M1109.5 647.1v5.2M1110.9 652.5v2.5M1112 657.9v17.9" stroke="#111" stroke-width="0.9" fill="none"/><polygon points="1112.9,614.3 1114.7,615.1 1116.6,615.9 1118.5,616.7 1120.3,617.5 1122.2,618.3 1123.3,618.5 1124.2,620.5 1125.4,623.2 1126.7,625.8 1127.9,628.4 1129.2,631.1 1130.3,633.4 1130.6,636.1 1130.9,639.1 1131.3,642.1 1131.6,645.1 1132,648.1 1132.3,651.1 1134.3,650.9 1134.2,647.9 1134.1,644.9 1134,641.9 1133.9,638.9 1133.8,635.9 1133.7,632.6 1132.5,629.6 1131.4,626.9 1130.3,624.2 1129.2,621.5 1128.2,618.8 1126.7,615.5 1124.1,614.1 1122.3,613.2 1120.4,612.3 1118.6,611.5 1116.8,610.6 1114.9,609.7" fill="#000"/><path d="M1116.6 614.9v16.8M1121.8 616.5v2.4M1124.6 617.5v6.3M1128.1 622.2v18.8M1127.9 624.8v6.6M1130.4 627.4v18.6M1132.5 632.4v2.3M1131.3 635.1v6.7M1131.8 638.1v2M1133.6 641.1v5.4M1132.8 644.1v3.1M1132.8 647.1v4.2M1133.9 650.1v4.3" stroke="#111" stroke-width="0.9" fill="none"/><polygon points="1136.6,616.8 1137.9,620.1 1139.2,623.4 1140.5,626.7 1141.8,630 1143.1,633.3 1144.3,636.4 1145.3,643.1 1146.4,649.9 1147.4,656.7 1148.5,663.5 1149.6,670.3 1150.6,677.1 1152.6,676.9 1151.8,670 1151,663.2 1150.2,656.3 1149.4,649.5 1148.5,642.6 1147.7,635.6 1146.5,632 1145.4,628.7 1144.2,625.3 1143.1,622 1142,618.6 1140.8,615.2" fill="#000"/><path d="M1139.8 619.1v6.2M1141.8 622.4v4M1143.1 625.7v3.6M1144.5 629v6.6M1144.5 632.3v16.6M1147.4 648.9v6.8M1149 662.5v2.5M1150.6 669.3v10M1151.2 676.1v5.8" stroke="#111" stroke-width="0.9" fill="none"/><polygon points="1150.6,618.7 1151.9,622.5 1153.1,626.3 1154.4,630.1 1155.7,633.9 1157,637.7 1158.3,641.3 1159.3,648.6 1160.4,656.1 1161.4,663.5 1162.5,670.9 1163.6,678.3 1164.6,685.7 1166.6,685.5 1165.8,678 1165,670.6 1164.2,663.1 1163.4,655.7 1162.5,648.2 1161.7,640.7 1160.5,636.6 1159.4,632.8 1158.3,628.9 1157.1,625 1156,621.2 1154.8,617.3" fill="#000"/><path d="M1153.6 621.5v5.5M1156.8 629.1v2.6M1158.5 632.9v2.3M1159.7 636.7v3.9M1159.8 640.3v5M1161.5 647.6v3.6M1162.4 655.1v2.3M1163.6 662.5v9.8M1162.8 669.9v2.3M1165 684.7v5.2" stroke="#111" stroke-width="0.9" fill="none"/><polygon points="1167,623.9 1169,624.6 1171,625.3 1173,626 1175,626.7 1177,627.4 1178.6,628 1181.7,629.5 1185,631.2 1188.3,632.9 1191.6,634.5 1194.9,636.2 1197.9,637.7 1200.1,639.2 1202.6,640.9 1205.1,642.5 1207.6,644.2 1210.1,645.9 1212.5,647.4 1215.2,649.6 1218.1,652 1221,654.3 1223.9,656.6 1226.8,659 1229.4,661.1 1231.1,663 1233.1,665.3 1235,667.6 1237,669.9 1239,672.2 1240.9,674.5 1242.3,676.4 1243.9,678.4 1245.4,680.3 1246.9,682.3 1248.5,684.3 1249.7,685.8 1251.5,689.5 1253.3,693.5 1255.2,697.5 1257.1,701.5 1258.9,705.5 1260.7,709.2 1262.5,714.4 1264.3,719.7 1266.1,725 1267.9,730.3 1269.7,735.6 1271.5,740.8 1273.5,748.2 1275.5,755.6 1277.5,763 1279.6,770.5 1281.6,777.9 1283.6,785.3 1285,790.4 1286.4,795.4 1287.8,800.4 1289.2,805.5 1290.7,810.5 1292.1,815.4 1293,819.6 1293.9,823.9 1294.8,828.2 1295.7,832.5 1296.6,836.8 1297.6,841 1300,840.6 1299.4,836.2 1298.7,831.9 1298,827.6 1297.3,823.3 1296.6,819 1295.9,814.6 1294.7,809.4 1293.4,804.3 1292.2,799.3 1290.9,794.2 1289.7,789.1 1288.4,784.1 1286.6,776.6 1284.7,769.1 1282.9,761.7 1281,754.2 1279.2,746.7 1277.3,739.2 1275.6,733.7 1273.9,728.4 1272.3,723 1270.6,717.6 1269,712.3 1267.3,706.8 1265.4,702.5 1263.6,698.5 1261.8,694.5 1260,690.5 1258.2,686.5 1256.3,682.2 1254.5,679.7 1253.1,677.7 1251.6,675.7 1250.1,673.6 1248.7,671.6 1247.1,669.5 1245.2,667.1 1243.3,664.7 1241.4,662.4 1239.5,660 1237.6,657.6 1235.4,654.9 1232.2,652.4 1229.3,650 1226.4,647.7 1223.5,645.4 1220.6,643 1217.5,640.6 1214.9,638.8 1212.4,637.1 1209.9,635.5 1207.4,633.8 1204.9,632.1 1202.1,630.3 1198.5,628.7 1195.1,627.1 1191.7,625.6 1188.3,624.1 1185,622.6 1181.4,621 1179,620.4 1176.9,620 1174.8,619.5 1172.8,619 1170.7,618.6 1168.6,618.1" fill="#000"/><path d="M1172.4 624.3v3.9M1183 628.5v3.8M1186 630.2v6.3M1190.5 631.9v2.2M1192.8 633.5v6.9M1196.8 635.2v14.7M1199.7 636.7v6.8M1202.6 638.2v16.3M1205.9 639.9v10.2M1210.5 643.2v3.2M1211.5 644.9v3M1215.4 646.4v10M1217.1 648.6v6.3M1220.1 651v20.8M1222.8 653.3v3M1226.3 655.6v2M1229.2 658v6.7M1232.6 660.1v10.8M1235.2 662v4.5M1236.8 664.3v2.8M1238.7 666.6v5M1242.2 671.2v5.9M1244.4 673.5v6.9M1245.9 675.4v20.9M1247.5 677.4v17.7M1250.9 681.3v16.4M1250.6 683.3v6.6M1253.8 688.5v21.7M1259.1 696.5v9.8M1259.5 700.5v14M1263.1 704.5v4.3M1267.2 718.7v5.3M1271.7 729.3v6M1272.7 734.6v6.1M1276.7 747.2v21.7M1279 754.6v3.6M1282.3 769.5v4.3M1283.4 776.9v3.7M1286.5 784.3v2M1289.6 794.4v17M1292 809.5v4.3M1295 818.6v6.4M1296.8 827.2v6.7M1297.1 831.5v2.2M1297.7 835.8v14.6" stroke="#111" stroke-width="0.9" fill="none"/><polygon points="1298.8,633.4 1308,640 1318,648 1327,656 1334,663 1337.5,668 1339.5,680 1341.5,698 1342.6,717 1340.5,712 1337,697 1333,684 1325,671 1315,660 1306,651 1298.8,645" fill="#000"/><path d="M1299.5 643.6v4.3M1300.6 644.5v7.3M1302.1 645.7v6.8M1303.3 646.7v6M1304.4 647.7v5.2M1305.3 648.4v12.9M1306.3 649.3v4.5M1307.8 650.8v16.8M1309.2 652.2v14.3M1310.3 653.3v3.4M1311.2 654.2v9M1312.3 655.3v7M1313.5 656.5v6.1M1315.2 658.2v6.6M1316.8 660v16.3M1318.3 661.6v17.7M1319.5 663v8.7M1321.2 664.8v13.6M1322.9 666.7v3.4M1323.8 667.7v17.1M1325.2 669.3v3.2M1326.4 671.2v4.1M1327.2 672.6v3.2M1328.6 674.9v5.8M1330.4 677.8v4.7M1332 680.3v5.1M1333.8 684.5v5.6M1335.2 689.3v9.5M1336.8 694.5v9.3M1338.6 701.8v17.6M1339.6 706.3v3.4" stroke="#111" stroke-width="0.9" fill="none"/><path d="M803.3 603L803.3 653.3M807 605L807 629.6M811.3 608L811.3 633.9M835.6 619L835.6 668.4M842.5 625L842.5 640.3M865.1 650L865.1 679.1M884.5 672L891.4 770.7M880 670L885 690M906.1 692L906.1 762.1M952.4 760L952.4 807.4M965.3 790L965.3 828.9M1009.5 640L1009.5 683.4M1023.5 680L1023.5 703.9M1044 740L1044 781.5M1054.8 770L1054.8 809.5M1180.7 625L1180.7 645.7M1208.7 640L1208.7 667.3M1222.7 650L1222.7 668.4M1235.6 665L1235.6 680.2M1299 634L1299.5 655M1305 640L1306 668M1312 648L1313 682M1318 655L1319 690M1325 663L1326 700M1330 672L1331 698M1336 685L1337 710M1322 660L1323 700M1328 668L1328.5 705M1076 608L1077 626M1085 620L1086 640M1102 614L1103 640M1120 614L1121 645M1127 617L1128 662M1143 625L1144 650M1157 628L1158 660M1250 690L1251 715M1262 710L1263 720M1030 690L1031 710M1040 725L1041 760M1062 820L1063 838M990 870L991 900M980 830L981 870M925 720L926 760M945 745L946 770" stroke="#000" stroke-width="1" fill="none"/><rect x="801.3" y="955.2" width="54.6" height="82.7" fill="#b3b3b3"/><rect x="855.6" y="955.2" width="14.9" height="82.7" fill="#98b8b4"/><rect x="870.2" y="955.2" width="133.6" height="82.7" fill="#79b9b0"/><rect x="1003.5" y="955.2" width="68.1" height="82.7" fill="#7a1c1c"/><rect x="1071.3" y="955.2" width="8.4" height="82.7" fill="#b3b3b3"/><rect x="1079.4" y="955.2" width="17.9" height="82.7" fill="#78b035"/><rect x="1097" y="955.2" width="35.8" height="82.7" fill="#c8c49a"/><rect x="1132.5" y="955.2" width="7.6" height="82.7" fill="#eee840"/><rect x="1139.8" y="955.2" width="12.4" height="82.7" fill="#cc1111"/><rect x="1151.9" y="955.2" width="5.4" height="82.7" fill="#c8c0a0"/><rect x="1157" y="955.2" width="11.2" height="82.7" fill="#000000"/><rect x="1167.9" y="955.2" width="57.6" height="82.7" fill="#6a6f92"/><rect x="1225.2" y="955.2" width="73.6" height="82.7" fill="#24378e"/><rect x="1298.5" y="955.2" width="21.8" height="82.7" fill="#e8b83c"/><rect x="1320" y="955.2" width="23.2" height="82.7" fill="#eeea40"/><rect x="812" y="955.2" width="1.3" height="82.7" fill="#d99a9a"/><rect x="822" y="955.2" width="1.3" height="82.7" fill="#c98e8e"/><rect x="826" y="955.2" width="1.3" height="82.7" fill="#c9a0a0"/><rect x="883.8" y="955.2" width="1.3" height="82.7" fill="#8a9e9a"/><rect x="885" y="955.2" width="1.3" height="82.7" fill="#8a9e9a"/><rect x="887" y="955.2" width="1.3" height="82.7" fill="#8a9e9a"/><rect x="1011" y="955.2" width="1.3" height="82.7" fill="#a06a3a"/><rect x="1014" y="955.2" width="1.3" height="82.7" fill="#b58a40"/><rect x="1050" y="955.2" width="1.3" height="82.7" fill="#8a4a4a"/><rect x="1100" y="955.2" width="1.3" height="82.7" fill="#eeea40"/><rect x="1104" y="955.2" width="1.3" height="82.7" fill="#b3b3b3"/><rect x="1108" y="955.2" width="1.3" height="82.7" fill="#e8a040"/><rect x="1112" y="955.2" width="1.3" height="82.7" fill="#eeea40"/><rect x="1116" y="955.2" width="1.3" height="82.7" fill="#a0a8c8"/><rect x="1120" y="955.2" width="1.3" height="82.7" fill="#eeea40"/><rect x="1124" y="955.2" width="1.3" height="82.7" fill="#d09040"/><rect x="1128" y="955.2" width="1.3" height="82.7" fill="#b3b3b3"/><rect x="1170" y="955.2" width="1.3" height="82.7" fill="#b3b3b3"/><rect x="1173" y="955.2" width="1.3" height="82.7" fill="#eeea40"/><rect x="1176" y="955.2" width="1.3" height="82.7" fill="#a09060"/><rect x="1180" y="955.2" width="1.3" height="82.7" fill="#eeea40"/><rect x="1184" y="955.2" width="1.3" height="82.7" fill="#24378e"/><rect x="1188" y="955.2" width="1.3" height="82.7" fill="#c8b040"/><rect x="1192" y="955.2" width="1.3" height="82.7" fill="#5a6aa0"/><rect x="1196" y="955.2" width="1.3" height="82.7" fill="#eeea40"/><rect x="1200" y="955.2" width="1.3" height="82.7" fill="#24378e"/><rect x="1204" y="955.2" width="1.3" height="82.7" fill="#c07040"/><rect x="1208" y="955.2" width="1.3" height="82.7" fill="#24378e"/><rect x="1212" y="955.2" width="1.3" height="82.7" fill="#a0a080"/><rect x="1216" y="955.2" width="1.3" height="82.7" fill="#24378e"/><rect x="1220" y="955.2" width="1.3" height="82.7" fill="#8a8060"/><rect x="1232" y="955.2" width="1.3" height="82.7" fill="#1a2a70"/><rect x="1236" y="955.2" width="1.3" height="82.7" fill="#6a6a80"/><rect x="1245" y="955.2" width="1.3" height="82.7" fill="#1a2a70"/><rect x="1250" y="955.2" width="1.3" height="82.7" fill="#1a2a70"/><rect x="1258" y="955.2" width="1.3" height="82.7" fill="#1a2a70"/><rect x="1302" y="955.2" width="1.3" height="82.7" fill="#d84a2a"/><rect x="1306" y="955.2" width="1.3" height="82.7" fill="#eeea40"/><rect x="1310" y="955.2" width="1.3" height="82.7" fill="#d84a2a"/><rect x="1314" y="955.2" width="1.3" height="82.7" fill="#eeea40"/><rect x="1318" y="955.2" width="1.3" height="82.7" fill="#d06020"/><rect x="1330" y="955.2" width="1.3" height="82.7" fill="#d8d040"/><path d="M801.3 955.2L1342.9 955.2" stroke="#111" stroke-width="1.4" fill="none"/><path d="M801.3 1037.9L1342.9 1037.9" stroke="#333" stroke-width="1.4" fill="none"/><text class="s" x="723.4" y="1001" font-size="12.5">Module colors</text>
<text class="s" x="735" y="1132" font-size="26">H</text><text class="sb" x="1096.7" y="1131.5" font-size="16" text-anchor="middle">Module−trait relationships</text><rect x="848.6" y="1151.9" width="24.9" height="107.2" fill="#7a1b1b"/><rect x="877.5" y="1151.9" width="197.8" height="107.2" fill="#e3a08e"/><rect x="1075.3" y="1151.9" width="199.9" height="107.2" fill="#fdfaf3"/><text class="sb" x="844.2" y="1212.1" font-size="20.5" text-anchor="end">MEbrown</text><text class="s" x="976.4" y="1200.8" font-size="15" text-anchor="middle">0.39</text><text class="s" x="976.4" y="1219.8" font-size="15" text-anchor="middle">(5e−15)</text><text class="s" x="1175.2" y="1200.8" font-size="15" text-anchor="middle">0.074</text><text class="s" x="1175.2" y="1219.8" font-size="15" text-anchor="middle">(0.2)</text><rect x="848.6" y="1258.8" width="24.9" height="107.2" fill="#7ab9b1"/><rect x="877.5" y="1258.8" width="197.8" height="107.2" fill="#e8ac9b"/><rect x="1075.3" y="1258.8" width="199.9" height="107.2" fill="#95b9e8"/><text class="sb" x="844.2" y="1319" font-size="20.5" text-anchor="end">MEturquoise</text><text class="s" x="976.4" y="1307.7" font-size="15" text-anchor="middle">0.34</text><text class="s" x="976.4" y="1326.7" font-size="15" text-anchor="middle">(6e−12)</text><text class="s" x="1175.2" y="1307.7" font-size="15" text-anchor="middle">−0.47</text><text class="s" x="1175.2" y="1326.7" font-size="15" text-anchor="middle">(2e−22)</text><rect x="848.6" y="1365.6" width="24.9" height="107.2" fill="#cc0f13"/><rect x="877.5" y="1365.6" width="197.8" height="107.2" fill="#edf4fd"/><rect x="1075.3" y="1365.6" width="199.9" height="107.2" fill="#ffffff"/><text class="sb" x="844.2" y="1425.9" font-size="20.5" text-anchor="end">MEred</text><text class="s" x="976.4" y="1414.6" font-size="15" text-anchor="middle">−0.1</text><text class="s" x="976.4" y="1433.6" font-size="15" text-anchor="middle">(0.04)</text><text class="s" x="1175.2" y="1414.6" font-size="15" text-anchor="middle">1.4e−05</text><text class="s" x="1175.2" y="1433.6" font-size="15" text-anchor="middle">(1)</text><rect x="848.6" y="1472.5" width="24.9" height="107.2" fill="#78ad32"/><rect x="877.5" y="1472.5" width="197.8" height="107.2" fill="#f4d6ce"/><rect x="1075.3" y="1472.5" width="199.9" height="107.2" fill="#fdfaf3"/><text class="sb" x="844.2" y="1532.7" font-size="20.5" text-anchor="end">MEgreen</text><text class="s" x="976.4" y="1521.4" font-size="15" text-anchor="middle">0.16</text><text class="s" x="976.4" y="1540.4" font-size="15" text-anchor="middle">(0.001)</text><text class="s" x="1175.2" y="1521.4" font-size="15" text-anchor="middle">0.075</text><text class="s" x="1175.2" y="1540.4" font-size="15" text-anchor="middle">(0.1)</text><rect x="848.6" y="1579.3" width="24.9" height="107.2" fill="#eeea40"/><rect x="877.5" y="1579.3" width="197.8" height="107.2" fill="#d0e2f8"/><rect x="1075.3" y="1579.3" width="199.9" height="107.2" fill="#e29a85"/><text class="sb" x="844.2" y="1639.6" font-size="20.5" text-anchor="end">MEyellow</text><text class="s" x="976.4" y="1628.3" font-size="15" text-anchor="middle">−0.23</text><text class="s" x="976.4" y="1647.3" font-size="15" text-anchor="middle">(7e−06)</text><text class="s" x="1175.2" y="1628.3" font-size="15" text-anchor="middle">0.4</text><text class="s" x="1175.2" y="1647.3" font-size="15" text-anchor="middle">(2e−16)</text><rect x="848.6" y="1686.2" width="24.9" height="107.2" fill="#000000"/><rect x="877.5" y="1686.2" width="197.8" height="107.2" fill="#ffffff"/><rect x="1075.3" y="1686.2" width="199.9" height="107.2" fill="#f2cfc5"/><text class="sb" x="844.2" y="1746.4" font-size="20.5" text-anchor="end">MEblack</text><text class="s" x="976.4" y="1735.1" font-size="15" text-anchor="middle">−0.016</text><text class="s" x="976.4" y="1754.1" font-size="15" text-anchor="middle">(0.8)</text><text class="s" x="1175.2" y="1735.1" font-size="15" text-anchor="middle">0.21</text><text class="s" x="1175.2" y="1754.1" font-size="15" text-anchor="middle">(5e−05)</text><rect x="848.6" y="1793.1" width="24.9" height="107.2" fill="#24378e"/><rect x="877.5" y="1793.1" width="197.8" height="107.2" fill="#9dc1eb"/><rect x="1075.3" y="1793.1" width="199.9" height="107.2" fill="#d97d63"/><text class="sb" x="844.2" y="1853.3" font-size="20.5" text-anchor="end">MEblue</text><text class="s" x="976.4" y="1842" font-size="15" text-anchor="middle">−0.41</text><text class="s" x="976.4" y="1861" font-size="15" text-anchor="middle">(6e−17)</text><text class="s" x="1175.2" y="1842" font-size="15" text-anchor="middle">0.55</text><text class="s" x="1175.2" y="1861" font-size="15" text-anchor="middle">(2e−31)</text><rect x="877.5" y="1151.9" width="397.7" height="748" fill="none" stroke="#333" stroke-width="1.2"/><text class="sb" x="976.9" y="1920.3" font-size="20" text-anchor="middle">MPRGs</text><text class="sb" x="1175.2" y="1920.3" font-size="20" text-anchor="middle">PLRGs</text><defs><linearGradient id="hcb" x1="0" y1="1" x2="0" y2="0"><stop offset="0" stop-color="#466eb9"/><stop offset="0.25" stop-color="#8cb4e6"/><stop offset="0.5" stop-color="#ffffff"/><stop offset="0.75" stop-color="#e1876e"/><stop offset="1" stop-color="#cc2810"/></linearGradient></defs><rect x="1282.5" y="1196.2" width="10.8" height="659.6" fill="url(#hcb)" stroke="#222" stroke-width="1"/><path d="M1293.3 1196L1300 1196" stroke="#222" stroke-width="1" fill="none"/><text class="s" x="1302.5" y="1201.6" font-size="16.5">1</text><path d="M1293.3 1361L1300 1361" stroke="#222" stroke-width="1" fill="none"/><text class="s" x="1302.5" y="1366.6" font-size="16.5">0.5</text><path d="M1293.3 1526L1300 1526" stroke="#222" stroke-width="1" fill="none"/><text class="s" x="1302.5" y="1531.6" font-size="16.5">0</text><path d="M1293.3 1691L1300 1691" stroke="#222" stroke-width="1" fill="none"/><text class="s" x="1302.5" y="1696.6" font-size="16.5">−0.5</text><path d="M1293.3 1856L1300 1856" stroke="#222" stroke-width="1" fill="none"/><text class="s" x="1302.5" y="1861.6" font-size="16.5">−1</text>
<text class="s" x="787" y="2012" font-size="26">I</text><ellipse cx="971.9" cy="2168.8" rx="121.8" ry="115.8" fill="#b9c8e8"/><ellipse cx="1133.5" cy="2168.8" rx="121.8" ry="115.8" fill="#dc7679"/><clipPath id="cpI"><ellipse cx="971.9" cy="2168.8" rx="121.8" ry="115.8"/></clipPath><ellipse cx="1133.5" cy="2168.8" rx="121.8" ry="115.8" fill="#c07468" clip-path="url(#cpI)"/><ellipse cx="971.9" cy="2168.8" rx="121.8" ry="115.8" fill="none" stroke="#fff" stroke-width="0.8" stroke-opacity="0.8"/><ellipse cx="1133.5" cy="2168.8" rx="121.8" ry="115.8" fill="none" stroke="#fff" stroke-width="0.8" stroke-opacity="0.8"/><text class="s" x="966" y="2029.6" font-size="25.2" text-anchor="middle">DEGs</text><text class="s" x="1145" y="2029.6" font-size="25.2" text-anchor="middle">Modgenes</text><text class="s" x="962" y="2162.3" font-size="16.6" text-anchor="middle">4058</text><text class="s" x="962" y="2186.2" font-size="16.6" text-anchor="middle">(81.08%)</text><text class="s" x="1053.4" y="2162.3" font-size="16.6" text-anchor="middle">428</text><text class="s" x="1053.4" y="2186.2" font-size="16.6" text-anchor="middle">(8.55%)</text><text class="s" x="1145" y="2162.3" font-size="16.6" text-anchor="middle">519</text><text class="s" x="1145" y="2186.2" font-size="16.6" text-anchor="middle">(10.37%)</text></svg></body></html>
